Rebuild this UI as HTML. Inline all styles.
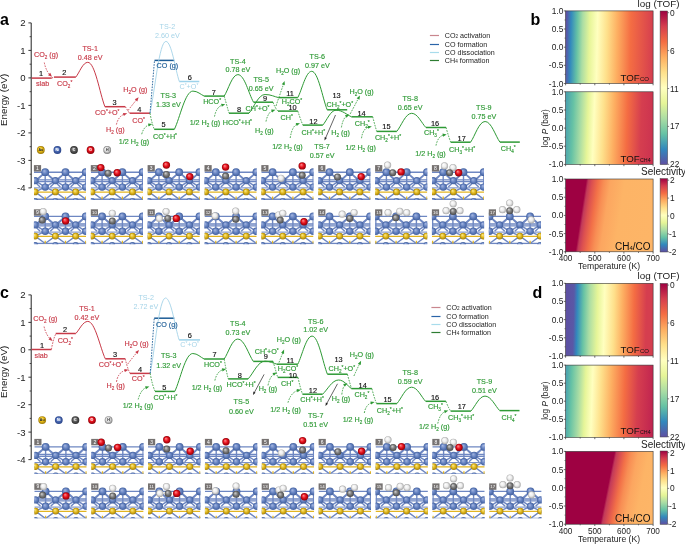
<!DOCTYPE html><html><head><meta charset="utf-8"><style>html,body{margin:0;padding:0;background:#fff;width:685px;height:544px;overflow:hidden}svg{display:block;will-change:transform}</style></head><body><svg width="685" height="544" viewBox="0 0 685 544" font-family="Liberation Sans, sans-serif">
<defs>
<radialGradient id="g_ni" cx="0.5" cy="0.5" r="0.5" fx="0.36" fy="0.32"><stop offset="0" stop-color="#a8b9e2"/><stop offset="0.55" stop-color="#6784c2"/><stop offset="1" stop-color="#42609e"/></radialGradient>
<radialGradient id="g_au" cx="0.5" cy="0.5" r="0.5" fx="0.36" fy="0.32"><stop offset="0" stop-color="#fbec96"/><stop offset="0.55" stop-color="#e2b91e"/><stop offset="1" stop-color="#a07e0a"/></radialGradient>
<radialGradient id="g_c" cx="0.5" cy="0.5" r="0.5" fx="0.36" fy="0.32"><stop offset="0" stop-color="#d4d4d4"/><stop offset="0.55" stop-color="#7c7c7c"/><stop offset="1" stop-color="#4a4a4a"/></radialGradient>
<radialGradient id="g_o" cx="0.5" cy="0.5" r="0.5" fx="0.36" fy="0.32"><stop offset="0" stop-color="#ff9090"/><stop offset="0.55" stop-color="#e6101c"/><stop offset="1" stop-color="#8c0008"/></radialGradient>
<radialGradient id="g_h" cx="0.5" cy="0.5" r="0.5" fx="0.36" fy="0.32"><stop offset="0" stop-color="#ffffff"/><stop offset="0.55" stop-color="#ececec"/><stop offset="1" stop-color="#a8a8a8"/></radialGradient>
<radialGradient id="L_ni" cx="0.5" cy="0.5" r="0.5" fx="0.36" fy="0.32"><stop offset="0" stop-color="#9ab0e0"/><stop offset="0.55" stop-color="#4868b2"/><stop offset="1" stop-color="#2a4488"/></radialGradient>
<radialGradient id="L_au" cx="0.5" cy="0.5" r="0.5" fx="0.36" fy="0.32"><stop offset="0" stop-color="#fff3a0"/><stop offset="0.55" stop-color="#e8bc18"/><stop offset="1" stop-color="#9a7606"/></radialGradient>
<radialGradient id="L_c" cx="0.5" cy="0.5" r="0.5" fx="0.36" fy="0.32"><stop offset="0" stop-color="#b0b0b0"/><stop offset="0.55" stop-color="#5c5c5c"/><stop offset="1" stop-color="#2c2c2c"/></radialGradient>
<radialGradient id="L_o" cx="0.5" cy="0.5" r="0.5" fx="0.36" fy="0.32"><stop offset="0" stop-color="#ff9090"/><stop offset="0.55" stop-color="#e6101c"/><stop offset="1" stop-color="#8c0008"/></radialGradient>
<radialGradient id="L_h" cx="0.5" cy="0.5" r="0.5" fx="0.36" fy="0.32"><stop offset="0" stop-color="#ffffff"/><stop offset="0.55" stop-color="#dcdcdc"/><stop offset="1" stop-color="#7c7c7c"/></radialGradient>
</defs>
<rect width="685" height="544" fill="#fff"/>
<text x="-0.1" y="24.6" font-size="16" font-weight="bold" fill="#000">a</text>
<text x="-0.1" y="297.7" font-size="16" font-weight="bold" fill="#000">c</text>
<text x="530.4" y="24.5" font-size="16" font-weight="bold" fill="#000">b</text>
<text x="532.6" y="298.2" font-size="16" font-weight="bold" fill="#000">d</text>
<line x1="31.2" y1="22.9" x2="31.2" y2="187.9" stroke="#222" stroke-width="1"/>
<line x1="28.4" y1="187.9" x2="31.2" y2="187.9" stroke="#222" stroke-width="0.9"/>
<text x="25.6" y="191.3" fill="#222" font-size="9.6" text-anchor="end" font-weight="normal" >-4</text>
<line x1="29.599999999999998" y1="174.2" x2="31.2" y2="174.2" stroke="#222" stroke-width="0.8"/>
<line x1="28.4" y1="160.4" x2="31.2" y2="160.4" stroke="#222" stroke-width="0.9"/>
<text x="25.6" y="163.8" fill="#222" font-size="9.6" text-anchor="end" font-weight="normal" >-3</text>
<line x1="29.599999999999998" y1="146.7" x2="31.2" y2="146.7" stroke="#222" stroke-width="0.8"/>
<line x1="28.4" y1="132.9" x2="31.2" y2="132.9" stroke="#222" stroke-width="0.9"/>
<text x="25.6" y="136.3" fill="#222" font-size="9.6" text-anchor="end" font-weight="normal" >-2</text>
<line x1="29.599999999999998" y1="119.2" x2="31.2" y2="119.2" stroke="#222" stroke-width="0.8"/>
<line x1="28.4" y1="105.4" x2="31.2" y2="105.4" stroke="#222" stroke-width="0.9"/>
<text x="25.6" y="108.8" fill="#222" font-size="9.6" text-anchor="end" font-weight="normal" >-1</text>
<line x1="29.599999999999998" y1="91.7" x2="31.2" y2="91.7" stroke="#222" stroke-width="0.8"/>
<line x1="28.4" y1="77.9" x2="31.2" y2="77.9" stroke="#222" stroke-width="0.9"/>
<text x="25.6" y="81.3" fill="#222" font-size="9.6" text-anchor="end" font-weight="normal" >0</text>
<line x1="29.599999999999998" y1="64.2" x2="31.2" y2="64.2" stroke="#222" stroke-width="0.8"/>
<line x1="28.4" y1="50.4" x2="31.2" y2="50.4" stroke="#222" stroke-width="0.9"/>
<text x="25.6" y="53.8" fill="#222" font-size="9.6" text-anchor="end" font-weight="normal" >1</text>
<line x1="29.599999999999998" y1="36.7" x2="31.2" y2="36.7" stroke="#222" stroke-width="0.8"/>
<line x1="28.4" y1="22.9" x2="31.2" y2="22.9" stroke="#222" stroke-width="0.9"/>
<text x="25.6" y="26.3" fill="#222" font-size="9.6" text-anchor="end" font-weight="normal" >2</text>
<text x="0" y="0" transform="translate(7.3,99.9) rotate(-90)" fill="#222" font-size="9.8" text-anchor="middle">Energy (eV)</text>
<line x1="31.6" y1="78.1" x2="51.7" y2="78.1" stroke="#c83a48" stroke-width="1.5"/>
<line x1="54.0" y1="77.1" x2="75.8" y2="77.1" stroke="#c83a48" stroke-width="1.5"/>
<line x1="104.9" y1="106.7" x2="125.3" y2="106.7" stroke="#c83a48" stroke-width="1.5"/>
<line x1="129.6" y1="113.2" x2="150.0" y2="113.2" stroke="#c83a48" stroke-width="1.5"/>
<line x1="154.5" y1="60.4" x2="174.2" y2="60.4" stroke="#1d5c96" stroke-width="1.5"/>
<line x1="154.2" y1="129.3" x2="174.4" y2="129.3" stroke="#2e9a35" stroke-width="1.5"/>
<line x1="179.3" y1="81.5" x2="199.3" y2="81.5" stroke="#9dd2ea" stroke-width="1.5"/>
<line x1="204.2" y1="96.1" x2="224.2" y2="96.1" stroke="#2e9a35" stroke-width="1.5"/>
<line x1="229.0" y1="113.2" x2="249.0" y2="113.2" stroke="#2e9a35" stroke-width="1.5"/>
<line x1="253.5" y1="102.2" x2="273.0" y2="102.2" stroke="#2e9a35" stroke-width="1.5"/>
<line x1="278.0" y1="111.1" x2="297.8" y2="111.1" stroke="#2e9a35" stroke-width="1.5"/>
<line x1="278.5" y1="97.6" x2="297.8" y2="97.6" stroke="#2e9a35" stroke-width="1.5"/>
<line x1="302.8" y1="125.1" x2="322.8" y2="125.1" stroke="#2e9a35" stroke-width="1.5"/>
<line x1="327.2" y1="109.8" x2="347.2" y2="109.8" stroke="#2e9a35" stroke-width="1.5"/>
<line x1="351.5" y1="116.8" x2="372.7" y2="116.8" stroke="#2e9a35" stroke-width="1.5"/>
<line x1="376.7" y1="131.4" x2="396.8" y2="131.4" stroke="#2e9a35" stroke-width="1.5"/>
<line x1="425.9" y1="127.5" x2="446.1" y2="127.5" stroke="#2e9a35" stroke-width="1.5"/>
<line x1="450.7" y1="142.2" x2="470.6" y2="142.2" stroke="#2e9a35" stroke-width="1.5"/>
<line x1="499.9" y1="142.1" x2="519.8" y2="142.1" stroke="#2e9a35" stroke-width="1.5"/>
<path d="M75.80,77.10 C79.40,72.66 82.76,62.30 87.80,62.30 C94.98,62.30 99.77,93.38 104.90,106.70" fill="none" stroke="#c83a48" stroke-width="1.0"/>
<path d="M150.00,113.20 C154.77,91.66 159.22,41.40 165.90,41.40 C171.53,41.40 175.28,69.47 179.30,81.50" fill="none" stroke="#a4d2e8" stroke-width="0.9"/>
<path d="M174.40,129.30 C179.95,117.84 185.13,91.10 192.90,91.10 C197.65,91.10 200.81,94.60 204.20,96.10" fill="none" stroke="#2e9a35" stroke-width="1.0"/>
<path d="M224.20,96.10 C228.31,89.65 232.15,74.60 237.90,74.60 C244.45,74.60 248.82,93.92 253.50,102.20" fill="none" stroke="#2e9a35" stroke-width="1.0"/>
<path d="M249.00,113.20 C253.83,107.59 258.34,94.50 265.10,94.50 C270.73,94.50 274.48,96.67 278.50,97.60" fill="none" stroke="#2e9a35" stroke-width="1.0"/>
<path d="M297.80,97.60 C301.97,89.71 305.86,71.30 311.70,71.30 C318.21,71.30 322.55,98.25 327.20,109.80" fill="none" stroke="#2e9a35" stroke-width="1.0"/>
<path d="M322.80,125.10 C326.76,120.63 330.46,110.20 336.00,110.20 C342.51,110.20 346.85,114.82 351.50,116.80" fill="none" stroke="#2e9a35" stroke-width="1.0"/>
<path d="M396.80,131.40 C401.27,125.97 405.44,113.30 411.70,113.30 C417.66,113.30 421.64,123.24 425.90,127.50" fill="none" stroke="#2e9a35" stroke-width="1.0"/>
<path d="M470.60,142.20 C474.95,135.99 479.01,121.50 485.10,121.50 C491.32,121.50 495.46,135.92 499.90,142.10" fill="none" stroke="#2e9a35" stroke-width="1.0"/>
<path d="M125.3,106.7 L129.2,112.8" fill="none" stroke="#c83a48" stroke-width="0.9" stroke-dasharray="1.6,1.2"/>
<path d="M150,113.2 L154.5,60.6" fill="none" stroke="#1d5c96" stroke-width="0.9" stroke-dasharray="1.6,1.2"/>
<path d="M150,113.2 Q151.5,122 154.2,129.3" fill="none" stroke="#2e9a35" stroke-width="0.9" stroke-dasharray="1.6,1.2"/>
<path d="M224.2,96.1 Q226.6,104.7 229,113.2" fill="none" stroke="#2e9a35" stroke-width="0.9" stroke-dasharray="1.6,1.2"/>
<path d="M273,102.2 Q275,108 278,111.1" fill="none" stroke="#2e9a35" stroke-width="0.9" stroke-dasharray="1.6,1.2"/>
<path d="M297.8,111.1 Q300,118 302.8,125.1" fill="none" stroke="#2e9a35" stroke-width="0.9" stroke-dasharray="1.6,1.2"/>
<path d="M372.7,116.8 Q374.5,124 376.7,131.4" fill="none" stroke="#2e9a35" stroke-width="0.9" stroke-dasharray="1.6,1.2"/>
<path d="M446.1,127.5 Q448,135 450.7,142.2" fill="none" stroke="#2e9a35" stroke-width="0.9" stroke-dasharray="1.6,1.2"/>
<path d="M51.7,78.1 L54,77.1" fill="none" stroke="#c83a48" stroke-width="0.9" stroke-dasharray="1.6,1.2"/>
<path d="M44.3,62.6 Q46.0,71.0 50.2,75.1" fill="none" stroke="#c83a48" stroke-width="0.9" stroke-dasharray="1.6,1.2"/>
<path d="M52.00,76.80 L48.01,75.17 L50.24,72.87 Z" fill="#c83a48"/>
<path d="M128.0,110.5 Q133.0,104.0 137.0,99.2" fill="none" stroke="#c83a48" stroke-width="0.9" stroke-dasharray="1.6,1.2"/>
<path d="M138.60,97.30 L137.26,101.40 L134.81,99.34 Z" fill="#c83a48"/>
<path d="M116.4,124.5 Q118.5,116.0 124.8,114.0" fill="none" stroke="#c83a48" stroke-width="0.9" stroke-dasharray="1.6,1.2"/>
<path d="M127.20,113.20 L123.88,115.95 L122.90,112.90 Z" fill="#c83a48"/>
<path d="M141.7,134.2 Q144.0,126.0 149.9,124.7" fill="none" stroke="#2e9a35" stroke-width="0.9" stroke-dasharray="1.6,1.2"/>
<path d="M152.30,124.10 L148.76,126.55 L148.04,123.43 Z" fill="#2e9a35"/>
<path d="M214.5,116.5 Q216.5,106.5 222.9,104.9" fill="none" stroke="#2e9a35" stroke-width="0.9" stroke-dasharray="1.6,1.2"/>
<path d="M225.30,104.30 L221.81,106.82 L221.03,103.72 Z" fill="#2e9a35"/>
<path d="M276.0,106.0 Q280.0,94.0 283.8,83.4" fill="none" stroke="#2e9a35" stroke-width="0.9" stroke-dasharray="1.6,1.2"/>
<path d="M284.60,81.00 L284.77,85.30 L281.76,84.24 Z" fill="#2e9a35"/>
<path d="M266.0,121.5 Q268.0,112.0 273.1,110.5" fill="none" stroke="#2e9a35" stroke-width="0.9" stroke-dasharray="1.6,1.2"/>
<path d="M275.50,109.80 L272.11,112.46 L271.21,109.39 Z" fill="#2e9a35"/>
<path d="M290.2,138.0 Q292.0,126.0 297.6,124.0" fill="none" stroke="#2e9a35" stroke-width="0.9" stroke-dasharray="1.6,1.2"/>
<path d="M300.00,123.20 L296.75,126.03 L295.70,123.01 Z" fill="#2e9a35"/>
<path d="M350.2,113.9 Q355.0,105.0 358.8,97.6" fill="none" stroke="#2e9a35" stroke-width="0.9" stroke-dasharray="1.6,1.2"/>
<path d="M359.90,95.40 L359.51,99.69 L356.66,98.24 Z" fill="#2e9a35"/>
<path d="M341.4,127.4 Q343.0,118.0 347.1,115.7" fill="none" stroke="#2e9a35" stroke-width="0.9" stroke-dasharray="1.6,1.2"/>
<path d="M349.30,114.50 L346.58,117.84 L345.03,115.04 Z" fill="#2e9a35"/>
<path d="M361.5,138.2 Q363.0,128.0 369.4,127.0" fill="none" stroke="#2e9a35" stroke-width="0.9" stroke-dasharray="1.6,1.2"/>
<path d="M371.90,126.60 L368.20,128.80 L367.70,125.64 Z" fill="#2e9a35"/>
<path d="M436.0,145.5 Q438.0,136.0 444.2,134.9" fill="none" stroke="#2e9a35" stroke-width="0.9" stroke-dasharray="1.6,1.2"/>
<path d="M446.70,134.50 L443.03,136.76 L442.49,133.60 Z" fill="#2e9a35"/>
<line x1="335.5" y1="115" x2="325.5" y2="138.2" stroke="#222" stroke-width="0.7"/>
<path d="M324.50,140.50 L324.67,137.09 L326.87,138.04 Z" fill="#222"/>
<text x="41.0" y="75.7" fill="#111" font-size="7.4" text-anchor="middle" font-weight="normal" stroke="#111" stroke-width="0.15">1</text>
<text x="64.2" y="74.5" fill="#111" font-size="7.4" text-anchor="middle" font-weight="normal" stroke="#111" stroke-width="0.15">2</text>
<text x="114.5" y="104.7" fill="#111" font-size="7.4" text-anchor="middle" font-weight="normal" stroke="#111" stroke-width="0.15">3</text>
<text x="139.4" y="111.8" fill="#111" font-size="7.4" text-anchor="middle" font-weight="normal" stroke="#111" stroke-width="0.15">4</text>
<text x="163.5" y="126.9" fill="#111" font-size="7.4" text-anchor="middle" font-weight="normal" stroke="#111" stroke-width="0.15">5</text>
<text x="189.7" y="79.7" fill="#111" font-size="7.4" text-anchor="middle" font-weight="normal" stroke="#111" stroke-width="0.15">6</text>
<text x="213.8" y="94.5" fill="#111" font-size="7.4" text-anchor="middle" font-weight="normal" stroke="#111" stroke-width="0.15">7</text>
<text x="239.1" y="111.9" fill="#111" font-size="7.4" text-anchor="middle" font-weight="normal" stroke="#111" stroke-width="0.15">8</text>
<text x="265.1" y="100.7" fill="#111" font-size="7.4" text-anchor="middle" font-weight="normal" stroke="#111" stroke-width="0.15">9</text>
<text x="292.6" y="110.1" fill="#111" font-size="7.4" text-anchor="middle" font-weight="normal" stroke="#111" stroke-width="0.15">10</text>
<text x="290.0" y="95.5" fill="#111" font-size="7.4" text-anchor="middle" font-weight="normal" stroke="#111" stroke-width="0.15">11</text>
<text x="313.4" y="123.9" fill="#111" font-size="7.4" text-anchor="middle" font-weight="normal" stroke="#111" stroke-width="0.15">12</text>
<text x="336.6" y="98.1" fill="#111" font-size="7.4" text-anchor="middle" font-weight="normal" stroke="#111" stroke-width="0.15">13</text>
<text x="361.5" y="115.7" fill="#111" font-size="7.4" text-anchor="middle" font-weight="normal" stroke="#111" stroke-width="0.15">14</text>
<text x="386.4" y="129.3" fill="#111" font-size="7.4" text-anchor="middle" font-weight="normal" stroke="#111" stroke-width="0.15">15</text>
<text x="435.0" y="126.1" fill="#111" font-size="7.4" text-anchor="middle" font-weight="normal" stroke="#111" stroke-width="0.15">16</text>
<text x="461.7" y="140.8" fill="#111" font-size="7.4" text-anchor="middle" font-weight="normal" stroke="#111" stroke-width="0.15">17</text>
<text x="42.6" y="86.2" fill="#c83a48" font-size="7.2" text-anchor="middle" font-weight="normal" stroke="#c83a48" stroke-width="0.15">slab</text>
<text x="64.7" y="86.2" fill="#c83a48" font-size="7.2" text-anchor="middle" font-weight="normal" stroke="#c83a48" stroke-width="0.15">CO<tspan font-size="64%" baseline-shift="-1.7">2</tspan><tspan font-size="68%" baseline-shift="2.3">*</tspan></text>
<text x="46.0" y="57.2" fill="#c83a48" font-size="7.2" text-anchor="middle" font-weight="normal" stroke="#c83a48" stroke-width="0.15">CO<tspan font-size="64%" baseline-shift="-1.7">2</tspan> (g)</text>
<text x="90.2" y="51.3" fill="#c83a48" font-size="7.2" text-anchor="middle" font-weight="normal" stroke="#c83a48" stroke-width="0.15">TS-1</text>
<text x="90.2" y="60.1" fill="#c83a48" font-size="7.2" text-anchor="middle" font-weight="normal" stroke="#c83a48" stroke-width="0.15">0.48 eV</text>
<text x="107.3" y="115.3" fill="#c83a48" font-size="7.2" text-anchor="middle" font-weight="normal" stroke="#c83a48" stroke-width="0.15">CO<tspan font-size="68%" baseline-shift="2.3">*</tspan>+O<tspan font-size="68%" baseline-shift="2.3">*</tspan></text>
<text x="135.4" y="91.5" fill="#c83a48" font-size="7.2" text-anchor="middle" font-weight="normal" stroke="#c83a48" stroke-width="0.15">H<tspan font-size="64%" baseline-shift="-1.7">2</tspan>O (g)</text>
<text x="115.3" y="131.8" fill="#c83a48" font-size="7.2" text-anchor="middle" font-weight="normal" stroke="#c83a48" stroke-width="0.15">H<tspan font-size="64%" baseline-shift="-1.7">2</tspan> (g)</text>
<text x="138.6" y="122.5" fill="#c83a48" font-size="7.2" text-anchor="middle" font-weight="normal" stroke="#c83a48" stroke-width="0.15">CO<tspan font-size="68%" baseline-shift="2.3">*</tspan></text>
<text x="167.4" y="29.1" fill="#a6d4e8" font-size="7.2" text-anchor="middle" font-weight="normal" stroke="#a6d4e8" stroke-width="0">TS-2</text>
<text x="167.4" y="37.6" fill="#a6d4e8" font-size="7.2" text-anchor="middle" font-weight="normal" stroke="#a6d4e8" stroke-width="0">2.60 eV</text>
<text x="167.4" y="67.6" fill="#1d5c96" font-size="7.2" text-anchor="middle" font-weight="normal" stroke="#1d5c96" stroke-width="0.15">CO (g)</text>
<text x="188.9" y="88.8" fill="#a6d4e8" font-size="7.2" text-anchor="middle" font-weight="normal" stroke="#a6d4e8" stroke-width="0">C<tspan font-size="68%" baseline-shift="2.3">*</tspan>+O<tspan font-size="68%" baseline-shift="2.3">*</tspan></text>
<text x="168.3" y="98.2" fill="#2e9a35" font-size="7.2" text-anchor="middle" font-weight="normal" stroke="#2e9a35" stroke-width="0.15">TS-3</text>
<text x="168.3" y="106.8" fill="#2e9a35" font-size="7.2" text-anchor="middle" font-weight="normal" stroke="#2e9a35" stroke-width="0.15">1.33 eV</text>
<text x="165.0" y="139.2" fill="#2e9a35" font-size="7.2" text-anchor="middle" font-weight="normal" stroke="#2e9a35" stroke-width="0.15">CO<tspan font-size="68%" baseline-shift="2.3">*</tspan>+H<tspan font-size="68%" baseline-shift="2.3">*</tspan></text>
<text x="134.0" y="144.2" fill="#2e9a35" font-size="7.2" text-anchor="middle" font-weight="normal" stroke="#2e9a35" stroke-width="0.15">1/2 H<tspan font-size="64%" baseline-shift="-1.7">2</tspan> (g)</text>
<text x="212.1" y="104.3" fill="#2e9a35" font-size="7.2" text-anchor="middle" font-weight="normal" stroke="#2e9a35" stroke-width="0.15">HCO<tspan font-size="68%" baseline-shift="2.3">*</tspan></text>
<text x="237.9" y="63.6" fill="#2e9a35" font-size="7.2" text-anchor="middle" font-weight="normal" stroke="#2e9a35" stroke-width="0.15">TS-4</text>
<text x="237.9" y="71.8" fill="#2e9a35" font-size="7.2" text-anchor="middle" font-weight="normal" stroke="#2e9a35" stroke-width="0.15">0.78 eV</text>
<text x="204.9" y="125.2" fill="#2e9a35" font-size="7.2" text-anchor="middle" font-weight="normal" stroke="#2e9a35" stroke-width="0.15">1/2 H<tspan font-size="64%" baseline-shift="-1.7">2</tspan> (g)</text>
<text x="237.4" y="125.2" fill="#2e9a35" font-size="7.2" text-anchor="middle" font-weight="normal" stroke="#2e9a35" stroke-width="0.15">HCO<tspan font-size="68%" baseline-shift="2.3">*</tspan>+H<tspan font-size="68%" baseline-shift="2.3">*</tspan></text>
<text x="261.2" y="82.0" fill="#2e9a35" font-size="7.2" text-anchor="middle" font-weight="normal" stroke="#2e9a35" stroke-width="0.15">TS-5</text>
<text x="261.2" y="90.8" fill="#2e9a35" font-size="7.2" text-anchor="middle" font-weight="normal" stroke="#2e9a35" stroke-width="0.15">0.65 eV</text>
<text x="257.5" y="111.1" fill="#2e9a35" font-size="7.2" text-anchor="middle" font-weight="normal" stroke="#2e9a35" stroke-width="0.15">CH<tspan font-size="68%" baseline-shift="2.3">*</tspan>+O<tspan font-size="68%" baseline-shift="2.3">*</tspan></text>
<text x="264.3" y="132.7" fill="#2e9a35" font-size="7.2" text-anchor="middle" font-weight="normal" stroke="#2e9a35" stroke-width="0.15">H<tspan font-size="64%" baseline-shift="-1.7">2</tspan> (g)</text>
<text x="288.0" y="73.0" fill="#2e9a35" font-size="7.2" text-anchor="middle" font-weight="normal" stroke="#2e9a35" stroke-width="0.15">H<tspan font-size="64%" baseline-shift="-1.7">2</tspan>O (g)</text>
<text x="292.0" y="104.4" fill="#2e9a35" font-size="7.2" text-anchor="middle" font-weight="normal" stroke="#2e9a35" stroke-width="0.15">H<tspan font-size="64%" baseline-shift="-1.7">2</tspan>CO<tspan font-size="68%" baseline-shift="2.3">*</tspan></text>
<text x="286.7" y="119.9" fill="#2e9a35" font-size="7.2" text-anchor="middle" font-weight="normal" stroke="#2e9a35" stroke-width="0.15">CH<tspan font-size="68%" baseline-shift="2.3">*</tspan></text>
<text x="317.3" y="58.6" fill="#2e9a35" font-size="7.2" text-anchor="middle" font-weight="normal" stroke="#2e9a35" stroke-width="0.15">TS-6</text>
<text x="317.3" y="68.0" fill="#2e9a35" font-size="7.2" text-anchor="middle" font-weight="normal" stroke="#2e9a35" stroke-width="0.15">0.97 eV</text>
<text x="287.4" y="148.7" fill="#2e9a35" font-size="7.2" text-anchor="middle" font-weight="normal" stroke="#2e9a35" stroke-width="0.15">1/2 H<tspan font-size="64%" baseline-shift="-1.7">2</tspan> (g)</text>
<text x="313.3" y="134.7" fill="#2e9a35" font-size="7.2" text-anchor="middle" font-weight="normal" stroke="#2e9a35" stroke-width="0.15">CH<tspan font-size="68%" baseline-shift="2.3">*</tspan>+H<tspan font-size="68%" baseline-shift="2.3">*</tspan></text>
<text x="322.1" y="149.1" fill="#2e9a35" font-size="7.2" text-anchor="middle" font-weight="normal" stroke="#2e9a35" stroke-width="0.15">TS-7</text>
<text x="322.1" y="158.4" fill="#2e9a35" font-size="7.2" text-anchor="middle" font-weight="normal" stroke="#2e9a35" stroke-width="0.15">0.57 eV</text>
<text x="339.8" y="106.8" fill="#2e9a35" font-size="7.2" text-anchor="middle" font-weight="normal" stroke="#2e9a35" stroke-width="0.15">CH<tspan font-size="64%" baseline-shift="-1.7">2</tspan><tspan font-size="68%" baseline-shift="2.3">*</tspan>+O<tspan font-size="68%" baseline-shift="2.3">*</tspan></text>
<text x="361.5" y="93.7" fill="#2e9a35" font-size="7.2" text-anchor="middle" font-weight="normal" stroke="#2e9a35" stroke-width="0.15">H<tspan font-size="64%" baseline-shift="-1.7">2</tspan>O (g)</text>
<text x="340.6" y="135.2" fill="#2e9a35" font-size="7.2" text-anchor="middle" font-weight="normal" stroke="#2e9a35" stroke-width="0.15">H<tspan font-size="64%" baseline-shift="-1.7">2</tspan> (g)</text>
<text x="362.3" y="126.0" fill="#2e9a35" font-size="7.2" text-anchor="middle" font-weight="normal" stroke="#2e9a35" stroke-width="0.15">CH<tspan font-size="64%" baseline-shift="-1.7">2</tspan><tspan font-size="68%" baseline-shift="2.3">*</tspan></text>
<text x="360.7" y="149.6" fill="#2e9a35" font-size="7.2" text-anchor="middle" font-weight="normal" stroke="#2e9a35" stroke-width="0.15">1/2 H<tspan font-size="64%" baseline-shift="-1.7">2</tspan> (g)</text>
<text x="388.0" y="139.5" fill="#2e9a35" font-size="7.2" text-anchor="middle" font-weight="normal" stroke="#2e9a35" stroke-width="0.15">CH<tspan font-size="64%" baseline-shift="-1.7">2</tspan><tspan font-size="68%" baseline-shift="2.3">*</tspan>+H<tspan font-size="68%" baseline-shift="2.3">*</tspan></text>
<text x="410.2" y="101.2" fill="#2e9a35" font-size="7.2" text-anchor="middle" font-weight="normal" stroke="#2e9a35" stroke-width="0.15">TS-8</text>
<text x="410.2" y="110.1" fill="#2e9a35" font-size="7.2" text-anchor="middle" font-weight="normal" stroke="#2e9a35" stroke-width="0.15">0.65 eV</text>
<text x="431.4" y="135.3" fill="#2e9a35" font-size="7.2" text-anchor="middle" font-weight="normal" stroke="#2e9a35" stroke-width="0.15">CH<tspan font-size="64%" baseline-shift="-1.7">3</tspan><tspan font-size="68%" baseline-shift="2.3">*</tspan></text>
<text x="430.5" y="156.4" fill="#2e9a35" font-size="7.2" text-anchor="middle" font-weight="normal" stroke="#2e9a35" stroke-width="0.15">1/2 H<tspan font-size="64%" baseline-shift="-1.7">2</tspan> (g)</text>
<text x="462.1" y="151.5" fill="#2e9a35" font-size="7.2" text-anchor="middle" font-weight="normal" stroke="#2e9a35" stroke-width="0.15">CH<tspan font-size="64%" baseline-shift="-1.7">3</tspan><tspan font-size="68%" baseline-shift="2.3">*</tspan>+H<tspan font-size="68%" baseline-shift="2.3">*</tspan></text>
<text x="483.8" y="110.1" fill="#2e9a35" font-size="7.2" text-anchor="middle" font-weight="normal" stroke="#2e9a35" stroke-width="0.15">TS-9</text>
<text x="483.8" y="118.7" fill="#2e9a35" font-size="7.2" text-anchor="middle" font-weight="normal" stroke="#2e9a35" stroke-width="0.15">0.75 eV</text>
<text x="508.2" y="151.1" fill="#2e9a35" font-size="7.2" text-anchor="middle" font-weight="normal" stroke="#2e9a35" stroke-width="0.15">CH<tspan font-size="64%" baseline-shift="-1.7">4</tspan><tspan font-size="68%" baseline-shift="2.3">*</tspan></text>
<line x1="429.9" y1="35.5" x2="439.0" y2="35.5" stroke="#c9868e" stroke-width="1.2"/>
<text x="444.8" y="38.0" fill="#222" font-size="7.15" text-anchor="start" font-weight="normal" >CO<tspan font-size="65%">2</tspan> activation</text>
<line x1="429.9" y1="44.5" x2="439.0" y2="44.5" stroke="#2a64a8" stroke-width="1.2"/>
<text x="444.8" y="47.0" fill="#222" font-size="7.15" text-anchor="start" font-weight="normal" >CO formation</text>
<line x1="429.9" y1="52.5" x2="439.0" y2="52.5" stroke="#a8dcec" stroke-width="1.2"/>
<text x="444.8" y="55.0" fill="#222" font-size="7.15" text-anchor="start" font-weight="normal" >CO dissociation</text>
<line x1="429.9" y1="60.5" x2="439.0" y2="60.5" stroke="#2e7d32" stroke-width="1.2"/>
<text x="444.8" y="63.0" fill="#222" font-size="7.15" text-anchor="start" font-weight="normal" >CH<tspan font-size="65%">4</tspan> formation</text>
<circle cx="40.8" cy="150" r="3.9" fill="url(#L_au)"/>
<text x="40.8" y="151.3" fill="#222" font-size="3.6" text-anchor="middle" font-weight="bold" >Au</text>
<circle cx="57.4" cy="150" r="3.9" fill="url(#L_ni)"/>
<text x="57.4" y="151.3" fill="#fff" font-size="3.6" text-anchor="middle" font-weight="bold" >Ni</text>
<circle cx="74.0" cy="150" r="3.9" fill="url(#L_c)"/>
<text x="74.0" y="151.3" fill="#fff" font-size="3.6" text-anchor="middle" font-weight="bold" >C</text>
<circle cx="90.6" cy="150" r="3.9" fill="url(#L_o)"/>
<text x="90.6" y="151.3" fill="#fff" font-size="3.6" text-anchor="middle" font-weight="bold" >O</text>
<circle cx="107.2" cy="150" r="3.9" fill="url(#L_h)"/>
<text x="107.2" y="151.3" fill="#222" font-size="3.6" text-anchor="middle" font-weight="bold" >H</text>
<clipPath id="cl1"><rect x="33.9" y="165.1" width="52.2" height="34.9"/></clipPath>
<g clip-path="url(#cl1)">
<line x1="33.9" y1="172.2" x2="86.1" y2="172.2" stroke="#6e87c2" stroke-width="1.4"/>
<line x1="33.9" y1="179.8" x2="86.1" y2="179.8" stroke="#6e87c2" stroke-width="1.3"/>
<line x1="33.9" y1="181.7" x2="86.1" y2="181.7" stroke="#6e87c2" stroke-width="1.3"/>
<line x1="33.9" y1="187.9" x2="86.1" y2="187.9" stroke="#6e87c2" stroke-width="1.0"/>
<line x1="33.9" y1="199.3" x2="86.1" y2="199.3" stroke="#6e87c2" stroke-width="1.4"/>
<path d="M24.9,172.2 L35.1,180.7 L45.2,172.2 M24.9,172.2 L24.9,187.1 M14.8,180.7 L24.9,187.1 L35.1,180.7 M24.9,187.1 L35.1,191.9 M24.9,187.1 L14.8,191.9 M35.1,191.9 L24.9,199.3 L14.8,191.9 M24.9,172.2 L40.1,187.1 M24.9,172.2 L9.7,187.1 M45.2,172.2 L55.4,180.7 L65.5,172.2 M45.2,172.2 L45.2,187.1 M35.1,180.7 L45.2,187.1 L55.4,180.7 M45.2,187.1 L55.4,191.9 M45.2,187.1 L35.1,191.9 M55.4,191.9 L45.2,199.3 L35.1,191.9 M45.2,172.2 L60.4,187.1 M45.2,172.2 L30.0,187.1 M65.5,172.2 L75.7,180.7 L85.8,172.2 M65.5,172.2 L65.5,187.1 M55.4,180.7 L65.5,187.1 L75.7,180.7 M65.5,187.1 L75.7,191.9 M65.5,187.1 L55.4,191.9 M75.7,191.9 L65.5,199.3 L55.4,191.9 M65.5,172.2 L80.7,187.1 M65.5,172.2 L50.3,187.1 M85.8,172.2 L96.0,180.7 L106.1,172.2 M85.8,172.2 L85.8,187.1 M75.7,180.7 L85.8,187.1 L96.0,180.7 M85.8,187.1 L96.0,191.9 M85.8,187.1 L75.7,191.9 M96.0,191.9 L85.8,199.3 L75.7,191.9 M85.8,172.2 L101.0,187.1 M85.8,172.2 L70.6,187.1 M106.1,172.2 L116.3,180.7 L126.4,172.2 M106.1,172.2 L106.1,187.1 M96.0,180.7 L106.1,187.1 L116.3,180.7 M106.1,187.1 L116.3,191.9 M106.1,187.1 L96.0,191.9 M116.3,191.9 L106.1,199.3 L96.0,191.9 M106.1,172.2 L121.3,187.1 M106.1,172.2 L90.9,187.1 " stroke="#6e87c2" stroke-width="1.4" fill="none"/>
<line x1="33.9" y1="192.2" x2="86.1" y2="192.2" stroke="#e2b522" stroke-width="1.2"/>
<line x1="24.9" y1="196.5" x2="24.9" y2="199.3" stroke="#e2b522" stroke-width="1.3"/>
<line x1="45.2" y1="196.5" x2="45.2" y2="199.3" stroke="#e2b522" stroke-width="1.3"/>
<line x1="65.5" y1="196.5" x2="65.5" y2="199.3" stroke="#e2b522" stroke-width="1.3"/>
<line x1="85.8" y1="196.5" x2="85.8" y2="199.3" stroke="#e2b522" stroke-width="1.3"/>
<line x1="106.1" y1="196.5" x2="106.1" y2="199.3" stroke="#e2b522" stroke-width="1.3"/>
<circle cx="35.1" cy="200.9" r="3.0" fill="url(#g_ni)"/>
<circle cx="55.4" cy="200.9" r="3.0" fill="url(#g_ni)"/>
<circle cx="75.7" cy="200.9" r="3.0" fill="url(#g_ni)"/>
<circle cx="96.0" cy="200.9" r="3.0" fill="url(#g_ni)"/>
<circle cx="116.3" cy="200.9" r="3.0" fill="url(#g_ni)"/>
<circle cx="35.1" cy="180.7" r="3.6" fill="url(#g_ni)"/>
<circle cx="55.4" cy="180.7" r="3.6" fill="url(#g_ni)"/>
<circle cx="75.7" cy="180.7" r="3.6" fill="url(#g_ni)"/>
<circle cx="96.0" cy="180.7" r="3.6" fill="url(#g_ni)"/>
<circle cx="116.3" cy="180.7" r="3.6" fill="url(#g_ni)"/>
<circle cx="24.9" cy="187.1" r="3.7" fill="url(#g_ni)"/>
<circle cx="45.2" cy="187.1" r="3.7" fill="url(#g_ni)"/>
<circle cx="65.5" cy="187.1" r="3.7" fill="url(#g_ni)"/>
<circle cx="85.8" cy="187.1" r="3.7" fill="url(#g_ni)"/>
<circle cx="106.1" cy="187.1" r="3.7" fill="url(#g_ni)"/>
<circle cx="35.1" cy="191.9" r="3.4" fill="url(#g_au)"/>
<circle cx="55.4" cy="191.9" r="3.4" fill="url(#g_au)"/>
<circle cx="75.7" cy="191.9" r="3.4" fill="url(#g_au)"/>
<circle cx="96.0" cy="191.9" r="3.4" fill="url(#g_au)"/>
<circle cx="116.3" cy="191.9" r="3.4" fill="url(#g_au)"/>
<circle cx="24.9" cy="172.2" r="3.9" fill="url(#g_ni)"/>
<circle cx="45.2" cy="172.2" r="3.9" fill="url(#g_ni)"/>
<circle cx="65.5" cy="172.2" r="3.9" fill="url(#g_ni)"/>
<circle cx="85.8" cy="172.2" r="3.9" fill="url(#g_ni)"/>
<circle cx="106.1" cy="172.2" r="3.9" fill="url(#g_ni)"/>
</g>
<rect x="33.9" y="165.1" width="7.2" height="6.4" fill="#767271"/>
<text x="37.5" y="170.0" fill="#fff" font-size="5.0" text-anchor="middle" font-weight="normal" >1</text>
<clipPath id="cl2"><rect x="90.8" y="165.1" width="52.2" height="34.9"/></clipPath>
<g clip-path="url(#cl2)">
<line x1="90.8" y1="172.2" x2="143.0" y2="172.2" stroke="#6e87c2" stroke-width="1.4"/>
<line x1="90.8" y1="179.8" x2="143.0" y2="179.8" stroke="#6e87c2" stroke-width="1.3"/>
<line x1="90.8" y1="181.7" x2="143.0" y2="181.7" stroke="#6e87c2" stroke-width="1.3"/>
<line x1="90.8" y1="187.9" x2="143.0" y2="187.9" stroke="#6e87c2" stroke-width="1.0"/>
<line x1="90.8" y1="199.3" x2="143.0" y2="199.3" stroke="#6e87c2" stroke-width="1.4"/>
<path d="M81.8,172.2 L91.9,180.7 L102.1,172.2 M81.8,172.2 L81.8,187.1 M71.6,180.7 L81.8,187.1 L91.9,180.7 M81.8,187.1 L91.9,191.9 M81.8,187.1 L71.6,191.9 M91.9,191.9 L81.8,199.3 L71.6,191.9 M81.8,172.2 L97.0,187.1 M81.8,172.2 L66.5,187.1 M102.1,172.2 L112.2,180.7 L122.4,172.2 M102.1,172.2 L102.1,187.1 M91.9,180.7 L102.1,187.1 L112.2,180.7 M102.1,187.1 L112.2,191.9 M102.1,187.1 L91.9,191.9 M112.2,191.9 L102.1,199.3 L91.9,191.9 M102.1,172.2 L117.3,187.1 M102.1,172.2 L86.8,187.1 M122.4,172.2 L132.5,180.7 L142.7,172.2 M122.4,172.2 L122.4,187.1 M112.2,180.7 L122.4,187.1 L132.5,180.7 M122.4,187.1 L132.5,191.9 M122.4,187.1 L112.2,191.9 M132.5,191.9 L122.4,199.3 L112.2,191.9 M122.4,172.2 L137.6,187.1 M122.4,172.2 L107.1,187.1 M142.7,172.2 L152.8,180.7 L163.0,172.2 M142.7,172.2 L142.7,187.1 M132.5,180.7 L142.7,187.1 L152.8,180.7 M142.7,187.1 L152.8,191.9 M142.7,187.1 L132.5,191.9 M152.8,191.9 L142.7,199.3 L132.5,191.9 M142.7,172.2 L157.9,187.1 M142.7,172.2 L127.4,187.1 M163.0,172.2 L173.1,180.7 L183.3,172.2 M163.0,172.2 L163.0,187.1 M152.8,180.7 L163.0,187.1 L173.1,180.7 M163.0,187.1 L173.1,191.9 M163.0,187.1 L152.8,191.9 M173.1,191.9 L163.0,199.3 L152.8,191.9 M163.0,172.2 L178.2,187.1 M163.0,172.2 L147.7,187.1 " stroke="#6e87c2" stroke-width="1.4" fill="none"/>
<line x1="90.8" y1="192.2" x2="143.0" y2="192.2" stroke="#e2b522" stroke-width="1.2"/>
<line x1="81.8" y1="196.5" x2="81.8" y2="199.3" stroke="#e2b522" stroke-width="1.3"/>
<line x1="102.1" y1="196.5" x2="102.1" y2="199.3" stroke="#e2b522" stroke-width="1.3"/>
<line x1="122.4" y1="196.5" x2="122.4" y2="199.3" stroke="#e2b522" stroke-width="1.3"/>
<line x1="142.7" y1="196.5" x2="142.7" y2="199.3" stroke="#e2b522" stroke-width="1.3"/>
<line x1="163.0" y1="196.5" x2="163.0" y2="199.3" stroke="#e2b522" stroke-width="1.3"/>
<circle cx="91.9" cy="200.9" r="3.0" fill="url(#g_ni)"/>
<circle cx="112.2" cy="200.9" r="3.0" fill="url(#g_ni)"/>
<circle cx="132.5" cy="200.9" r="3.0" fill="url(#g_ni)"/>
<circle cx="152.8" cy="200.9" r="3.0" fill="url(#g_ni)"/>
<circle cx="173.1" cy="200.9" r="3.0" fill="url(#g_ni)"/>
<circle cx="91.9" cy="180.7" r="3.6" fill="url(#g_ni)"/>
<circle cx="112.2" cy="180.7" r="3.6" fill="url(#g_ni)"/>
<circle cx="132.5" cy="180.7" r="3.6" fill="url(#g_ni)"/>
<circle cx="152.8" cy="180.7" r="3.6" fill="url(#g_ni)"/>
<circle cx="173.1" cy="180.7" r="3.6" fill="url(#g_ni)"/>
<circle cx="81.8" cy="187.1" r="3.7" fill="url(#g_ni)"/>
<circle cx="102.1" cy="187.1" r="3.7" fill="url(#g_ni)"/>
<circle cx="122.4" cy="187.1" r="3.7" fill="url(#g_ni)"/>
<circle cx="142.7" cy="187.1" r="3.7" fill="url(#g_ni)"/>
<circle cx="163.0" cy="187.1" r="3.7" fill="url(#g_ni)"/>
<circle cx="91.9" cy="191.9" r="3.4" fill="url(#g_au)"/>
<circle cx="112.2" cy="191.9" r="3.4" fill="url(#g_au)"/>
<circle cx="132.5" cy="191.9" r="3.4" fill="url(#g_au)"/>
<circle cx="152.8" cy="191.9" r="3.4" fill="url(#g_au)"/>
<circle cx="173.1" cy="191.9" r="3.4" fill="url(#g_au)"/>
<circle cx="81.8" cy="172.2" r="3.9" fill="url(#g_ni)"/>
<circle cx="102.1" cy="172.2" r="3.9" fill="url(#g_ni)"/>
<circle cx="122.4" cy="172.2" r="3.9" fill="url(#g_ni)"/>
<circle cx="142.7" cy="172.2" r="3.9" fill="url(#g_ni)"/>
<circle cx="163.0" cy="172.2" r="3.9" fill="url(#g_ni)"/>
</g>
<rect x="90.8" y="165.1" width="7.2" height="6.4" fill="#767271"/>
<text x="94.4" y="170.0" fill="#fff" font-size="5.0" text-anchor="middle" font-weight="normal" >2</text>
<circle cx="100.8" cy="167.6" r="3.7" fill="url(#g_o)"/>
<circle cx="108.1" cy="173.2" r="3.5" fill="url(#g_c)"/>
<circle cx="117.2" cy="172.7" r="3.7" fill="url(#g_o)"/>
<clipPath id="cl3"><rect x="147.6" y="165.1" width="52.2" height="34.9"/></clipPath>
<g clip-path="url(#cl3)">
<line x1="147.6" y1="172.2" x2="199.8" y2="172.2" stroke="#6e87c2" stroke-width="1.4"/>
<line x1="147.6" y1="179.8" x2="199.8" y2="179.8" stroke="#6e87c2" stroke-width="1.3"/>
<line x1="147.6" y1="181.7" x2="199.8" y2="181.7" stroke="#6e87c2" stroke-width="1.3"/>
<line x1="147.6" y1="187.9" x2="199.8" y2="187.9" stroke="#6e87c2" stroke-width="1.0"/>
<line x1="147.6" y1="199.3" x2="199.8" y2="199.3" stroke="#6e87c2" stroke-width="1.4"/>
<path d="M138.6,172.2 L148.8,180.7 L158.9,172.2 M138.6,172.2 L138.6,187.1 M128.5,180.7 L138.6,187.1 L148.8,180.7 M138.6,187.1 L148.8,191.9 M138.6,187.1 L128.5,191.9 M148.8,191.9 L138.6,199.3 L128.5,191.9 M138.6,172.2 L153.8,187.1 M138.6,172.2 L123.4,187.1 M158.9,172.2 L169.1,180.7 L179.2,172.2 M158.9,172.2 L158.9,187.1 M148.8,180.7 L158.9,187.1 L169.1,180.7 M158.9,187.1 L169.1,191.9 M158.9,187.1 L148.8,191.9 M169.1,191.9 L158.9,199.3 L148.8,191.9 M158.9,172.2 L174.1,187.1 M158.9,172.2 L143.7,187.1 M179.2,172.2 L189.4,180.7 L199.5,172.2 M179.2,172.2 L179.2,187.1 M169.1,180.7 L179.2,187.1 L189.4,180.7 M179.2,187.1 L189.4,191.9 M179.2,187.1 L169.1,191.9 M189.4,191.9 L179.2,199.3 L169.1,191.9 M179.2,172.2 L194.4,187.1 M179.2,172.2 L164.0,187.1 M199.5,172.2 L209.7,180.7 L219.8,172.2 M199.5,172.2 L199.5,187.1 M189.4,180.7 L199.5,187.1 L209.7,180.7 M199.5,187.1 L209.7,191.9 M199.5,187.1 L189.4,191.9 M209.7,191.9 L199.5,199.3 L189.4,191.9 M199.5,172.2 L214.7,187.1 M199.5,172.2 L184.3,187.1 M219.8,172.2 L230.0,180.7 L240.1,172.2 M219.8,172.2 L219.8,187.1 M209.7,180.7 L219.8,187.1 L230.0,180.7 M219.8,187.1 L230.0,191.9 M219.8,187.1 L209.7,191.9 M230.0,191.9 L219.8,199.3 L209.7,191.9 M219.8,172.2 L235.0,187.1 M219.8,172.2 L204.6,187.1 " stroke="#6e87c2" stroke-width="1.4" fill="none"/>
<line x1="147.6" y1="192.2" x2="199.8" y2="192.2" stroke="#e2b522" stroke-width="1.2"/>
<line x1="138.6" y1="196.5" x2="138.6" y2="199.3" stroke="#e2b522" stroke-width="1.3"/>
<line x1="158.9" y1="196.5" x2="158.9" y2="199.3" stroke="#e2b522" stroke-width="1.3"/>
<line x1="179.2" y1="196.5" x2="179.2" y2="199.3" stroke="#e2b522" stroke-width="1.3"/>
<line x1="199.5" y1="196.5" x2="199.5" y2="199.3" stroke="#e2b522" stroke-width="1.3"/>
<line x1="219.8" y1="196.5" x2="219.8" y2="199.3" stroke="#e2b522" stroke-width="1.3"/>
<circle cx="148.8" cy="200.9" r="3.0" fill="url(#g_ni)"/>
<circle cx="169.1" cy="200.9" r="3.0" fill="url(#g_ni)"/>
<circle cx="189.4" cy="200.9" r="3.0" fill="url(#g_ni)"/>
<circle cx="209.7" cy="200.9" r="3.0" fill="url(#g_ni)"/>
<circle cx="230.0" cy="200.9" r="3.0" fill="url(#g_ni)"/>
<circle cx="148.8" cy="180.7" r="3.6" fill="url(#g_ni)"/>
<circle cx="169.1" cy="180.7" r="3.6" fill="url(#g_ni)"/>
<circle cx="189.4" cy="180.7" r="3.6" fill="url(#g_ni)"/>
<circle cx="209.7" cy="180.7" r="3.6" fill="url(#g_ni)"/>
<circle cx="230.0" cy="180.7" r="3.6" fill="url(#g_ni)"/>
<circle cx="138.6" cy="187.1" r="3.7" fill="url(#g_ni)"/>
<circle cx="158.9" cy="187.1" r="3.7" fill="url(#g_ni)"/>
<circle cx="179.2" cy="187.1" r="3.7" fill="url(#g_ni)"/>
<circle cx="199.5" cy="187.1" r="3.7" fill="url(#g_ni)"/>
<circle cx="219.8" cy="187.1" r="3.7" fill="url(#g_ni)"/>
<circle cx="148.8" cy="191.9" r="3.4" fill="url(#g_au)"/>
<circle cx="169.1" cy="191.9" r="3.4" fill="url(#g_au)"/>
<circle cx="189.4" cy="191.9" r="3.4" fill="url(#g_au)"/>
<circle cx="209.7" cy="191.9" r="3.4" fill="url(#g_au)"/>
<circle cx="230.0" cy="191.9" r="3.4" fill="url(#g_au)"/>
<circle cx="138.6" cy="172.2" r="3.9" fill="url(#g_ni)"/>
<circle cx="158.9" cy="172.2" r="3.9" fill="url(#g_ni)"/>
<circle cx="179.2" cy="172.2" r="3.9" fill="url(#g_ni)"/>
<circle cx="199.5" cy="172.2" r="3.9" fill="url(#g_ni)"/>
<circle cx="219.8" cy="172.2" r="3.9" fill="url(#g_ni)"/>
</g>
<rect x="147.6" y="165.1" width="7.2" height="6.4" fill="#767271"/>
<text x="151.2" y="170.0" fill="#fff" font-size="5.0" text-anchor="middle" font-weight="normal" >3</text>
<circle cx="166.4" cy="165.1" r="3.7" fill="url(#g_o)"/>
<circle cx="166.4" cy="174.4" r="3.5" fill="url(#g_c)"/>
<circle cx="189.8" cy="176.6" r="3.7" fill="url(#g_o)"/>
<clipPath id="cl4"><rect x="204.5" y="165.1" width="52.2" height="34.9"/></clipPath>
<g clip-path="url(#cl4)">
<line x1="204.5" y1="172.2" x2="256.7" y2="172.2" stroke="#6e87c2" stroke-width="1.4"/>
<line x1="204.5" y1="179.8" x2="256.7" y2="179.8" stroke="#6e87c2" stroke-width="1.3"/>
<line x1="204.5" y1="181.7" x2="256.7" y2="181.7" stroke="#6e87c2" stroke-width="1.3"/>
<line x1="204.5" y1="187.9" x2="256.7" y2="187.9" stroke="#6e87c2" stroke-width="1.0"/>
<line x1="204.5" y1="199.3" x2="256.7" y2="199.3" stroke="#6e87c2" stroke-width="1.4"/>
<path d="M195.5,172.2 L205.6,180.7 L215.8,172.2 M195.5,172.2 L195.5,187.1 M185.3,180.7 L195.5,187.1 L205.6,180.7 M195.5,187.1 L205.6,191.9 M195.5,187.1 L185.3,191.9 M205.6,191.9 L195.5,199.3 L185.3,191.9 M195.5,172.2 L210.7,187.1 M195.5,172.2 L180.3,187.1 M215.8,172.2 L225.9,180.7 L236.1,172.2 M215.8,172.2 L215.8,187.1 M205.6,180.7 L215.8,187.1 L225.9,180.7 M215.8,187.1 L225.9,191.9 M215.8,187.1 L205.6,191.9 M225.9,191.9 L215.8,199.3 L205.6,191.9 M215.8,172.2 L231.0,187.1 M215.8,172.2 L200.6,187.1 M236.1,172.2 L246.2,180.7 L256.4,172.2 M236.1,172.2 L236.1,187.1 M225.9,180.7 L236.1,187.1 L246.2,180.7 M236.1,187.1 L246.2,191.9 M236.1,187.1 L225.9,191.9 M246.2,191.9 L236.1,199.3 L225.9,191.9 M236.1,172.2 L251.3,187.1 M236.1,172.2 L220.9,187.1 M256.4,172.2 L266.5,180.7 L276.7,172.2 M256.4,172.2 L256.4,187.1 M246.2,180.7 L256.4,187.1 L266.5,180.7 M256.4,187.1 L266.5,191.9 M256.4,187.1 L246.2,191.9 M266.5,191.9 L256.4,199.3 L246.2,191.9 M256.4,172.2 L271.6,187.1 M256.4,172.2 L241.2,187.1 M276.7,172.2 L286.8,180.7 L297.0,172.2 M276.7,172.2 L276.7,187.1 M266.5,180.7 L276.7,187.1 L286.8,180.7 M276.7,187.1 L286.8,191.9 M276.7,187.1 L266.5,191.9 M286.8,191.9 L276.7,199.3 L266.5,191.9 M276.7,172.2 L291.9,187.1 M276.7,172.2 L261.5,187.1 " stroke="#6e87c2" stroke-width="1.4" fill="none"/>
<line x1="204.5" y1="192.2" x2="256.7" y2="192.2" stroke="#e2b522" stroke-width="1.2"/>
<line x1="195.5" y1="196.5" x2="195.5" y2="199.3" stroke="#e2b522" stroke-width="1.3"/>
<line x1="215.8" y1="196.5" x2="215.8" y2="199.3" stroke="#e2b522" stroke-width="1.3"/>
<line x1="236.1" y1="196.5" x2="236.1" y2="199.3" stroke="#e2b522" stroke-width="1.3"/>
<line x1="256.4" y1="196.5" x2="256.4" y2="199.3" stroke="#e2b522" stroke-width="1.3"/>
<line x1="276.7" y1="196.5" x2="276.7" y2="199.3" stroke="#e2b522" stroke-width="1.3"/>
<circle cx="205.6" cy="200.9" r="3.0" fill="url(#g_ni)"/>
<circle cx="225.9" cy="200.9" r="3.0" fill="url(#g_ni)"/>
<circle cx="246.2" cy="200.9" r="3.0" fill="url(#g_ni)"/>
<circle cx="266.5" cy="200.9" r="3.0" fill="url(#g_ni)"/>
<circle cx="286.8" cy="200.9" r="3.0" fill="url(#g_ni)"/>
<circle cx="205.6" cy="180.7" r="3.6" fill="url(#g_ni)"/>
<circle cx="225.9" cy="180.7" r="3.6" fill="url(#g_ni)"/>
<circle cx="246.2" cy="180.7" r="3.6" fill="url(#g_ni)"/>
<circle cx="266.5" cy="180.7" r="3.6" fill="url(#g_ni)"/>
<circle cx="286.8" cy="180.7" r="3.6" fill="url(#g_ni)"/>
<circle cx="195.5" cy="187.1" r="3.7" fill="url(#g_ni)"/>
<circle cx="215.8" cy="187.1" r="3.7" fill="url(#g_ni)"/>
<circle cx="236.1" cy="187.1" r="3.7" fill="url(#g_ni)"/>
<circle cx="256.4" cy="187.1" r="3.7" fill="url(#g_ni)"/>
<circle cx="276.7" cy="187.1" r="3.7" fill="url(#g_ni)"/>
<circle cx="205.6" cy="191.9" r="3.4" fill="url(#g_au)"/>
<circle cx="225.9" cy="191.9" r="3.4" fill="url(#g_au)"/>
<circle cx="246.2" cy="191.9" r="3.4" fill="url(#g_au)"/>
<circle cx="266.5" cy="191.9" r="3.4" fill="url(#g_au)"/>
<circle cx="286.8" cy="191.9" r="3.4" fill="url(#g_au)"/>
<circle cx="195.5" cy="172.2" r="3.9" fill="url(#g_ni)"/>
<circle cx="215.8" cy="172.2" r="3.9" fill="url(#g_ni)"/>
<circle cx="236.1" cy="172.2" r="3.9" fill="url(#g_ni)"/>
<circle cx="256.4" cy="172.2" r="3.9" fill="url(#g_ni)"/>
<circle cx="276.7" cy="172.2" r="3.9" fill="url(#g_ni)"/>
</g>
<rect x="204.5" y="165.1" width="7.2" height="6.4" fill="#767271"/>
<text x="208.1" y="170.0" fill="#fff" font-size="5.0" text-anchor="middle" font-weight="normal" >4</text>
<circle cx="225.6" cy="167.1" r="3.7" fill="url(#g_o)"/>
<circle cx="225.6" cy="176.1" r="3.5" fill="url(#g_c)"/>
<clipPath id="cl5"><rect x="261.3" y="165.1" width="52.2" height="34.9"/></clipPath>
<g clip-path="url(#cl5)">
<line x1="261.3" y1="172.2" x2="313.5" y2="172.2" stroke="#6e87c2" stroke-width="1.4"/>
<line x1="261.3" y1="179.8" x2="313.5" y2="179.8" stroke="#6e87c2" stroke-width="1.3"/>
<line x1="261.3" y1="181.7" x2="313.5" y2="181.7" stroke="#6e87c2" stroke-width="1.3"/>
<line x1="261.3" y1="187.9" x2="313.5" y2="187.9" stroke="#6e87c2" stroke-width="1.0"/>
<line x1="261.3" y1="199.3" x2="313.5" y2="199.3" stroke="#6e87c2" stroke-width="1.4"/>
<path d="M252.3,172.2 L262.5,180.7 L272.6,172.2 M252.3,172.2 L252.3,187.1 M242.2,180.7 L252.3,187.1 L262.5,180.7 M252.3,187.1 L262.5,191.9 M252.3,187.1 L242.2,191.9 M262.5,191.9 L252.3,199.3 L242.2,191.9 M252.3,172.2 L267.6,187.1 M252.3,172.2 L237.1,187.1 M272.6,172.2 L282.8,180.7 L292.9,172.2 M272.6,172.2 L272.6,187.1 M262.5,180.7 L272.6,187.1 L282.8,180.7 M272.6,187.1 L282.8,191.9 M272.6,187.1 L262.5,191.9 M282.8,191.9 L272.6,199.3 L262.5,191.9 M272.6,172.2 L287.9,187.1 M272.6,172.2 L257.4,187.1 M292.9,172.2 L303.1,180.7 L313.2,172.2 M292.9,172.2 L292.9,187.1 M282.8,180.7 L292.9,187.1 L303.1,180.7 M292.9,187.1 L303.1,191.9 M292.9,187.1 L282.8,191.9 M303.1,191.9 L292.9,199.3 L282.8,191.9 M292.9,172.2 L308.2,187.1 M292.9,172.2 L277.7,187.1 M313.2,172.2 L323.4,180.7 L333.5,172.2 M313.2,172.2 L313.2,187.1 M303.1,180.7 L313.2,187.1 L323.4,180.7 M313.2,187.1 L323.4,191.9 M313.2,187.1 L303.1,191.9 M323.4,191.9 L313.2,199.3 L303.1,191.9 M313.2,172.2 L328.5,187.1 M313.2,172.2 L298.0,187.1 M333.5,172.2 L343.7,180.7 L353.8,172.2 M333.5,172.2 L333.5,187.1 M323.4,180.7 L333.5,187.1 L343.7,180.7 M333.5,187.1 L343.7,191.9 M333.5,187.1 L323.4,191.9 M343.7,191.9 L333.5,199.3 L323.4,191.9 M333.5,172.2 L348.8,187.1 M333.5,172.2 L318.3,187.1 " stroke="#6e87c2" stroke-width="1.4" fill="none"/>
<line x1="261.3" y1="192.2" x2="313.5" y2="192.2" stroke="#e2b522" stroke-width="1.2"/>
<line x1="252.3" y1="196.5" x2="252.3" y2="199.3" stroke="#e2b522" stroke-width="1.3"/>
<line x1="272.6" y1="196.5" x2="272.6" y2="199.3" stroke="#e2b522" stroke-width="1.3"/>
<line x1="292.9" y1="196.5" x2="292.9" y2="199.3" stroke="#e2b522" stroke-width="1.3"/>
<line x1="313.2" y1="196.5" x2="313.2" y2="199.3" stroke="#e2b522" stroke-width="1.3"/>
<line x1="333.5" y1="196.5" x2="333.5" y2="199.3" stroke="#e2b522" stroke-width="1.3"/>
<circle cx="262.5" cy="200.9" r="3.0" fill="url(#g_ni)"/>
<circle cx="282.8" cy="200.9" r="3.0" fill="url(#g_ni)"/>
<circle cx="303.1" cy="200.9" r="3.0" fill="url(#g_ni)"/>
<circle cx="323.4" cy="200.9" r="3.0" fill="url(#g_ni)"/>
<circle cx="343.7" cy="200.9" r="3.0" fill="url(#g_ni)"/>
<circle cx="262.5" cy="180.7" r="3.6" fill="url(#g_ni)"/>
<circle cx="282.8" cy="180.7" r="3.6" fill="url(#g_ni)"/>
<circle cx="303.1" cy="180.7" r="3.6" fill="url(#g_ni)"/>
<circle cx="323.4" cy="180.7" r="3.6" fill="url(#g_ni)"/>
<circle cx="343.7" cy="180.7" r="3.6" fill="url(#g_ni)"/>
<circle cx="252.3" cy="187.1" r="3.7" fill="url(#g_ni)"/>
<circle cx="272.6" cy="187.1" r="3.7" fill="url(#g_ni)"/>
<circle cx="292.9" cy="187.1" r="3.7" fill="url(#g_ni)"/>
<circle cx="313.2" cy="187.1" r="3.7" fill="url(#g_ni)"/>
<circle cx="333.5" cy="187.1" r="3.7" fill="url(#g_ni)"/>
<circle cx="262.5" cy="191.9" r="3.4" fill="url(#g_au)"/>
<circle cx="282.8" cy="191.9" r="3.4" fill="url(#g_au)"/>
<circle cx="303.1" cy="191.9" r="3.4" fill="url(#g_au)"/>
<circle cx="323.4" cy="191.9" r="3.4" fill="url(#g_au)"/>
<circle cx="343.7" cy="191.9" r="3.4" fill="url(#g_au)"/>
<circle cx="252.3" cy="172.2" r="3.9" fill="url(#g_ni)"/>
<circle cx="272.6" cy="172.2" r="3.9" fill="url(#g_ni)"/>
<circle cx="292.9" cy="172.2" r="3.9" fill="url(#g_ni)"/>
<circle cx="313.2" cy="172.2" r="3.9" fill="url(#g_ni)"/>
<circle cx="333.5" cy="172.2" r="3.9" fill="url(#g_ni)"/>
</g>
<rect x="261.3" y="165.1" width="7.2" height="6.4" fill="#767271"/>
<text x="264.9" y="170.0" fill="#fff" font-size="5.0" text-anchor="middle" font-weight="normal" >5</text>
<circle cx="281.0" cy="178.3" r="3.6" fill="url(#g_h)"/>
<circle cx="302.2" cy="165.9" r="3.7" fill="url(#g_o)"/>
<circle cx="302.2" cy="175.3" r="3.5" fill="url(#g_c)"/>
<clipPath id="cl6"><rect x="318.2" y="165.1" width="52.2" height="34.9"/></clipPath>
<g clip-path="url(#cl6)">
<line x1="318.2" y1="172.2" x2="370.4" y2="172.2" stroke="#6e87c2" stroke-width="1.4"/>
<line x1="318.2" y1="179.8" x2="370.4" y2="179.8" stroke="#6e87c2" stroke-width="1.3"/>
<line x1="318.2" y1="181.7" x2="370.4" y2="181.7" stroke="#6e87c2" stroke-width="1.3"/>
<line x1="318.2" y1="187.9" x2="370.4" y2="187.9" stroke="#6e87c2" stroke-width="1.0"/>
<line x1="318.2" y1="199.3" x2="370.4" y2="199.3" stroke="#6e87c2" stroke-width="1.4"/>
<path d="M309.2,172.2 L319.3,180.7 L329.5,172.2 M309.2,172.2 L309.2,187.1 M299.1,180.7 L309.2,187.1 L319.3,180.7 M309.2,187.1 L319.3,191.9 M309.2,187.1 L299.1,191.9 M319.3,191.9 L309.2,199.3 L299.1,191.9 M309.2,172.2 L324.4,187.1 M309.2,172.2 L294.0,187.1 M329.5,172.2 L339.6,180.7 L349.8,172.2 M329.5,172.2 L329.5,187.1 M319.4,180.7 L329.5,187.1 L339.6,180.7 M329.5,187.1 L339.6,191.9 M329.5,187.1 L319.4,191.9 M339.6,191.9 L329.5,199.3 L319.4,191.9 M329.5,172.2 L344.7,187.1 M329.5,172.2 L314.3,187.1 M349.8,172.2 L359.9,180.7 L370.1,172.2 M349.8,172.2 L349.8,187.1 M339.7,180.7 L349.8,187.1 L359.9,180.7 M349.8,187.1 L359.9,191.9 M349.8,187.1 L339.7,191.9 M359.9,191.9 L349.8,199.3 L339.7,191.9 M349.8,172.2 L365.0,187.1 M349.8,172.2 L334.6,187.1 M370.1,172.2 L380.2,180.7 L390.4,172.2 M370.1,172.2 L370.1,187.1 M360.0,180.7 L370.1,187.1 L380.2,180.7 M370.1,187.1 L380.2,191.9 M370.1,187.1 L360.0,191.9 M380.2,191.9 L370.1,199.3 L360.0,191.9 M370.1,172.2 L385.3,187.1 M370.1,172.2 L354.9,187.1 M390.4,172.2 L400.5,180.7 L410.7,172.2 M390.4,172.2 L390.4,187.1 M380.2,180.7 L390.4,187.1 L400.5,180.7 M390.4,187.1 L400.5,191.9 M390.4,187.1 L380.2,191.9 M400.5,191.9 L390.4,199.3 L380.2,191.9 M390.4,172.2 L405.6,187.1 M390.4,172.2 L375.2,187.1 " stroke="#6e87c2" stroke-width="1.4" fill="none"/>
<line x1="318.2" y1="192.2" x2="370.4" y2="192.2" stroke="#e2b522" stroke-width="1.2"/>
<line x1="309.2" y1="196.5" x2="309.2" y2="199.3" stroke="#e2b522" stroke-width="1.3"/>
<line x1="329.5" y1="196.5" x2="329.5" y2="199.3" stroke="#e2b522" stroke-width="1.3"/>
<line x1="349.8" y1="196.5" x2="349.8" y2="199.3" stroke="#e2b522" stroke-width="1.3"/>
<line x1="370.1" y1="196.5" x2="370.1" y2="199.3" stroke="#e2b522" stroke-width="1.3"/>
<line x1="390.4" y1="196.5" x2="390.4" y2="199.3" stroke="#e2b522" stroke-width="1.3"/>
<circle cx="319.3" cy="200.9" r="3.0" fill="url(#g_ni)"/>
<circle cx="339.6" cy="200.9" r="3.0" fill="url(#g_ni)"/>
<circle cx="359.9" cy="200.9" r="3.0" fill="url(#g_ni)"/>
<circle cx="380.2" cy="200.9" r="3.0" fill="url(#g_ni)"/>
<circle cx="400.5" cy="200.9" r="3.0" fill="url(#g_ni)"/>
<circle cx="319.3" cy="180.7" r="3.6" fill="url(#g_ni)"/>
<circle cx="339.6" cy="180.7" r="3.6" fill="url(#g_ni)"/>
<circle cx="359.9" cy="180.7" r="3.6" fill="url(#g_ni)"/>
<circle cx="380.2" cy="180.7" r="3.6" fill="url(#g_ni)"/>
<circle cx="400.5" cy="180.7" r="3.6" fill="url(#g_ni)"/>
<circle cx="309.2" cy="187.1" r="3.7" fill="url(#g_ni)"/>
<circle cx="329.5" cy="187.1" r="3.7" fill="url(#g_ni)"/>
<circle cx="349.8" cy="187.1" r="3.7" fill="url(#g_ni)"/>
<circle cx="370.1" cy="187.1" r="3.7" fill="url(#g_ni)"/>
<circle cx="390.4" cy="187.1" r="3.7" fill="url(#g_ni)"/>
<circle cx="319.3" cy="191.9" r="3.4" fill="url(#g_au)"/>
<circle cx="339.6" cy="191.9" r="3.4" fill="url(#g_au)"/>
<circle cx="359.9" cy="191.9" r="3.4" fill="url(#g_au)"/>
<circle cx="380.2" cy="191.9" r="3.4" fill="url(#g_au)"/>
<circle cx="400.5" cy="191.9" r="3.4" fill="url(#g_au)"/>
<circle cx="309.2" cy="172.2" r="3.9" fill="url(#g_ni)"/>
<circle cx="329.5" cy="172.2" r="3.9" fill="url(#g_ni)"/>
<circle cx="349.8" cy="172.2" r="3.9" fill="url(#g_ni)"/>
<circle cx="370.1" cy="172.2" r="3.9" fill="url(#g_ni)"/>
<circle cx="390.4" cy="172.2" r="3.9" fill="url(#g_ni)"/>
</g>
<rect x="318.2" y="165.1" width="7.2" height="6.4" fill="#767271"/>
<text x="321.8" y="170.0" fill="#fff" font-size="5.0" text-anchor="middle" font-weight="normal" >6</text>
<circle cx="337.5" cy="177.0" r="3.5" fill="url(#g_c)"/>
<circle cx="361.2" cy="176.6" r="3.7" fill="url(#g_o)"/>
<clipPath id="cl7"><rect x="375.1" y="165.1" width="52.2" height="34.9"/></clipPath>
<g clip-path="url(#cl7)">
<line x1="375.1" y1="172.2" x2="427.3" y2="172.2" stroke="#6e87c2" stroke-width="1.4"/>
<line x1="375.1" y1="179.8" x2="427.3" y2="179.8" stroke="#6e87c2" stroke-width="1.3"/>
<line x1="375.1" y1="181.7" x2="427.3" y2="181.7" stroke="#6e87c2" stroke-width="1.3"/>
<line x1="375.1" y1="187.9" x2="427.3" y2="187.9" stroke="#6e87c2" stroke-width="1.0"/>
<line x1="375.1" y1="199.3" x2="427.3" y2="199.3" stroke="#6e87c2" stroke-width="1.4"/>
<path d="M366.1,172.2 L376.2,180.7 L386.4,172.2 M366.1,172.2 L366.1,187.1 M355.9,180.7 L366.1,187.1 L376.2,180.7 M366.1,187.1 L376.2,191.9 M366.1,187.1 L355.9,191.9 M376.2,191.9 L366.1,199.3 L355.9,191.9 M366.1,172.2 L381.3,187.1 M366.1,172.2 L350.8,187.1 M386.4,172.2 L396.5,180.7 L406.7,172.2 M386.4,172.2 L386.4,187.1 M376.2,180.7 L386.4,187.1 L396.5,180.7 M386.4,187.1 L396.5,191.9 M386.4,187.1 L376.2,191.9 M396.5,191.9 L386.4,199.3 L376.2,191.9 M386.4,172.2 L401.6,187.1 M386.4,172.2 L371.1,187.1 M406.7,172.2 L416.8,180.7 L427.0,172.2 M406.7,172.2 L406.7,187.1 M396.5,180.7 L406.7,187.1 L416.8,180.7 M406.7,187.1 L416.8,191.9 M406.7,187.1 L396.5,191.9 M416.8,191.9 L406.7,199.3 L396.5,191.9 M406.7,172.2 L421.9,187.1 M406.7,172.2 L391.4,187.1 M427.0,172.2 L437.1,180.7 L447.3,172.2 M427.0,172.2 L427.0,187.1 M416.8,180.7 L427.0,187.1 L437.1,180.7 M427.0,187.1 L437.1,191.9 M427.0,187.1 L416.8,191.9 M437.1,191.9 L427.0,199.3 L416.8,191.9 M427.0,172.2 L442.2,187.1 M427.0,172.2 L411.7,187.1 M447.3,172.2 L457.4,180.7 L467.6,172.2 M447.3,172.2 L447.3,187.1 M437.1,180.7 L447.3,187.1 L457.4,180.7 M447.3,187.1 L457.4,191.9 M447.3,187.1 L437.1,191.9 M457.4,191.9 L447.3,199.3 L437.1,191.9 M447.3,172.2 L462.5,187.1 M447.3,172.2 L432.0,187.1 " stroke="#6e87c2" stroke-width="1.4" fill="none"/>
<line x1="375.1" y1="192.2" x2="427.3" y2="192.2" stroke="#e2b522" stroke-width="1.2"/>
<line x1="366.1" y1="196.5" x2="366.1" y2="199.3" stroke="#e2b522" stroke-width="1.3"/>
<line x1="386.4" y1="196.5" x2="386.4" y2="199.3" stroke="#e2b522" stroke-width="1.3"/>
<line x1="406.7" y1="196.5" x2="406.7" y2="199.3" stroke="#e2b522" stroke-width="1.3"/>
<line x1="427.0" y1="196.5" x2="427.0" y2="199.3" stroke="#e2b522" stroke-width="1.3"/>
<line x1="447.3" y1="196.5" x2="447.3" y2="199.3" stroke="#e2b522" stroke-width="1.3"/>
<circle cx="376.2" cy="200.9" r="3.0" fill="url(#g_ni)"/>
<circle cx="396.5" cy="200.9" r="3.0" fill="url(#g_ni)"/>
<circle cx="416.8" cy="200.9" r="3.0" fill="url(#g_ni)"/>
<circle cx="437.1" cy="200.9" r="3.0" fill="url(#g_ni)"/>
<circle cx="457.4" cy="200.9" r="3.0" fill="url(#g_ni)"/>
<circle cx="376.2" cy="180.7" r="3.6" fill="url(#g_ni)"/>
<circle cx="396.5" cy="180.7" r="3.6" fill="url(#g_ni)"/>
<circle cx="416.8" cy="180.7" r="3.6" fill="url(#g_ni)"/>
<circle cx="437.1" cy="180.7" r="3.6" fill="url(#g_ni)"/>
<circle cx="457.4" cy="180.7" r="3.6" fill="url(#g_ni)"/>
<circle cx="366.1" cy="187.1" r="3.7" fill="url(#g_ni)"/>
<circle cx="386.4" cy="187.1" r="3.7" fill="url(#g_ni)"/>
<circle cx="406.7" cy="187.1" r="3.7" fill="url(#g_ni)"/>
<circle cx="427.0" cy="187.1" r="3.7" fill="url(#g_ni)"/>
<circle cx="447.3" cy="187.1" r="3.7" fill="url(#g_ni)"/>
<circle cx="376.2" cy="191.9" r="3.4" fill="url(#g_au)"/>
<circle cx="396.5" cy="191.9" r="3.4" fill="url(#g_au)"/>
<circle cx="416.8" cy="191.9" r="3.4" fill="url(#g_au)"/>
<circle cx="437.1" cy="191.9" r="3.4" fill="url(#g_au)"/>
<circle cx="457.4" cy="191.9" r="3.4" fill="url(#g_au)"/>
<circle cx="366.1" cy="172.2" r="3.9" fill="url(#g_ni)"/>
<circle cx="386.4" cy="172.2" r="3.9" fill="url(#g_ni)"/>
<circle cx="406.7" cy="172.2" r="3.9" fill="url(#g_ni)"/>
<circle cx="427.0" cy="172.2" r="3.9" fill="url(#g_ni)"/>
<circle cx="447.3" cy="172.2" r="3.9" fill="url(#g_ni)"/>
</g>
<rect x="375.1" y="165.1" width="7.2" height="6.4" fill="#767271"/>
<text x="378.7" y="170.0" fill="#fff" font-size="5.0" text-anchor="middle" font-weight="normal" >7</text>
<circle cx="387.6" cy="165.1" r="3.6" fill="url(#g_h)"/>
<circle cx="392.7" cy="172.7" r="3.5" fill="url(#g_c)"/>
<circle cx="401.1" cy="171.9" r="3.7" fill="url(#g_o)"/>
<clipPath id="cl8"><rect x="431.9" y="165.1" width="52.2" height="34.9"/></clipPath>
<g clip-path="url(#cl8)">
<line x1="431.9" y1="172.2" x2="484.1" y2="172.2" stroke="#6e87c2" stroke-width="1.4"/>
<line x1="431.9" y1="179.8" x2="484.1" y2="179.8" stroke="#6e87c2" stroke-width="1.3"/>
<line x1="431.9" y1="181.7" x2="484.1" y2="181.7" stroke="#6e87c2" stroke-width="1.3"/>
<line x1="431.9" y1="187.9" x2="484.1" y2="187.9" stroke="#6e87c2" stroke-width="1.0"/>
<line x1="431.9" y1="199.3" x2="484.1" y2="199.3" stroke="#6e87c2" stroke-width="1.4"/>
<path d="M422.9,172.2 L433.1,180.7 L443.2,172.2 M422.9,172.2 L422.9,187.1 M412.8,180.7 L422.9,187.1 L433.1,180.7 M422.9,187.1 L433.1,191.9 M422.9,187.1 L412.8,191.9 M433.1,191.9 L422.9,199.3 L412.8,191.9 M422.9,172.2 L438.1,187.1 M422.9,172.2 L407.7,187.1 M443.2,172.2 L453.4,180.7 L463.5,172.2 M443.2,172.2 L443.2,187.1 M433.1,180.7 L443.2,187.1 L453.4,180.7 M443.2,187.1 L453.4,191.9 M443.2,187.1 L433.1,191.9 M453.4,191.9 L443.2,199.3 L433.1,191.9 M443.2,172.2 L458.4,187.1 M443.2,172.2 L428.0,187.1 M463.5,172.2 L473.7,180.7 L483.8,172.2 M463.5,172.2 L463.5,187.1 M453.4,180.7 L463.5,187.1 L473.7,180.7 M463.5,187.1 L473.7,191.9 M463.5,187.1 L453.4,191.9 M473.7,191.9 L463.5,199.3 L453.4,191.9 M463.5,172.2 L478.7,187.1 M463.5,172.2 L448.3,187.1 M483.8,172.2 L494.0,180.7 L504.1,172.2 M483.8,172.2 L483.8,187.1 M473.7,180.7 L483.8,187.1 L494.0,180.7 M483.8,187.1 L494.0,191.9 M483.8,187.1 L473.7,191.9 M494.0,191.9 L483.8,199.3 L473.7,191.9 M483.8,172.2 L499.0,187.1 M483.8,172.2 L468.6,187.1 M504.1,172.2 L514.3,180.7 L524.4,172.2 M504.1,172.2 L504.1,187.1 M494.0,180.7 L504.1,187.1 L514.3,180.7 M504.1,187.1 L514.3,191.9 M504.1,187.1 L494.0,191.9 M514.3,191.9 L504.1,199.3 L494.0,191.9 M504.1,172.2 L519.3,187.1 M504.1,172.2 L488.9,187.1 " stroke="#6e87c2" stroke-width="1.4" fill="none"/>
<line x1="431.9" y1="192.2" x2="484.1" y2="192.2" stroke="#e2b522" stroke-width="1.2"/>
<line x1="422.9" y1="196.5" x2="422.9" y2="199.3" stroke="#e2b522" stroke-width="1.3"/>
<line x1="443.2" y1="196.5" x2="443.2" y2="199.3" stroke="#e2b522" stroke-width="1.3"/>
<line x1="463.5" y1="196.5" x2="463.5" y2="199.3" stroke="#e2b522" stroke-width="1.3"/>
<line x1="483.8" y1="196.5" x2="483.8" y2="199.3" stroke="#e2b522" stroke-width="1.3"/>
<line x1="504.1" y1="196.5" x2="504.1" y2="199.3" stroke="#e2b522" stroke-width="1.3"/>
<circle cx="433.1" cy="200.9" r="3.0" fill="url(#g_ni)"/>
<circle cx="453.4" cy="200.9" r="3.0" fill="url(#g_ni)"/>
<circle cx="473.7" cy="200.9" r="3.0" fill="url(#g_ni)"/>
<circle cx="494.0" cy="200.9" r="3.0" fill="url(#g_ni)"/>
<circle cx="514.3" cy="200.9" r="3.0" fill="url(#g_ni)"/>
<circle cx="433.1" cy="180.7" r="3.6" fill="url(#g_ni)"/>
<circle cx="453.4" cy="180.7" r="3.6" fill="url(#g_ni)"/>
<circle cx="473.7" cy="180.7" r="3.6" fill="url(#g_ni)"/>
<circle cx="494.0" cy="180.7" r="3.6" fill="url(#g_ni)"/>
<circle cx="514.3" cy="180.7" r="3.6" fill="url(#g_ni)"/>
<circle cx="422.9" cy="187.1" r="3.7" fill="url(#g_ni)"/>
<circle cx="443.2" cy="187.1" r="3.7" fill="url(#g_ni)"/>
<circle cx="463.5" cy="187.1" r="3.7" fill="url(#g_ni)"/>
<circle cx="483.8" cy="187.1" r="3.7" fill="url(#g_ni)"/>
<circle cx="504.1" cy="187.1" r="3.7" fill="url(#g_ni)"/>
<circle cx="433.1" cy="191.9" r="3.4" fill="url(#g_au)"/>
<circle cx="453.4" cy="191.9" r="3.4" fill="url(#g_au)"/>
<circle cx="473.7" cy="191.9" r="3.4" fill="url(#g_au)"/>
<circle cx="494.0" cy="191.9" r="3.4" fill="url(#g_au)"/>
<circle cx="514.3" cy="191.9" r="3.4" fill="url(#g_au)"/>
<circle cx="422.9" cy="172.2" r="3.9" fill="url(#g_ni)"/>
<circle cx="443.2" cy="172.2" r="3.9" fill="url(#g_ni)"/>
<circle cx="463.5" cy="172.2" r="3.9" fill="url(#g_ni)"/>
<circle cx="483.8" cy="172.2" r="3.9" fill="url(#g_ni)"/>
<circle cx="504.1" cy="172.2" r="3.9" fill="url(#g_ni)"/>
</g>
<rect x="431.9" y="165.1" width="7.2" height="6.4" fill="#767271"/>
<text x="435.5" y="170.0" fill="#fff" font-size="5.0" text-anchor="middle" font-weight="normal" >8</text>
<circle cx="444.5" cy="165.9" r="3.6" fill="url(#g_h)"/>
<circle cx="453.0" cy="167.6" r="3.6" fill="url(#g_h)"/>
<circle cx="449.6" cy="172.7" r="3.5" fill="url(#g_c)"/>
<circle cx="458.6" cy="172.7" r="3.7" fill="url(#g_o)"/>
<clipPath id="cl9"><rect x="33.9" y="209.3" width="52.2" height="34.9"/></clipPath>
<g clip-path="url(#cl9)">
<line x1="33.9" y1="216.4" x2="86.1" y2="216.4" stroke="#6e87c2" stroke-width="1.4"/>
<line x1="33.9" y1="224.0" x2="86.1" y2="224.0" stroke="#6e87c2" stroke-width="1.3"/>
<line x1="33.9" y1="225.9" x2="86.1" y2="225.9" stroke="#6e87c2" stroke-width="1.3"/>
<line x1="33.9" y1="232.1" x2="86.1" y2="232.1" stroke="#6e87c2" stroke-width="1.0"/>
<line x1="33.9" y1="243.5" x2="86.1" y2="243.5" stroke="#6e87c2" stroke-width="1.4"/>
<path d="M24.9,216.4 L35.1,224.9 L45.2,216.4 M24.9,216.4 L24.9,231.3 M14.8,224.9 L24.9,231.3 L35.1,224.9 M24.9,231.3 L35.1,236.1 M24.9,231.3 L14.8,236.1 M35.1,236.1 L24.9,243.5 L14.8,236.1 M24.9,216.4 L40.1,231.3 M24.9,216.4 L9.7,231.3 M45.2,216.4 L55.4,224.9 L65.5,216.4 M45.2,216.4 L45.2,231.3 M35.1,224.9 L45.2,231.3 L55.4,224.9 M45.2,231.3 L55.4,236.1 M45.2,231.3 L35.1,236.1 M55.4,236.1 L45.2,243.5 L35.1,236.1 M45.2,216.4 L60.4,231.3 M45.2,216.4 L30.0,231.3 M65.5,216.4 L75.7,224.9 L85.8,216.4 M65.5,216.4 L65.5,231.3 M55.4,224.9 L65.5,231.3 L75.7,224.9 M65.5,231.3 L75.7,236.1 M65.5,231.3 L55.4,236.1 M75.7,236.1 L65.5,243.5 L55.4,236.1 M65.5,216.4 L80.7,231.3 M65.5,216.4 L50.3,231.3 M85.8,216.4 L96.0,224.9 L106.1,216.4 M85.8,216.4 L85.8,231.3 M75.7,224.9 L85.8,231.3 L96.0,224.9 M85.8,231.3 L96.0,236.1 M85.8,231.3 L75.7,236.1 M96.0,236.1 L85.8,243.5 L75.7,236.1 M85.8,216.4 L101.0,231.3 M85.8,216.4 L70.6,231.3 M106.1,216.4 L116.3,224.9 L126.4,216.4 M106.1,216.4 L106.1,231.3 M96.0,224.9 L106.1,231.3 L116.3,224.9 M106.1,231.3 L116.3,236.1 M106.1,231.3 L96.0,236.1 M116.3,236.1 L106.1,243.5 L96.0,236.1 M106.1,216.4 L121.3,231.3 M106.1,216.4 L90.9,231.3 " stroke="#6e87c2" stroke-width="1.4" fill="none"/>
<line x1="33.9" y1="236.4" x2="86.1" y2="236.4" stroke="#e2b522" stroke-width="1.2"/>
<line x1="24.9" y1="240.7" x2="24.9" y2="243.5" stroke="#e2b522" stroke-width="1.3"/>
<line x1="45.2" y1="240.7" x2="45.2" y2="243.5" stroke="#e2b522" stroke-width="1.3"/>
<line x1="65.5" y1="240.7" x2="65.5" y2="243.5" stroke="#e2b522" stroke-width="1.3"/>
<line x1="85.8" y1="240.7" x2="85.8" y2="243.5" stroke="#e2b522" stroke-width="1.3"/>
<line x1="106.1" y1="240.7" x2="106.1" y2="243.5" stroke="#e2b522" stroke-width="1.3"/>
<circle cx="35.1" cy="245.1" r="3.0" fill="url(#g_ni)"/>
<circle cx="55.4" cy="245.1" r="3.0" fill="url(#g_ni)"/>
<circle cx="75.7" cy="245.1" r="3.0" fill="url(#g_ni)"/>
<circle cx="96.0" cy="245.1" r="3.0" fill="url(#g_ni)"/>
<circle cx="116.3" cy="245.1" r="3.0" fill="url(#g_ni)"/>
<circle cx="35.1" cy="224.9" r="3.6" fill="url(#g_ni)"/>
<circle cx="55.4" cy="224.9" r="3.6" fill="url(#g_ni)"/>
<circle cx="75.7" cy="224.9" r="3.6" fill="url(#g_ni)"/>
<circle cx="96.0" cy="224.9" r="3.6" fill="url(#g_ni)"/>
<circle cx="116.3" cy="224.9" r="3.6" fill="url(#g_ni)"/>
<circle cx="24.9" cy="231.3" r="3.7" fill="url(#g_ni)"/>
<circle cx="45.2" cy="231.3" r="3.7" fill="url(#g_ni)"/>
<circle cx="65.5" cy="231.3" r="3.7" fill="url(#g_ni)"/>
<circle cx="85.8" cy="231.3" r="3.7" fill="url(#g_ni)"/>
<circle cx="106.1" cy="231.3" r="3.7" fill="url(#g_ni)"/>
<circle cx="35.1" cy="236.1" r="3.4" fill="url(#g_au)"/>
<circle cx="55.4" cy="236.1" r="3.4" fill="url(#g_au)"/>
<circle cx="75.7" cy="236.1" r="3.4" fill="url(#g_au)"/>
<circle cx="96.0" cy="236.1" r="3.4" fill="url(#g_au)"/>
<circle cx="116.3" cy="236.1" r="3.4" fill="url(#g_au)"/>
<circle cx="24.9" cy="216.4" r="3.9" fill="url(#g_ni)"/>
<circle cx="45.2" cy="216.4" r="3.9" fill="url(#g_ni)"/>
<circle cx="65.5" cy="216.4" r="3.9" fill="url(#g_ni)"/>
<circle cx="85.8" cy="216.4" r="3.9" fill="url(#g_ni)"/>
<circle cx="106.1" cy="216.4" r="3.9" fill="url(#g_ni)"/>
</g>
<rect x="33.9" y="209.3" width="7.2" height="6.4" fill="#767271"/>
<text x="37.5" y="214.2" fill="#fff" font-size="5.0" text-anchor="middle" font-weight="normal" >9</text>
<circle cx="43.2" cy="211.6" r="3.6" fill="url(#g_h)"/>
<circle cx="42.2" cy="220.1" r="3.5" fill="url(#g_c)"/>
<circle cx="65.6" cy="220.9" r="3.7" fill="url(#g_o)"/>
<clipPath id="cl10"><rect x="90.8" y="209.3" width="52.2" height="34.9"/></clipPath>
<g clip-path="url(#cl10)">
<line x1="90.8" y1="216.4" x2="143.0" y2="216.4" stroke="#6e87c2" stroke-width="1.4"/>
<line x1="90.8" y1="224.0" x2="143.0" y2="224.0" stroke="#6e87c2" stroke-width="1.3"/>
<line x1="90.8" y1="225.9" x2="143.0" y2="225.9" stroke="#6e87c2" stroke-width="1.3"/>
<line x1="90.8" y1="232.1" x2="143.0" y2="232.1" stroke="#6e87c2" stroke-width="1.0"/>
<line x1="90.8" y1="243.5" x2="143.0" y2="243.5" stroke="#6e87c2" stroke-width="1.4"/>
<path d="M81.8,216.4 L91.9,224.9 L102.1,216.4 M81.8,216.4 L81.8,231.3 M71.6,224.9 L81.8,231.3 L91.9,224.9 M81.8,231.3 L91.9,236.1 M81.8,231.3 L71.6,236.1 M91.9,236.1 L81.8,243.5 L71.6,236.1 M81.8,216.4 L97.0,231.3 M81.8,216.4 L66.5,231.3 M102.1,216.4 L112.2,224.9 L122.4,216.4 M102.1,216.4 L102.1,231.3 M91.9,224.9 L102.1,231.3 L112.2,224.9 M102.1,231.3 L112.2,236.1 M102.1,231.3 L91.9,236.1 M112.2,236.1 L102.1,243.5 L91.9,236.1 M102.1,216.4 L117.3,231.3 M102.1,216.4 L86.8,231.3 M122.4,216.4 L132.5,224.9 L142.7,216.4 M122.4,216.4 L122.4,231.3 M112.2,224.9 L122.4,231.3 L132.5,224.9 M122.4,231.3 L132.5,236.1 M122.4,231.3 L112.2,236.1 M132.5,236.1 L122.4,243.5 L112.2,236.1 M122.4,216.4 L137.6,231.3 M122.4,216.4 L107.1,231.3 M142.7,216.4 L152.8,224.9 L163.0,216.4 M142.7,216.4 L142.7,231.3 M132.5,224.9 L142.7,231.3 L152.8,224.9 M142.7,231.3 L152.8,236.1 M142.7,231.3 L132.5,236.1 M152.8,236.1 L142.7,243.5 L132.5,236.1 M142.7,216.4 L157.9,231.3 M142.7,216.4 L127.4,231.3 M163.0,216.4 L173.1,224.9 L183.3,216.4 M163.0,216.4 L163.0,231.3 M152.8,224.9 L163.0,231.3 L173.1,224.9 M163.0,231.3 L173.1,236.1 M163.0,231.3 L152.8,236.1 M173.1,236.1 L163.0,243.5 L152.8,236.1 M163.0,216.4 L178.2,231.3 M163.0,216.4 L147.7,231.3 " stroke="#6e87c2" stroke-width="1.4" fill="none"/>
<line x1="90.8" y1="236.4" x2="143.0" y2="236.4" stroke="#e2b522" stroke-width="1.2"/>
<line x1="81.8" y1="240.7" x2="81.8" y2="243.5" stroke="#e2b522" stroke-width="1.3"/>
<line x1="102.1" y1="240.7" x2="102.1" y2="243.5" stroke="#e2b522" stroke-width="1.3"/>
<line x1="122.4" y1="240.7" x2="122.4" y2="243.5" stroke="#e2b522" stroke-width="1.3"/>
<line x1="142.7" y1="240.7" x2="142.7" y2="243.5" stroke="#e2b522" stroke-width="1.3"/>
<line x1="163.0" y1="240.7" x2="163.0" y2="243.5" stroke="#e2b522" stroke-width="1.3"/>
<circle cx="91.9" cy="245.1" r="3.0" fill="url(#g_ni)"/>
<circle cx="112.2" cy="245.1" r="3.0" fill="url(#g_ni)"/>
<circle cx="132.5" cy="245.1" r="3.0" fill="url(#g_ni)"/>
<circle cx="152.8" cy="245.1" r="3.0" fill="url(#g_ni)"/>
<circle cx="173.1" cy="245.1" r="3.0" fill="url(#g_ni)"/>
<circle cx="91.9" cy="224.9" r="3.6" fill="url(#g_ni)"/>
<circle cx="112.2" cy="224.9" r="3.6" fill="url(#g_ni)"/>
<circle cx="132.5" cy="224.9" r="3.6" fill="url(#g_ni)"/>
<circle cx="152.8" cy="224.9" r="3.6" fill="url(#g_ni)"/>
<circle cx="173.1" cy="224.9" r="3.6" fill="url(#g_ni)"/>
<circle cx="81.8" cy="231.3" r="3.7" fill="url(#g_ni)"/>
<circle cx="102.1" cy="231.3" r="3.7" fill="url(#g_ni)"/>
<circle cx="122.4" cy="231.3" r="3.7" fill="url(#g_ni)"/>
<circle cx="142.7" cy="231.3" r="3.7" fill="url(#g_ni)"/>
<circle cx="163.0" cy="231.3" r="3.7" fill="url(#g_ni)"/>
<circle cx="91.9" cy="236.1" r="3.4" fill="url(#g_au)"/>
<circle cx="112.2" cy="236.1" r="3.4" fill="url(#g_au)"/>
<circle cx="132.5" cy="236.1" r="3.4" fill="url(#g_au)"/>
<circle cx="152.8" cy="236.1" r="3.4" fill="url(#g_au)"/>
<circle cx="173.1" cy="236.1" r="3.4" fill="url(#g_au)"/>
<circle cx="81.8" cy="216.4" r="3.9" fill="url(#g_ni)"/>
<circle cx="102.1" cy="216.4" r="3.9" fill="url(#g_ni)"/>
<circle cx="122.4" cy="216.4" r="3.9" fill="url(#g_ni)"/>
<circle cx="142.7" cy="216.4" r="3.9" fill="url(#g_ni)"/>
<circle cx="163.0" cy="216.4" r="3.9" fill="url(#g_ni)"/>
</g>
<rect x="90.8" y="209.3" width="7.2" height="6.4" fill="#767271"/>
<text x="94.4" y="214.2" fill="#fff" font-size="4.4" text-anchor="middle" font-weight="normal" >10</text>
<circle cx="112.3" cy="213.3" r="3.6" fill="url(#g_h)"/>
<circle cx="112.3" cy="221.0" r="3.5" fill="url(#g_c)"/>
<clipPath id="cl11"><rect x="147.6" y="209.3" width="52.2" height="34.9"/></clipPath>
<g clip-path="url(#cl11)">
<line x1="147.6" y1="216.4" x2="199.8" y2="216.4" stroke="#6e87c2" stroke-width="1.4"/>
<line x1="147.6" y1="224.0" x2="199.8" y2="224.0" stroke="#6e87c2" stroke-width="1.3"/>
<line x1="147.6" y1="225.9" x2="199.8" y2="225.9" stroke="#6e87c2" stroke-width="1.3"/>
<line x1="147.6" y1="232.1" x2="199.8" y2="232.1" stroke="#6e87c2" stroke-width="1.0"/>
<line x1="147.6" y1="243.5" x2="199.8" y2="243.5" stroke="#6e87c2" stroke-width="1.4"/>
<path d="M138.6,216.4 L148.8,224.9 L158.9,216.4 M138.6,216.4 L138.6,231.3 M128.5,224.9 L138.6,231.3 L148.8,224.9 M138.6,231.3 L148.8,236.1 M138.6,231.3 L128.5,236.1 M148.8,236.1 L138.6,243.5 L128.5,236.1 M138.6,216.4 L153.8,231.3 M138.6,216.4 L123.4,231.3 M158.9,216.4 L169.1,224.9 L179.2,216.4 M158.9,216.4 L158.9,231.3 M148.8,224.9 L158.9,231.3 L169.1,224.9 M158.9,231.3 L169.1,236.1 M158.9,231.3 L148.8,236.1 M169.1,236.1 L158.9,243.5 L148.8,236.1 M158.9,216.4 L174.1,231.3 M158.9,216.4 L143.7,231.3 M179.2,216.4 L189.4,224.9 L199.5,216.4 M179.2,216.4 L179.2,231.3 M169.1,224.9 L179.2,231.3 L189.4,224.9 M179.2,231.3 L189.4,236.1 M179.2,231.3 L169.1,236.1 M189.4,236.1 L179.2,243.5 L169.1,236.1 M179.2,216.4 L194.4,231.3 M179.2,216.4 L164.0,231.3 M199.5,216.4 L209.7,224.9 L219.8,216.4 M199.5,216.4 L199.5,231.3 M189.4,224.9 L199.5,231.3 L209.7,224.9 M199.5,231.3 L209.7,236.1 M199.5,231.3 L189.4,236.1 M209.7,236.1 L199.5,243.5 L189.4,236.1 M199.5,216.4 L214.7,231.3 M199.5,216.4 L184.3,231.3 M219.8,216.4 L230.0,224.9 L240.1,216.4 M219.8,216.4 L219.8,231.3 M209.7,224.9 L219.8,231.3 L230.0,224.9 M219.8,231.3 L230.0,236.1 M219.8,231.3 L209.7,236.1 M230.0,236.1 L219.8,243.5 L209.7,236.1 M219.8,216.4 L235.0,231.3 M219.8,216.4 L204.6,231.3 " stroke="#6e87c2" stroke-width="1.4" fill="none"/>
<line x1="147.6" y1="236.4" x2="199.8" y2="236.4" stroke="#e2b522" stroke-width="1.2"/>
<line x1="138.6" y1="240.7" x2="138.6" y2="243.5" stroke="#e2b522" stroke-width="1.3"/>
<line x1="158.9" y1="240.7" x2="158.9" y2="243.5" stroke="#e2b522" stroke-width="1.3"/>
<line x1="179.2" y1="240.7" x2="179.2" y2="243.5" stroke="#e2b522" stroke-width="1.3"/>
<line x1="199.5" y1="240.7" x2="199.5" y2="243.5" stroke="#e2b522" stroke-width="1.3"/>
<line x1="219.8" y1="240.7" x2="219.8" y2="243.5" stroke="#e2b522" stroke-width="1.3"/>
<circle cx="148.8" cy="245.1" r="3.0" fill="url(#g_ni)"/>
<circle cx="169.1" cy="245.1" r="3.0" fill="url(#g_ni)"/>
<circle cx="189.4" cy="245.1" r="3.0" fill="url(#g_ni)"/>
<circle cx="209.7" cy="245.1" r="3.0" fill="url(#g_ni)"/>
<circle cx="230.0" cy="245.1" r="3.0" fill="url(#g_ni)"/>
<circle cx="148.8" cy="224.9" r="3.6" fill="url(#g_ni)"/>
<circle cx="169.1" cy="224.9" r="3.6" fill="url(#g_ni)"/>
<circle cx="189.4" cy="224.9" r="3.6" fill="url(#g_ni)"/>
<circle cx="209.7" cy="224.9" r="3.6" fill="url(#g_ni)"/>
<circle cx="230.0" cy="224.9" r="3.6" fill="url(#g_ni)"/>
<circle cx="138.6" cy="231.3" r="3.7" fill="url(#g_ni)"/>
<circle cx="158.9" cy="231.3" r="3.7" fill="url(#g_ni)"/>
<circle cx="179.2" cy="231.3" r="3.7" fill="url(#g_ni)"/>
<circle cx="199.5" cy="231.3" r="3.7" fill="url(#g_ni)"/>
<circle cx="219.8" cy="231.3" r="3.7" fill="url(#g_ni)"/>
<circle cx="148.8" cy="236.1" r="3.4" fill="url(#g_au)"/>
<circle cx="169.1" cy="236.1" r="3.4" fill="url(#g_au)"/>
<circle cx="189.4" cy="236.1" r="3.4" fill="url(#g_au)"/>
<circle cx="209.7" cy="236.1" r="3.4" fill="url(#g_au)"/>
<circle cx="230.0" cy="236.1" r="3.4" fill="url(#g_au)"/>
<circle cx="138.6" cy="216.4" r="3.9" fill="url(#g_ni)"/>
<circle cx="158.9" cy="216.4" r="3.9" fill="url(#g_ni)"/>
<circle cx="179.2" cy="216.4" r="3.9" fill="url(#g_ni)"/>
<circle cx="199.5" cy="216.4" r="3.9" fill="url(#g_ni)"/>
<circle cx="219.8" cy="216.4" r="3.9" fill="url(#g_ni)"/>
</g>
<rect x="147.6" y="209.3" width="7.2" height="6.4" fill="#767271"/>
<text x="151.2" y="214.2" fill="#fff" font-size="4.4" text-anchor="middle" font-weight="normal" >11</text>
<circle cx="166.1" cy="211.6" r="3.6" fill="url(#g_h)"/>
<circle cx="159.4" cy="218.4" r="3.6" fill="url(#g_h)"/>
<circle cx="167.8" cy="218.4" r="3.5" fill="url(#g_c)"/>
<circle cx="176.3" cy="218.4" r="3.7" fill="url(#g_o)"/>
<clipPath id="cl12"><rect x="204.5" y="209.3" width="52.2" height="34.9"/></clipPath>
<g clip-path="url(#cl12)">
<line x1="204.5" y1="216.4" x2="256.7" y2="216.4" stroke="#6e87c2" stroke-width="1.4"/>
<line x1="204.5" y1="224.0" x2="256.7" y2="224.0" stroke="#6e87c2" stroke-width="1.3"/>
<line x1="204.5" y1="225.9" x2="256.7" y2="225.9" stroke="#6e87c2" stroke-width="1.3"/>
<line x1="204.5" y1="232.1" x2="256.7" y2="232.1" stroke="#6e87c2" stroke-width="1.0"/>
<line x1="204.5" y1="243.5" x2="256.7" y2="243.5" stroke="#6e87c2" stroke-width="1.4"/>
<path d="M195.5,216.4 L205.6,224.9 L215.8,216.4 M195.5,216.4 L195.5,231.3 M185.3,224.9 L195.5,231.3 L205.6,224.9 M195.5,231.3 L205.6,236.1 M195.5,231.3 L185.3,236.1 M205.6,236.1 L195.5,243.5 L185.3,236.1 M195.5,216.4 L210.7,231.3 M195.5,216.4 L180.3,231.3 M215.8,216.4 L225.9,224.9 L236.1,216.4 M215.8,216.4 L215.8,231.3 M205.6,224.9 L215.8,231.3 L225.9,224.9 M215.8,231.3 L225.9,236.1 M215.8,231.3 L205.6,236.1 M225.9,236.1 L215.8,243.5 L205.6,236.1 M215.8,216.4 L231.0,231.3 M215.8,216.4 L200.6,231.3 M236.1,216.4 L246.2,224.9 L256.4,216.4 M236.1,216.4 L236.1,231.3 M225.9,224.9 L236.1,231.3 L246.2,224.9 M236.1,231.3 L246.2,236.1 M236.1,231.3 L225.9,236.1 M246.2,236.1 L236.1,243.5 L225.9,236.1 M236.1,216.4 L251.3,231.3 M236.1,216.4 L220.9,231.3 M256.4,216.4 L266.5,224.9 L276.7,216.4 M256.4,216.4 L256.4,231.3 M246.2,224.9 L256.4,231.3 L266.5,224.9 M256.4,231.3 L266.5,236.1 M256.4,231.3 L246.2,236.1 M266.5,236.1 L256.4,243.5 L246.2,236.1 M256.4,216.4 L271.6,231.3 M256.4,216.4 L241.2,231.3 M276.7,216.4 L286.8,224.9 L297.0,216.4 M276.7,216.4 L276.7,231.3 M266.5,224.9 L276.7,231.3 L286.8,224.9 M276.7,231.3 L286.8,236.1 M276.7,231.3 L266.5,236.1 M286.8,236.1 L276.7,243.5 L266.5,236.1 M276.7,216.4 L291.9,231.3 M276.7,216.4 L261.5,231.3 " stroke="#6e87c2" stroke-width="1.4" fill="none"/>
<line x1="204.5" y1="236.4" x2="256.7" y2="236.4" stroke="#e2b522" stroke-width="1.2"/>
<line x1="195.5" y1="240.7" x2="195.5" y2="243.5" stroke="#e2b522" stroke-width="1.3"/>
<line x1="215.8" y1="240.7" x2="215.8" y2="243.5" stroke="#e2b522" stroke-width="1.3"/>
<line x1="236.1" y1="240.7" x2="236.1" y2="243.5" stroke="#e2b522" stroke-width="1.3"/>
<line x1="256.4" y1="240.7" x2="256.4" y2="243.5" stroke="#e2b522" stroke-width="1.3"/>
<line x1="276.7" y1="240.7" x2="276.7" y2="243.5" stroke="#e2b522" stroke-width="1.3"/>
<circle cx="205.6" cy="245.1" r="3.0" fill="url(#g_ni)"/>
<circle cx="225.9" cy="245.1" r="3.0" fill="url(#g_ni)"/>
<circle cx="246.2" cy="245.1" r="3.0" fill="url(#g_ni)"/>
<circle cx="266.5" cy="245.1" r="3.0" fill="url(#g_ni)"/>
<circle cx="286.8" cy="245.1" r="3.0" fill="url(#g_ni)"/>
<circle cx="205.6" cy="224.9" r="3.6" fill="url(#g_ni)"/>
<circle cx="225.9" cy="224.9" r="3.6" fill="url(#g_ni)"/>
<circle cx="246.2" cy="224.9" r="3.6" fill="url(#g_ni)"/>
<circle cx="266.5" cy="224.9" r="3.6" fill="url(#g_ni)"/>
<circle cx="286.8" cy="224.9" r="3.6" fill="url(#g_ni)"/>
<circle cx="195.5" cy="231.3" r="3.7" fill="url(#g_ni)"/>
<circle cx="215.8" cy="231.3" r="3.7" fill="url(#g_ni)"/>
<circle cx="236.1" cy="231.3" r="3.7" fill="url(#g_ni)"/>
<circle cx="256.4" cy="231.3" r="3.7" fill="url(#g_ni)"/>
<circle cx="276.7" cy="231.3" r="3.7" fill="url(#g_ni)"/>
<circle cx="205.6" cy="236.1" r="3.4" fill="url(#g_au)"/>
<circle cx="225.9" cy="236.1" r="3.4" fill="url(#g_au)"/>
<circle cx="246.2" cy="236.1" r="3.4" fill="url(#g_au)"/>
<circle cx="266.5" cy="236.1" r="3.4" fill="url(#g_au)"/>
<circle cx="286.8" cy="236.1" r="3.4" fill="url(#g_au)"/>
<circle cx="195.5" cy="216.4" r="3.9" fill="url(#g_ni)"/>
<circle cx="215.8" cy="216.4" r="3.9" fill="url(#g_ni)"/>
<circle cx="236.1" cy="216.4" r="3.9" fill="url(#g_ni)"/>
<circle cx="256.4" cy="216.4" r="3.9" fill="url(#g_ni)"/>
<circle cx="276.7" cy="216.4" r="3.9" fill="url(#g_ni)"/>
</g>
<rect x="204.5" y="209.3" width="7.2" height="6.4" fill="#767271"/>
<text x="208.1" y="214.2" fill="#fff" font-size="4.4" text-anchor="middle" font-weight="normal" >12</text>
<circle cx="215.0" cy="215.9" r="3.6" fill="url(#g_h)"/>
<circle cx="235.7" cy="211.1" r="3.6" fill="url(#g_h)"/>
<circle cx="235.7" cy="219.3" r="3.5" fill="url(#g_c)"/>
<clipPath id="cl13"><rect x="261.3" y="209.3" width="52.2" height="34.9"/></clipPath>
<g clip-path="url(#cl13)">
<line x1="261.3" y1="216.4" x2="313.5" y2="216.4" stroke="#6e87c2" stroke-width="1.4"/>
<line x1="261.3" y1="224.0" x2="313.5" y2="224.0" stroke="#6e87c2" stroke-width="1.3"/>
<line x1="261.3" y1="225.9" x2="313.5" y2="225.9" stroke="#6e87c2" stroke-width="1.3"/>
<line x1="261.3" y1="232.1" x2="313.5" y2="232.1" stroke="#6e87c2" stroke-width="1.0"/>
<line x1="261.3" y1="243.5" x2="313.5" y2="243.5" stroke="#6e87c2" stroke-width="1.4"/>
<path d="M252.3,216.4 L262.5,224.9 L272.6,216.4 M252.3,216.4 L252.3,231.3 M242.2,224.9 L252.3,231.3 L262.5,224.9 M252.3,231.3 L262.5,236.1 M252.3,231.3 L242.2,236.1 M262.5,236.1 L252.3,243.5 L242.2,236.1 M252.3,216.4 L267.6,231.3 M252.3,216.4 L237.1,231.3 M272.6,216.4 L282.8,224.9 L292.9,216.4 M272.6,216.4 L272.6,231.3 M262.5,224.9 L272.6,231.3 L282.8,224.9 M272.6,231.3 L282.8,236.1 M272.6,231.3 L262.5,236.1 M282.8,236.1 L272.6,243.5 L262.5,236.1 M272.6,216.4 L287.9,231.3 M272.6,216.4 L257.4,231.3 M292.9,216.4 L303.1,224.9 L313.2,216.4 M292.9,216.4 L292.9,231.3 M282.8,224.9 L292.9,231.3 L303.1,224.9 M292.9,231.3 L303.1,236.1 M292.9,231.3 L282.8,236.1 M303.1,236.1 L292.9,243.5 L282.8,236.1 M292.9,216.4 L308.2,231.3 M292.9,216.4 L277.7,231.3 M313.2,216.4 L323.4,224.9 L333.5,216.4 M313.2,216.4 L313.2,231.3 M303.1,224.9 L313.2,231.3 L323.4,224.9 M313.2,231.3 L323.4,236.1 M313.2,231.3 L303.1,236.1 M323.4,236.1 L313.2,243.5 L303.1,236.1 M313.2,216.4 L328.5,231.3 M313.2,216.4 L298.0,231.3 M333.5,216.4 L343.7,224.9 L353.8,216.4 M333.5,216.4 L333.5,231.3 M323.4,224.9 L333.5,231.3 L343.7,224.9 M333.5,231.3 L343.7,236.1 M333.5,231.3 L323.4,236.1 M343.7,236.1 L333.5,243.5 L323.4,236.1 M333.5,216.4 L348.8,231.3 M333.5,216.4 L318.3,231.3 " stroke="#6e87c2" stroke-width="1.4" fill="none"/>
<line x1="261.3" y1="236.4" x2="313.5" y2="236.4" stroke="#e2b522" stroke-width="1.2"/>
<line x1="252.3" y1="240.7" x2="252.3" y2="243.5" stroke="#e2b522" stroke-width="1.3"/>
<line x1="272.6" y1="240.7" x2="272.6" y2="243.5" stroke="#e2b522" stroke-width="1.3"/>
<line x1="292.9" y1="240.7" x2="292.9" y2="243.5" stroke="#e2b522" stroke-width="1.3"/>
<line x1="313.2" y1="240.7" x2="313.2" y2="243.5" stroke="#e2b522" stroke-width="1.3"/>
<line x1="333.5" y1="240.7" x2="333.5" y2="243.5" stroke="#e2b522" stroke-width="1.3"/>
<circle cx="262.5" cy="245.1" r="3.0" fill="url(#g_ni)"/>
<circle cx="282.8" cy="245.1" r="3.0" fill="url(#g_ni)"/>
<circle cx="303.1" cy="245.1" r="3.0" fill="url(#g_ni)"/>
<circle cx="323.4" cy="245.1" r="3.0" fill="url(#g_ni)"/>
<circle cx="343.7" cy="245.1" r="3.0" fill="url(#g_ni)"/>
<circle cx="262.5" cy="224.9" r="3.6" fill="url(#g_ni)"/>
<circle cx="282.8" cy="224.9" r="3.6" fill="url(#g_ni)"/>
<circle cx="303.1" cy="224.9" r="3.6" fill="url(#g_ni)"/>
<circle cx="323.4" cy="224.9" r="3.6" fill="url(#g_ni)"/>
<circle cx="343.7" cy="224.9" r="3.6" fill="url(#g_ni)"/>
<circle cx="252.3" cy="231.3" r="3.7" fill="url(#g_ni)"/>
<circle cx="272.6" cy="231.3" r="3.7" fill="url(#g_ni)"/>
<circle cx="292.9" cy="231.3" r="3.7" fill="url(#g_ni)"/>
<circle cx="313.2" cy="231.3" r="3.7" fill="url(#g_ni)"/>
<circle cx="333.5" cy="231.3" r="3.7" fill="url(#g_ni)"/>
<circle cx="262.5" cy="236.1" r="3.4" fill="url(#g_au)"/>
<circle cx="282.8" cy="236.1" r="3.4" fill="url(#g_au)"/>
<circle cx="303.1" cy="236.1" r="3.4" fill="url(#g_au)"/>
<circle cx="323.4" cy="236.1" r="3.4" fill="url(#g_au)"/>
<circle cx="343.7" cy="236.1" r="3.4" fill="url(#g_au)"/>
<circle cx="252.3" cy="216.4" r="3.9" fill="url(#g_ni)"/>
<circle cx="272.6" cy="216.4" r="3.9" fill="url(#g_ni)"/>
<circle cx="292.9" cy="216.4" r="3.9" fill="url(#g_ni)"/>
<circle cx="313.2" cy="216.4" r="3.9" fill="url(#g_ni)"/>
<circle cx="333.5" cy="216.4" r="3.9" fill="url(#g_ni)"/>
</g>
<rect x="261.3" y="209.3" width="7.2" height="6.4" fill="#767271"/>
<text x="264.9" y="214.2" fill="#fff" font-size="4.4" text-anchor="middle" font-weight="normal" >13</text>
<circle cx="278.5" cy="215.0" r="3.6" fill="url(#g_h)"/>
<circle cx="282.8" cy="213.3" r="3.6" fill="url(#g_h)"/>
<circle cx="280.2" cy="220.1" r="3.5" fill="url(#g_c)"/>
<circle cx="304.0" cy="221.8" r="3.7" fill="url(#g_o)"/>
<clipPath id="cl14"><rect x="318.2" y="209.3" width="52.2" height="34.9"/></clipPath>
<g clip-path="url(#cl14)">
<line x1="318.2" y1="216.4" x2="370.4" y2="216.4" stroke="#6e87c2" stroke-width="1.4"/>
<line x1="318.2" y1="224.0" x2="370.4" y2="224.0" stroke="#6e87c2" stroke-width="1.3"/>
<line x1="318.2" y1="225.9" x2="370.4" y2="225.9" stroke="#6e87c2" stroke-width="1.3"/>
<line x1="318.2" y1="232.1" x2="370.4" y2="232.1" stroke="#6e87c2" stroke-width="1.0"/>
<line x1="318.2" y1="243.5" x2="370.4" y2="243.5" stroke="#6e87c2" stroke-width="1.4"/>
<path d="M309.2,216.4 L319.3,224.9 L329.5,216.4 M309.2,216.4 L309.2,231.3 M299.1,224.9 L309.2,231.3 L319.3,224.9 M309.2,231.3 L319.3,236.1 M309.2,231.3 L299.1,236.1 M319.3,236.1 L309.2,243.5 L299.1,236.1 M309.2,216.4 L324.4,231.3 M309.2,216.4 L294.0,231.3 M329.5,216.4 L339.6,224.9 L349.8,216.4 M329.5,216.4 L329.5,231.3 M319.4,224.9 L329.5,231.3 L339.6,224.9 M329.5,231.3 L339.6,236.1 M329.5,231.3 L319.4,236.1 M339.6,236.1 L329.5,243.5 L319.4,236.1 M329.5,216.4 L344.7,231.3 M329.5,216.4 L314.3,231.3 M349.8,216.4 L359.9,224.9 L370.1,216.4 M349.8,216.4 L349.8,231.3 M339.7,224.9 L349.8,231.3 L359.9,224.9 M349.8,231.3 L359.9,236.1 M349.8,231.3 L339.7,236.1 M359.9,236.1 L349.8,243.5 L339.7,236.1 M349.8,216.4 L365.0,231.3 M349.8,216.4 L334.6,231.3 M370.1,216.4 L380.2,224.9 L390.4,216.4 M370.1,216.4 L370.1,231.3 M360.0,224.9 L370.1,231.3 L380.2,224.9 M370.1,231.3 L380.2,236.1 M370.1,231.3 L360.0,236.1 M380.2,236.1 L370.1,243.5 L360.0,236.1 M370.1,216.4 L385.3,231.3 M370.1,216.4 L354.9,231.3 M390.4,216.4 L400.5,224.9 L410.7,216.4 M390.4,216.4 L390.4,231.3 M380.2,224.9 L390.4,231.3 L400.5,224.9 M390.4,231.3 L400.5,236.1 M390.4,231.3 L380.2,236.1 M400.5,236.1 L390.4,243.5 L380.2,236.1 M390.4,216.4 L405.6,231.3 M390.4,216.4 L375.2,231.3 " stroke="#6e87c2" stroke-width="1.4" fill="none"/>
<line x1="318.2" y1="236.4" x2="370.4" y2="236.4" stroke="#e2b522" stroke-width="1.2"/>
<line x1="309.2" y1="240.7" x2="309.2" y2="243.5" stroke="#e2b522" stroke-width="1.3"/>
<line x1="329.5" y1="240.7" x2="329.5" y2="243.5" stroke="#e2b522" stroke-width="1.3"/>
<line x1="349.8" y1="240.7" x2="349.8" y2="243.5" stroke="#e2b522" stroke-width="1.3"/>
<line x1="370.1" y1="240.7" x2="370.1" y2="243.5" stroke="#e2b522" stroke-width="1.3"/>
<line x1="390.4" y1="240.7" x2="390.4" y2="243.5" stroke="#e2b522" stroke-width="1.3"/>
<circle cx="319.3" cy="245.1" r="3.0" fill="url(#g_ni)"/>
<circle cx="339.6" cy="245.1" r="3.0" fill="url(#g_ni)"/>
<circle cx="359.9" cy="245.1" r="3.0" fill="url(#g_ni)"/>
<circle cx="380.2" cy="245.1" r="3.0" fill="url(#g_ni)"/>
<circle cx="400.5" cy="245.1" r="3.0" fill="url(#g_ni)"/>
<circle cx="319.3" cy="224.9" r="3.6" fill="url(#g_ni)"/>
<circle cx="339.6" cy="224.9" r="3.6" fill="url(#g_ni)"/>
<circle cx="359.9" cy="224.9" r="3.6" fill="url(#g_ni)"/>
<circle cx="380.2" cy="224.9" r="3.6" fill="url(#g_ni)"/>
<circle cx="400.5" cy="224.9" r="3.6" fill="url(#g_ni)"/>
<circle cx="309.2" cy="231.3" r="3.7" fill="url(#g_ni)"/>
<circle cx="329.5" cy="231.3" r="3.7" fill="url(#g_ni)"/>
<circle cx="349.8" cy="231.3" r="3.7" fill="url(#g_ni)"/>
<circle cx="370.1" cy="231.3" r="3.7" fill="url(#g_ni)"/>
<circle cx="390.4" cy="231.3" r="3.7" fill="url(#g_ni)"/>
<circle cx="319.3" cy="236.1" r="3.4" fill="url(#g_au)"/>
<circle cx="339.6" cy="236.1" r="3.4" fill="url(#g_au)"/>
<circle cx="359.9" cy="236.1" r="3.4" fill="url(#g_au)"/>
<circle cx="380.2" cy="236.1" r="3.4" fill="url(#g_au)"/>
<circle cx="400.5" cy="236.1" r="3.4" fill="url(#g_au)"/>
<circle cx="309.2" cy="216.4" r="3.9" fill="url(#g_ni)"/>
<circle cx="329.5" cy="216.4" r="3.9" fill="url(#g_ni)"/>
<circle cx="349.8" cy="216.4" r="3.9" fill="url(#g_ni)"/>
<circle cx="370.1" cy="216.4" r="3.9" fill="url(#g_ni)"/>
<circle cx="390.4" cy="216.4" r="3.9" fill="url(#g_ni)"/>
</g>
<rect x="318.2" y="209.3" width="7.2" height="6.4" fill="#767271"/>
<text x="321.8" y="214.2" fill="#fff" font-size="4.4" text-anchor="middle" font-weight="normal" >14</text>
<circle cx="342.2" cy="214.2" r="3.6" fill="url(#g_h)"/>
<circle cx="354.1" cy="212.5" r="3.6" fill="url(#g_h)"/>
<circle cx="349.8" cy="218.4" r="3.5" fill="url(#g_c)"/>
<clipPath id="cl15"><rect x="375.1" y="209.3" width="52.2" height="34.9"/></clipPath>
<g clip-path="url(#cl15)">
<line x1="375.1" y1="216.4" x2="427.3" y2="216.4" stroke="#6e87c2" stroke-width="1.4"/>
<line x1="375.1" y1="224.0" x2="427.3" y2="224.0" stroke="#6e87c2" stroke-width="1.3"/>
<line x1="375.1" y1="225.9" x2="427.3" y2="225.9" stroke="#6e87c2" stroke-width="1.3"/>
<line x1="375.1" y1="232.1" x2="427.3" y2="232.1" stroke="#6e87c2" stroke-width="1.0"/>
<line x1="375.1" y1="243.5" x2="427.3" y2="243.5" stroke="#6e87c2" stroke-width="1.4"/>
<path d="M355.5,216.4 L365.6,224.9 L375.8,216.4 M355.5,216.4 L355.5,231.3 M345.3,224.9 L355.5,231.3 L365.6,224.9 M355.5,231.3 L365.6,236.1 M355.5,231.3 L345.3,236.1 M365.6,236.1 L355.5,243.5 L345.3,236.1 M355.5,216.4 L370.7,231.3 M355.5,216.4 L340.2,231.3 M375.8,216.4 L385.9,224.9 L396.1,216.4 M375.8,216.4 L375.8,231.3 M365.6,224.9 L375.8,231.3 L385.9,224.9 M375.8,231.3 L385.9,236.1 M375.8,231.3 L365.6,236.1 M385.9,236.1 L375.8,243.5 L365.6,236.1 M375.8,216.4 L391.0,231.3 M375.8,216.4 L360.5,231.3 M396.1,216.4 L406.2,224.9 L416.4,216.4 M396.1,216.4 L396.1,231.3 M385.9,224.9 L396.1,231.3 L406.2,224.9 M396.1,231.3 L406.2,236.1 M396.1,231.3 L385.9,236.1 M406.2,236.1 L396.1,243.5 L385.9,236.1 M396.1,216.4 L411.3,231.3 M396.1,216.4 L380.8,231.3 M416.4,216.4 L426.5,224.9 L436.7,216.4 M416.4,216.4 L416.4,231.3 M406.2,224.9 L416.4,231.3 L426.5,224.9 M416.4,231.3 L426.5,236.1 M416.4,231.3 L406.2,236.1 M426.5,236.1 L416.4,243.5 L406.2,236.1 M416.4,216.4 L431.6,231.3 M416.4,216.4 L401.1,231.3 M436.7,216.4 L446.8,224.9 L457.0,216.4 M436.7,216.4 L436.7,231.3 M426.5,224.9 L436.7,231.3 L446.8,224.9 M436.7,231.3 L446.8,236.1 M436.7,231.3 L426.5,236.1 M446.8,236.1 L436.7,243.5 L426.5,236.1 M436.7,216.4 L451.9,231.3 M436.7,216.4 L421.4,231.3 " stroke="#6e87c2" stroke-width="1.4" fill="none"/>
<line x1="375.1" y1="236.4" x2="427.3" y2="236.4" stroke="#e2b522" stroke-width="1.2"/>
<line x1="355.5" y1="240.7" x2="355.5" y2="243.5" stroke="#e2b522" stroke-width="1.3"/>
<line x1="375.8" y1="240.7" x2="375.8" y2="243.5" stroke="#e2b522" stroke-width="1.3"/>
<line x1="396.1" y1="240.7" x2="396.1" y2="243.5" stroke="#e2b522" stroke-width="1.3"/>
<line x1="416.4" y1="240.7" x2="416.4" y2="243.5" stroke="#e2b522" stroke-width="1.3"/>
<line x1="436.7" y1="240.7" x2="436.7" y2="243.5" stroke="#e2b522" stroke-width="1.3"/>
<circle cx="365.6" cy="245.1" r="3.0" fill="url(#g_ni)"/>
<circle cx="385.9" cy="245.1" r="3.0" fill="url(#g_ni)"/>
<circle cx="406.2" cy="245.1" r="3.0" fill="url(#g_ni)"/>
<circle cx="426.5" cy="245.1" r="3.0" fill="url(#g_ni)"/>
<circle cx="446.8" cy="245.1" r="3.0" fill="url(#g_ni)"/>
<circle cx="365.6" cy="224.9" r="3.6" fill="url(#g_ni)"/>
<circle cx="385.9" cy="224.9" r="3.6" fill="url(#g_ni)"/>
<circle cx="406.2" cy="224.9" r="3.6" fill="url(#g_ni)"/>
<circle cx="426.5" cy="224.9" r="3.6" fill="url(#g_ni)"/>
<circle cx="446.8" cy="224.9" r="3.6" fill="url(#g_ni)"/>
<circle cx="355.5" cy="231.3" r="3.7" fill="url(#g_ni)"/>
<circle cx="375.8" cy="231.3" r="3.7" fill="url(#g_ni)"/>
<circle cx="396.1" cy="231.3" r="3.7" fill="url(#g_ni)"/>
<circle cx="416.4" cy="231.3" r="3.7" fill="url(#g_ni)"/>
<circle cx="436.7" cy="231.3" r="3.7" fill="url(#g_ni)"/>
<circle cx="365.6" cy="236.1" r="3.4" fill="url(#g_au)"/>
<circle cx="385.9" cy="236.1" r="3.4" fill="url(#g_au)"/>
<circle cx="406.2" cy="236.1" r="3.4" fill="url(#g_au)"/>
<circle cx="426.5" cy="236.1" r="3.4" fill="url(#g_au)"/>
<circle cx="446.8" cy="236.1" r="3.4" fill="url(#g_au)"/>
<circle cx="355.5" cy="216.4" r="3.9" fill="url(#g_ni)"/>
<circle cx="375.8" cy="216.4" r="3.9" fill="url(#g_ni)"/>
<circle cx="396.1" cy="216.4" r="3.9" fill="url(#g_ni)"/>
<circle cx="416.4" cy="216.4" r="3.9" fill="url(#g_ni)"/>
<circle cx="436.7" cy="216.4" r="3.9" fill="url(#g_ni)"/>
</g>
<rect x="375.1" y="209.3" width="7.2" height="6.4" fill="#767271"/>
<text x="378.7" y="214.2" fill="#fff" font-size="4.4" text-anchor="middle" font-weight="normal" >15</text>
<circle cx="388.1" cy="212.7" r="3.6" fill="url(#g_h)"/>
<circle cx="399.8" cy="211.4" r="3.6" fill="url(#g_h)"/>
<circle cx="406.7" cy="212.7" r="3.6" fill="url(#g_h)"/>
<circle cx="395.8" cy="217.8" r="3.5" fill="url(#g_c)"/>
<clipPath id="cl16"><rect x="431.9" y="209.3" width="52.2" height="34.9"/></clipPath>
<g clip-path="url(#cl16)">
<line x1="431.9" y1="216.4" x2="484.1" y2="216.4" stroke="#6e87c2" stroke-width="1.4"/>
<line x1="431.9" y1="224.0" x2="484.1" y2="224.0" stroke="#6e87c2" stroke-width="1.3"/>
<line x1="431.9" y1="225.9" x2="484.1" y2="225.9" stroke="#6e87c2" stroke-width="1.3"/>
<line x1="431.9" y1="232.1" x2="484.1" y2="232.1" stroke="#6e87c2" stroke-width="1.0"/>
<line x1="431.9" y1="243.5" x2="484.1" y2="243.5" stroke="#6e87c2" stroke-width="1.4"/>
<path d="M412.3,216.4 L422.5,224.9 L432.6,216.4 M412.3,216.4 L412.3,231.3 M402.2,224.9 L412.3,231.3 L422.5,224.9 M412.3,231.3 L422.5,236.1 M412.3,231.3 L402.2,236.1 M422.5,236.1 L412.3,243.5 L402.2,236.1 M412.3,216.4 L427.5,231.3 M412.3,216.4 L397.1,231.3 M432.6,216.4 L442.8,224.9 L452.9,216.4 M432.6,216.4 L432.6,231.3 M422.5,224.9 L432.6,231.3 L442.8,224.9 M432.6,231.3 L442.8,236.1 M432.6,231.3 L422.5,236.1 M442.8,236.1 L432.6,243.5 L422.5,236.1 M432.6,216.4 L447.8,231.3 M432.6,216.4 L417.4,231.3 M452.9,216.4 L463.1,224.9 L473.2,216.4 M452.9,216.4 L452.9,231.3 M442.8,224.9 L452.9,231.3 L463.1,224.9 M452.9,231.3 L463.1,236.1 M452.9,231.3 L442.8,236.1 M463.1,236.1 L452.9,243.5 L442.8,236.1 M452.9,216.4 L468.1,231.3 M452.9,216.4 L437.7,231.3 M473.2,216.4 L483.4,224.9 L493.5,216.4 M473.2,216.4 L473.2,231.3 M463.1,224.9 L473.2,231.3 L483.4,224.9 M473.2,231.3 L483.4,236.1 M473.2,231.3 L463.1,236.1 M483.4,236.1 L473.2,243.5 L463.1,236.1 M473.2,216.4 L488.4,231.3 M473.2,216.4 L458.0,231.3 M493.5,216.4 L503.7,224.9 L513.8,216.4 M493.5,216.4 L493.5,231.3 M483.4,224.9 L493.5,231.3 L503.7,224.9 M493.5,231.3 L503.7,236.1 M493.5,231.3 L483.4,236.1 M503.7,236.1 L493.5,243.5 L483.4,236.1 M493.5,216.4 L508.7,231.3 M493.5,216.4 L478.3,231.3 " stroke="#6e87c2" stroke-width="1.4" fill="none"/>
<line x1="431.9" y1="236.4" x2="484.1" y2="236.4" stroke="#e2b522" stroke-width="1.2"/>
<line x1="412.3" y1="240.7" x2="412.3" y2="243.5" stroke="#e2b522" stroke-width="1.3"/>
<line x1="432.6" y1="240.7" x2="432.6" y2="243.5" stroke="#e2b522" stroke-width="1.3"/>
<line x1="452.9" y1="240.7" x2="452.9" y2="243.5" stroke="#e2b522" stroke-width="1.3"/>
<line x1="473.2" y1="240.7" x2="473.2" y2="243.5" stroke="#e2b522" stroke-width="1.3"/>
<line x1="493.5" y1="240.7" x2="493.5" y2="243.5" stroke="#e2b522" stroke-width="1.3"/>
<circle cx="422.5" cy="245.1" r="3.0" fill="url(#g_ni)"/>
<circle cx="442.8" cy="245.1" r="3.0" fill="url(#g_ni)"/>
<circle cx="463.1" cy="245.1" r="3.0" fill="url(#g_ni)"/>
<circle cx="483.4" cy="245.1" r="3.0" fill="url(#g_ni)"/>
<circle cx="503.7" cy="245.1" r="3.0" fill="url(#g_ni)"/>
<circle cx="422.5" cy="224.9" r="3.6" fill="url(#g_ni)"/>
<circle cx="442.8" cy="224.9" r="3.6" fill="url(#g_ni)"/>
<circle cx="463.1" cy="224.9" r="3.6" fill="url(#g_ni)"/>
<circle cx="483.4" cy="224.9" r="3.6" fill="url(#g_ni)"/>
<circle cx="503.7" cy="224.9" r="3.6" fill="url(#g_ni)"/>
<circle cx="412.3" cy="231.3" r="3.7" fill="url(#g_ni)"/>
<circle cx="432.6" cy="231.3" r="3.7" fill="url(#g_ni)"/>
<circle cx="452.9" cy="231.3" r="3.7" fill="url(#g_ni)"/>
<circle cx="473.2" cy="231.3" r="3.7" fill="url(#g_ni)"/>
<circle cx="493.5" cy="231.3" r="3.7" fill="url(#g_ni)"/>
<circle cx="422.5" cy="236.1" r="3.4" fill="url(#g_au)"/>
<circle cx="442.8" cy="236.1" r="3.4" fill="url(#g_au)"/>
<circle cx="463.1" cy="236.1" r="3.4" fill="url(#g_au)"/>
<circle cx="483.4" cy="236.1" r="3.4" fill="url(#g_au)"/>
<circle cx="503.7" cy="236.1" r="3.4" fill="url(#g_au)"/>
<circle cx="412.3" cy="216.4" r="3.9" fill="url(#g_ni)"/>
<circle cx="432.6" cy="216.4" r="3.9" fill="url(#g_ni)"/>
<circle cx="452.9" cy="216.4" r="3.9" fill="url(#g_ni)"/>
<circle cx="473.2" cy="216.4" r="3.9" fill="url(#g_ni)"/>
<circle cx="493.5" cy="216.4" r="3.9" fill="url(#g_ni)"/>
</g>
<rect x="431.9" y="209.3" width="7.2" height="6.4" fill="#767271"/>
<text x="435.5" y="214.2" fill="#fff" font-size="4.4" text-anchor="middle" font-weight="normal" >16</text>
<circle cx="453.2" cy="203.8" r="3.6" fill="url(#g_h)"/>
<circle cx="446.1" cy="210.7" r="3.6" fill="url(#g_h)"/>
<circle cx="460.0" cy="210.7" r="3.6" fill="url(#g_h)"/>
<circle cx="453.2" cy="211.4" r="3.5" fill="url(#g_c)"/>
<clipPath id="cl17"><rect x="488.8" y="209.3" width="52.2" height="34.9"/></clipPath>
<g clip-path="url(#cl17)">
<line x1="488.8" y1="216.4" x2="541.0" y2="216.4" stroke="#6e87c2" stroke-width="1.4"/>
<line x1="488.8" y1="224.0" x2="541.0" y2="224.0" stroke="#6e87c2" stroke-width="1.3"/>
<line x1="488.8" y1="225.9" x2="541.0" y2="225.9" stroke="#6e87c2" stroke-width="1.3"/>
<line x1="488.8" y1="232.1" x2="541.0" y2="232.1" stroke="#6e87c2" stroke-width="1.0"/>
<line x1="488.8" y1="243.5" x2="541.0" y2="243.5" stroke="#6e87c2" stroke-width="1.4"/>
<path d="M469.2,216.4 L479.3,224.9 L489.5,216.4 M469.2,216.4 L469.2,231.3 M459.0,224.9 L469.2,231.3 L479.3,224.9 M469.2,231.3 L479.3,236.1 M469.2,231.3 L459.0,236.1 M479.3,236.1 L469.2,243.5 L459.0,236.1 M469.2,216.4 L484.4,231.3 M469.2,216.4 L454.0,231.3 M489.5,216.4 L499.6,224.9 L509.8,216.4 M489.5,216.4 L489.5,231.3 M479.3,224.9 L489.5,231.3 L499.6,224.9 M489.5,231.3 L499.6,236.1 M489.5,231.3 L479.3,236.1 M499.6,236.1 L489.5,243.5 L479.3,236.1 M489.5,216.4 L504.7,231.3 M489.5,216.4 L474.3,231.3 M509.8,216.4 L519.9,224.9 L530.1,216.4 M509.8,216.4 L509.8,231.3 M499.6,224.9 L509.8,231.3 L519.9,224.9 M509.8,231.3 L519.9,236.1 M509.8,231.3 L499.6,236.1 M519.9,236.1 L509.8,243.5 L499.6,236.1 M509.8,216.4 L525.0,231.3 M509.8,216.4 L494.6,231.3 M530.1,216.4 L540.2,224.9 L550.4,216.4 M530.1,216.4 L530.1,231.3 M519.9,224.9 L530.1,231.3 L540.2,224.9 M530.1,231.3 L540.2,236.1 M530.1,231.3 L519.9,236.1 M540.2,236.1 L530.1,243.5 L519.9,236.1 M530.1,216.4 L545.3,231.3 M530.1,216.4 L514.9,231.3 M550.4,216.4 L560.5,224.9 L570.7,216.4 M550.4,216.4 L550.4,231.3 M540.2,224.9 L550.4,231.3 L560.5,224.9 M550.4,231.3 L560.5,236.1 M550.4,231.3 L540.2,236.1 M560.5,236.1 L550.4,243.5 L540.2,236.1 M550.4,216.4 L565.6,231.3 M550.4,216.4 L535.2,231.3 " stroke="#6e87c2" stroke-width="1.4" fill="none"/>
<line x1="488.8" y1="236.4" x2="541.0" y2="236.4" stroke="#e2b522" stroke-width="1.2"/>
<line x1="469.2" y1="240.7" x2="469.2" y2="243.5" stroke="#e2b522" stroke-width="1.3"/>
<line x1="489.5" y1="240.7" x2="489.5" y2="243.5" stroke="#e2b522" stroke-width="1.3"/>
<line x1="509.8" y1="240.7" x2="509.8" y2="243.5" stroke="#e2b522" stroke-width="1.3"/>
<line x1="530.1" y1="240.7" x2="530.1" y2="243.5" stroke="#e2b522" stroke-width="1.3"/>
<line x1="550.4" y1="240.7" x2="550.4" y2="243.5" stroke="#e2b522" stroke-width="1.3"/>
<circle cx="479.3" cy="245.1" r="3.0" fill="url(#g_ni)"/>
<circle cx="499.6" cy="245.1" r="3.0" fill="url(#g_ni)"/>
<circle cx="519.9" cy="245.1" r="3.0" fill="url(#g_ni)"/>
<circle cx="540.2" cy="245.1" r="3.0" fill="url(#g_ni)"/>
<circle cx="560.5" cy="245.1" r="3.0" fill="url(#g_ni)"/>
<circle cx="479.3" cy="224.9" r="3.6" fill="url(#g_ni)"/>
<circle cx="499.6" cy="224.9" r="3.6" fill="url(#g_ni)"/>
<circle cx="519.9" cy="224.9" r="3.6" fill="url(#g_ni)"/>
<circle cx="540.2" cy="224.9" r="3.6" fill="url(#g_ni)"/>
<circle cx="560.5" cy="224.9" r="3.6" fill="url(#g_ni)"/>
<circle cx="469.2" cy="231.3" r="3.7" fill="url(#g_ni)"/>
<circle cx="489.5" cy="231.3" r="3.7" fill="url(#g_ni)"/>
<circle cx="509.8" cy="231.3" r="3.7" fill="url(#g_ni)"/>
<circle cx="530.1" cy="231.3" r="3.7" fill="url(#g_ni)"/>
<circle cx="550.4" cy="231.3" r="3.7" fill="url(#g_ni)"/>
<circle cx="479.3" cy="236.1" r="3.4" fill="url(#g_au)"/>
<circle cx="499.6" cy="236.1" r="3.4" fill="url(#g_au)"/>
<circle cx="519.9" cy="236.1" r="3.4" fill="url(#g_au)"/>
<circle cx="540.2" cy="236.1" r="3.4" fill="url(#g_au)"/>
<circle cx="560.5" cy="236.1" r="3.4" fill="url(#g_au)"/>
<circle cx="469.2" cy="216.4" r="3.9" fill="url(#g_ni)"/>
<circle cx="489.5" cy="216.4" r="3.9" fill="url(#g_ni)"/>
<circle cx="509.8" cy="216.4" r="3.9" fill="url(#g_ni)"/>
<circle cx="530.1" cy="216.4" r="3.9" fill="url(#g_ni)"/>
<circle cx="550.4" cy="216.4" r="3.9" fill="url(#g_ni)"/>
</g>
<rect x="488.8" y="209.3" width="7.2" height="6.4" fill="#767271"/>
<text x="492.4" y="214.2" fill="#fff" font-size="4.4" text-anchor="middle" font-weight="normal" >17</text>
<circle cx="509.7" cy="203.0" r="3.6" fill="url(#g_h)"/>
<circle cx="502.5" cy="209.7" r="3.6" fill="url(#g_h)"/>
<circle cx="516.8" cy="209.7" r="3.6" fill="url(#g_h)"/>
<circle cx="509.7" cy="210.7" r="3.5" fill="url(#g_c)"/>
<circle cx="531.2" cy="219.8" r="3.6" fill="url(#g_h)"/>
<line x1="31.2" y1="294.9" x2="31.2" y2="459.6" stroke="#222" stroke-width="1"/>
<line x1="28.4" y1="459.6" x2="31.2" y2="459.6" stroke="#222" stroke-width="0.9"/>
<text x="25.6" y="463.0" fill="#222" font-size="9.6" text-anchor="end" font-weight="normal" >-4</text>
<line x1="29.599999999999998" y1="445.9" x2="31.2" y2="445.9" stroke="#222" stroke-width="0.8"/>
<line x1="28.4" y1="432.1" x2="31.2" y2="432.1" stroke="#222" stroke-width="0.9"/>
<text x="25.6" y="435.5" fill="#222" font-size="9.6" text-anchor="end" font-weight="normal" >-3</text>
<line x1="29.599999999999998" y1="418.4" x2="31.2" y2="418.4" stroke="#222" stroke-width="0.8"/>
<line x1="28.4" y1="404.7" x2="31.2" y2="404.7" stroke="#222" stroke-width="0.9"/>
<text x="25.6" y="408.1" fill="#222" font-size="9.6" text-anchor="end" font-weight="normal" >-2</text>
<line x1="29.599999999999998" y1="391.0" x2="31.2" y2="391.0" stroke="#222" stroke-width="0.8"/>
<line x1="28.4" y1="377.2" x2="31.2" y2="377.2" stroke="#222" stroke-width="0.9"/>
<text x="25.6" y="380.6" fill="#222" font-size="9.6" text-anchor="end" font-weight="normal" >-1</text>
<line x1="29.599999999999998" y1="363.5" x2="31.2" y2="363.5" stroke="#222" stroke-width="0.8"/>
<line x1="28.4" y1="349.8" x2="31.2" y2="349.8" stroke="#222" stroke-width="0.9"/>
<text x="25.6" y="353.2" fill="#222" font-size="9.6" text-anchor="end" font-weight="normal" >0</text>
<line x1="29.599999999999998" y1="336.1" x2="31.2" y2="336.1" stroke="#222" stroke-width="0.8"/>
<line x1="28.4" y1="322.4" x2="31.2" y2="322.4" stroke="#222" stroke-width="0.9"/>
<text x="25.6" y="325.8" fill="#222" font-size="9.6" text-anchor="end" font-weight="normal" >1</text>
<line x1="29.599999999999998" y1="308.6" x2="31.2" y2="308.6" stroke="#222" stroke-width="0.8"/>
<line x1="28.4" y1="294.9" x2="31.2" y2="294.9" stroke="#222" stroke-width="0.9"/>
<text x="25.6" y="298.3" fill="#222" font-size="9.6" text-anchor="end" font-weight="normal" >2</text>
<text x="0" y="0" transform="translate(7.3,371.8) rotate(-90)" fill="#222" font-size="9.8" text-anchor="middle">Energy (eV)</text>
<line x1="31.6" y1="349.5" x2="51.4" y2="349.5" stroke="#c83a48" stroke-width="1.5"/>
<line x1="55.7" y1="333.5" x2="75.8" y2="333.5" stroke="#c83a48" stroke-width="1.5"/>
<line x1="105.3" y1="358.8" x2="125.3" y2="358.8" stroke="#c83a48" stroke-width="1.5"/>
<line x1="129.8" y1="373.4" x2="150.2" y2="373.4" stroke="#c83a48" stroke-width="1.5"/>
<line x1="154.2" y1="318.2" x2="174.3" y2="318.2" stroke="#1d5c96" stroke-width="1.5"/>
<line x1="155.0" y1="391.4" x2="174.8" y2="391.4" stroke="#2e9a35" stroke-width="1.5"/>
<line x1="179.1" y1="339.9" x2="200.0" y2="339.9" stroke="#9dd2ea" stroke-width="1.5"/>
<line x1="204.1" y1="359.0" x2="224.2" y2="359.0" stroke="#2e9a35" stroke-width="1.5"/>
<line x1="228.2" y1="378.9" x2="248.1" y2="378.9" stroke="#2e9a35" stroke-width="1.5"/>
<line x1="253.3" y1="361.4" x2="273.1" y2="361.4" stroke="#2e9a35" stroke-width="1.5"/>
<line x1="277.7" y1="377.4" x2="298.0" y2="377.4" stroke="#2e9a35" stroke-width="1.5"/>
<line x1="277.0" y1="364.2" x2="297.8" y2="364.2" stroke="#2e9a35" stroke-width="1.5"/>
<line x1="302.5" y1="394.2" x2="322.6" y2="394.2" stroke="#2e9a35" stroke-width="1.5"/>
<line x1="327.4" y1="374.2" x2="347.4" y2="374.2" stroke="#2e9a35" stroke-width="1.5"/>
<line x1="351.5" y1="388.6" x2="371.9" y2="388.6" stroke="#2e9a35" stroke-width="1.5"/>
<line x1="376.5" y1="403.6" x2="396.9" y2="403.6" stroke="#2e9a35" stroke-width="1.5"/>
<line x1="425.6" y1="401.3" x2="445.9" y2="401.3" stroke="#2e9a35" stroke-width="1.5"/>
<line x1="450.6" y1="411.1" x2="470.9" y2="411.1" stroke="#2e9a35" stroke-width="1.5"/>
<line x1="499.7" y1="410.6" x2="519.5" y2="410.6" stroke="#2e9a35" stroke-width="1.5"/>
<path d="M75.80,333.50 C79.40,329.87 82.76,321.40 87.80,321.40 C95.15,321.40 100.05,347.58 105.30,358.80" fill="none" stroke="#c83a48" stroke-width="1.0"/>
<path d="M150.20,373.40 C154.79,350.78 159.07,298.00 165.50,298.00 C171.21,298.00 175.02,327.33 179.10,339.90" fill="none" stroke="#a4d2e8" stroke-width="0.9"/>
<path d="M174.80,391.40 C180.20,380.03 185.24,353.50 192.80,353.50 C197.55,353.50 200.71,357.35 204.10,359.00" fill="none" stroke="#2e9a35" stroke-width="1.0"/>
<path d="M224.20,359.00 C228.28,353.00 232.09,339.00 237.80,339.00 C244.31,339.00 248.65,354.68 253.30,361.40" fill="none" stroke="#2e9a35" stroke-width="1.0"/>
<path d="M248.10,378.90 C253.17,373.59 257.90,361.20 265.00,361.20 C270.04,361.20 273.40,363.30 277.00,364.20" fill="none" stroke="#2e9a35" stroke-width="1.0"/>
<path d="M297.80,364.20 C302.09,355.77 306.09,336.10 312.10,336.10 C318.53,336.10 322.81,362.77 327.40,374.20" fill="none" stroke="#2e9a35" stroke-width="1.0"/>
<path d="M322.60,394.20 C327.40,389.94 331.88,380.00 338.60,380.00 C344.02,380.00 347.63,386.02 351.50,388.60" fill="none" stroke="#2e9a35" stroke-width="1.0"/>
<path d="M396.90,403.60 C401.31,398.68 405.43,387.20 411.60,387.20 C417.48,387.20 421.40,397.07 425.60,401.30" fill="none" stroke="#2e9a35" stroke-width="1.0"/>
<path d="M470.90,411.10 C475.13,406.60 479.08,396.10 485.00,396.10 C491.17,396.10 495.29,406.25 499.70,410.60" fill="none" stroke="#2e9a35" stroke-width="1.0"/>
<path d="M51.4,349.5 Q53,340 55.7,334" fill="none" stroke="#c83a48" stroke-width="0.9" stroke-dasharray="1.6,1.2"/>
<path d="M125.3,358.8 Q127,367 129.8,373" fill="none" stroke="#c83a48" stroke-width="0.9" stroke-dasharray="1.6,1.2"/>
<path d="M150.2,373.4 L154.2,318.4" fill="none" stroke="#1d5c96" stroke-width="0.9" stroke-dasharray="1.6,1.2"/>
<path d="M150.2,373.4 Q152,384 155,391.4" fill="none" stroke="#2e9a35" stroke-width="0.9" stroke-dasharray="1.6,1.2"/>
<path d="M224.2,359 Q226,370 228.2,378.9" fill="none" stroke="#2e9a35" stroke-width="0.9" stroke-dasharray="1.6,1.2"/>
<path d="M273.1,361.4 Q275.5,370 277.7,377.4" fill="none" stroke="#2e9a35" stroke-width="0.9" stroke-dasharray="1.6,1.2"/>
<path d="M298,377.4 Q300,387 302.5,394.2" fill="none" stroke="#2e9a35" stroke-width="0.9" stroke-dasharray="1.6,1.2"/>
<path d="M347.4,374.2 Q349.5,382 351.5,388.6" fill="none" stroke="#2e9a35" stroke-width="0.9" stroke-dasharray="1.6,1.2"/>
<path d="M371.9,388.6 Q374,397 376.5,403.6" fill="none" stroke="#2e9a35" stroke-width="0.9" stroke-dasharray="1.6,1.2"/>
<path d="M445.9,401.3 Q448,407 450.6,411.1" fill="none" stroke="#2e9a35" stroke-width="0.9" stroke-dasharray="1.6,1.2"/>
<path d="M44.1,326.6 Q46.0,335.0 50.7,339.3" fill="none" stroke="#c83a48" stroke-width="0.9" stroke-dasharray="1.6,1.2"/>
<path d="M52.50,341.00 L48.48,339.46 L50.65,337.11 Z" fill="#c83a48"/>
<path d="M127.7,364.1 Q133.0,357.0 137.4,351.9" fill="none" stroke="#c83a48" stroke-width="0.9" stroke-dasharray="1.6,1.2"/>
<path d="M139.00,350.00 L137.61,354.08 L135.18,352.00 Z" fill="#c83a48"/>
<path d="M116.5,381.8 Q118.0,372.0 126.1,370.2" fill="none" stroke="#c83a48" stroke-width="0.9" stroke-dasharray="1.6,1.2"/>
<path d="M128.50,369.70 L124.94,372.12 L124.25,368.99 Z" fill="#c83a48"/>
<path d="M138.2,399.4 Q141.0,389.0 147.0,387.3" fill="none" stroke="#2e9a35" stroke-width="0.9" stroke-dasharray="1.6,1.2"/>
<path d="M149.40,386.60 L145.99,389.24 L145.11,386.16 Z" fill="#2e9a35"/>
<path d="M214.9,380.5 Q217.0,371.0 223.7,369.5" fill="none" stroke="#2e9a35" stroke-width="0.9" stroke-dasharray="1.6,1.2"/>
<path d="M226.10,369.00 L222.54,371.42 L221.85,368.30 Z" fill="#2e9a35"/>
<path d="M279.0,362.5 Q281.5,356.0 283.2,351.9" fill="none" stroke="#2e9a35" stroke-width="0.9" stroke-dasharray="1.6,1.2"/>
<path d="M284.10,349.60 L284.08,353.91 L281.11,352.70 Z" fill="#2e9a35"/>
<path d="M268.0,385.4 Q270.0,376.0 274.6,373.7" fill="none" stroke="#2e9a35" stroke-width="0.9" stroke-dasharray="1.6,1.2"/>
<path d="M276.80,372.60 L273.94,375.82 L272.51,372.96 Z" fill="#2e9a35"/>
<path d="M288.0,402.6 Q291.0,392.0 298.5,390.3" fill="none" stroke="#2e9a35" stroke-width="0.9" stroke-dasharray="1.6,1.2"/>
<path d="M300.90,389.70 L297.37,392.16 L296.64,389.05 Z" fill="#2e9a35"/>
<path d="M353.9,376.0 Q357.5,368.0 360.0,363.0" fill="none" stroke="#2e9a35" stroke-width="0.9" stroke-dasharray="1.6,1.2"/>
<path d="M361.10,360.80 L360.74,365.09 L357.88,363.66 Z" fill="#2e9a35"/>
<path d="M341.8,394.5 Q343.0,386.0 345.3,384.6" fill="none" stroke="#2e9a35" stroke-width="0.9" stroke-dasharray="1.6,1.2"/>
<path d="M347.40,383.30 L344.83,386.76 L343.15,384.03 Z" fill="#2e9a35"/>
<path d="M364.3,413.0 Q366.0,404.0 372.3,402.6" fill="none" stroke="#2e9a35" stroke-width="0.9" stroke-dasharray="1.6,1.2"/>
<path d="M374.70,402.10 L371.13,404.52 L370.45,401.39 Z" fill="#2e9a35"/>
<path d="M437.8,423.5 Q440.0,413.0 445.9,411.3" fill="none" stroke="#2e9a35" stroke-width="0.9" stroke-dasharray="1.6,1.2"/>
<path d="M448.30,410.60 L444.90,413.25 L444.01,410.17 Z" fill="#2e9a35"/>
<line x1="264.1" y1="374.4" x2="254.2" y2="392.8" stroke="#222" stroke-width="0.7"/>
<path d="M253.00,395.00 L253.46,391.61 L255.57,392.75 Z" fill="#222"/>
<line x1="337.5" y1="383.8" x2="326.6" y2="403.8" stroke="#222" stroke-width="0.7"/>
<path d="M325.40,406.00 L325.88,402.62 L327.99,403.76 Z" fill="#222"/>
<text x="42.0" y="348.2" fill="#111" font-size="7.4" text-anchor="middle" font-weight="normal" stroke="#111" stroke-width="0.15">1</text>
<text x="65.0" y="332.2" fill="#111" font-size="7.4" text-anchor="middle" font-weight="normal" stroke="#111" stroke-width="0.15">2</text>
<text x="115.0" y="356.7" fill="#111" font-size="7.4" text-anchor="middle" font-weight="normal" stroke="#111" stroke-width="0.15">3</text>
<text x="140.1" y="371.6" fill="#111" font-size="7.4" text-anchor="middle" font-weight="normal" stroke="#111" stroke-width="0.15">4</text>
<text x="164.2" y="389.7" fill="#111" font-size="7.4" text-anchor="middle" font-weight="normal" stroke="#111" stroke-width="0.15">5</text>
<text x="189.9" y="338.1" fill="#111" font-size="7.4" text-anchor="middle" font-weight="normal" stroke="#111" stroke-width="0.15">6</text>
<text x="214.5" y="356.9" fill="#111" font-size="7.4" text-anchor="middle" font-weight="normal" stroke="#111" stroke-width="0.15">7</text>
<text x="239.8" y="378.1" fill="#111" font-size="7.4" text-anchor="middle" font-weight="normal" stroke="#111" stroke-width="0.15">8</text>
<text x="265.9" y="358.5" fill="#111" font-size="7.4" text-anchor="middle" font-weight="normal" stroke="#111" stroke-width="0.15">9</text>
<text x="292.8" y="377.6" fill="#111" font-size="7.4" text-anchor="middle" font-weight="normal" stroke="#111" stroke-width="0.15">10</text>
<text x="290.4" y="362.7" fill="#111" font-size="7.4" text-anchor="middle" font-weight="normal" stroke="#111" stroke-width="0.15">11</text>
<text x="312.9" y="392.9" fill="#111" font-size="7.4" text-anchor="middle" font-weight="normal" stroke="#111" stroke-width="0.15">12</text>
<text x="338.6" y="362.1" fill="#111" font-size="7.4" text-anchor="middle" font-weight="normal" stroke="#111" stroke-width="0.15">13</text>
<text x="362.7" y="387.6" fill="#111" font-size="7.4" text-anchor="middle" font-weight="normal" stroke="#111" stroke-width="0.15">14</text>
<text x="387.5" y="401.6" fill="#111" font-size="7.4" text-anchor="middle" font-weight="normal" stroke="#111" stroke-width="0.15">15</text>
<text x="435.0" y="400.0" fill="#111" font-size="7.4" text-anchor="middle" font-weight="normal" stroke="#111" stroke-width="0.15">16</text>
<text x="461.8" y="408.6" fill="#111" font-size="7.4" text-anchor="middle" font-weight="normal" stroke="#111" stroke-width="0.15">17</text>
<text x="41.2" y="358.1" fill="#c83a48" font-size="7.2" text-anchor="middle" font-weight="normal" stroke="#c83a48" stroke-width="0.15">slab</text>
<text x="65.3" y="342.8" fill="#c83a48" font-size="7.2" text-anchor="middle" font-weight="normal" stroke="#c83a48" stroke-width="0.15">CO<tspan font-size="64%" baseline-shift="-1.7">2</tspan><tspan font-size="68%" baseline-shift="2.3">*</tspan></text>
<text x="45.3" y="320.8" fill="#c83a48" font-size="7.2" text-anchor="middle" font-weight="normal" stroke="#c83a48" stroke-width="0.15">CO<tspan font-size="64%" baseline-shift="-1.7">2</tspan> (g)</text>
<text x="87.0" y="310.7" fill="#c83a48" font-size="7.2" text-anchor="middle" font-weight="normal" stroke="#c83a48" stroke-width="0.15">TS-1</text>
<text x="87.0" y="319.9" fill="#c83a48" font-size="7.2" text-anchor="middle" font-weight="normal" stroke="#c83a48" stroke-width="0.15">0.42 eV</text>
<text x="110.9" y="367.0" fill="#c83a48" font-size="7.2" text-anchor="middle" font-weight="normal" stroke="#c83a48" stroke-width="0.15">CO<tspan font-size="68%" baseline-shift="2.3">*</tspan>+O<tspan font-size="68%" baseline-shift="2.3">*</tspan></text>
<text x="136.6" y="346.4" fill="#c83a48" font-size="7.2" text-anchor="middle" font-weight="normal" stroke="#c83a48" stroke-width="0.15">H<tspan font-size="64%" baseline-shift="-1.7">2</tspan>O (g)</text>
<text x="115.7" y="387.6" fill="#c83a48" font-size="7.2" text-anchor="middle" font-weight="normal" stroke="#c83a48" stroke-width="0.15">H<tspan font-size="64%" baseline-shift="-1.7">2</tspan> (g)</text>
<text x="138.2" y="381.1" fill="#c83a48" font-size="7.2" text-anchor="middle" font-weight="normal" stroke="#c83a48" stroke-width="0.15">CO<tspan font-size="68%" baseline-shift="2.3">*</tspan></text>
<text x="146.2" y="299.5" fill="#a6d4e8" font-size="7.2" text-anchor="middle" font-weight="normal" stroke="#a6d4e8" stroke-width="0">TS-2</text>
<text x="145.9" y="309.1" fill="#a6d4e8" font-size="7.2" text-anchor="middle" font-weight="normal" stroke="#a6d4e8" stroke-width="0">2.72 eV</text>
<text x="166.8" y="326.8" fill="#1d5c96" font-size="7.2" text-anchor="middle" font-weight="normal" stroke="#1d5c96" stroke-width="0.15">CO (g)</text>
<text x="189.6" y="346.8" fill="#a6d4e8" font-size="7.2" text-anchor="middle" font-weight="normal" stroke="#a6d4e8" stroke-width="0">C<tspan font-size="68%" baseline-shift="2.3">*</tspan>+O<tspan font-size="68%" baseline-shift="2.3">*</tspan></text>
<text x="168.7" y="358.2" fill="#2e9a35" font-size="7.2" text-anchor="middle" font-weight="normal" stroke="#2e9a35" stroke-width="0.15">TS-3</text>
<text x="168.7" y="367.5" fill="#2e9a35" font-size="7.2" text-anchor="middle" font-weight="normal" stroke="#2e9a35" stroke-width="0.15">1.32 eV</text>
<text x="165.5" y="399.6" fill="#2e9a35" font-size="7.2" text-anchor="middle" font-weight="normal" stroke="#2e9a35" stroke-width="0.15">CO<tspan font-size="68%" baseline-shift="2.3">*</tspan>+H<tspan font-size="68%" baseline-shift="2.3">*</tspan></text>
<text x="137.9" y="407.6" fill="#2e9a35" font-size="7.2" text-anchor="middle" font-weight="normal" stroke="#2e9a35" stroke-width="0.15">1/2 H<tspan font-size="64%" baseline-shift="-1.7">2</tspan> (g)</text>
<text x="212.9" y="367.3" fill="#2e9a35" font-size="7.2" text-anchor="middle" font-weight="normal" stroke="#2e9a35" stroke-width="0.15">HCO<tspan font-size="68%" baseline-shift="2.3">*</tspan></text>
<text x="237.8" y="326.0" fill="#2e9a35" font-size="7.2" text-anchor="middle" font-weight="normal" stroke="#2e9a35" stroke-width="0.15">TS-4</text>
<text x="237.8" y="335.2" fill="#2e9a35" font-size="7.2" text-anchor="middle" font-weight="normal" stroke="#2e9a35" stroke-width="0.15">0.73 eV</text>
<text x="206.9" y="389.9" fill="#2e9a35" font-size="7.2" text-anchor="middle" font-weight="normal" stroke="#2e9a35" stroke-width="0.15">1/2 H<tspan font-size="64%" baseline-shift="-1.7">2</tspan> (g)</text>
<text x="241.1" y="387.1" fill="#2e9a35" font-size="7.2" text-anchor="middle" font-weight="normal" stroke="#2e9a35" stroke-width="0.15">HCO<tspan font-size="68%" baseline-shift="2.3">*</tspan>+H<tspan font-size="68%" baseline-shift="2.3">*</tspan></text>
<text x="241.4" y="404.3" fill="#2e9a35" font-size="7.2" text-anchor="middle" font-weight="normal" stroke="#2e9a35" stroke-width="0.15">TS-5</text>
<text x="241.4" y="413.6" fill="#2e9a35" font-size="7.2" text-anchor="middle" font-weight="normal" stroke="#2e9a35" stroke-width="0.15">0.60 eV</text>
<text x="266.7" y="354.4" fill="#2e9a35" font-size="7.2" text-anchor="middle" font-weight="normal" stroke="#2e9a35" stroke-width="0.15">CH<tspan font-size="68%" baseline-shift="2.3">*</tspan>+O<tspan font-size="68%" baseline-shift="2.3">*</tspan></text>
<text x="267.9" y="390.8" fill="#2e9a35" font-size="7.2" text-anchor="middle" font-weight="normal" stroke="#2e9a35" stroke-width="0.15">H<tspan font-size="64%" baseline-shift="-1.7">2</tspan> (g)</text>
<text x="288.8" y="341.9" fill="#2e9a35" font-size="7.2" text-anchor="middle" font-weight="normal" stroke="#2e9a35" stroke-width="0.15">H<tspan font-size="64%" baseline-shift="-1.7">2</tspan>O (g)</text>
<text x="288.0" y="371.1" fill="#2e9a35" font-size="7.2" text-anchor="middle" font-weight="normal" stroke="#2e9a35" stroke-width="0.15">H<tspan font-size="64%" baseline-shift="-1.7">2</tspan>CO<tspan font-size="68%" baseline-shift="2.3">*</tspan></text>
<text x="287.2" y="386.3" fill="#2e9a35" font-size="7.2" text-anchor="middle" font-weight="normal" stroke="#2e9a35" stroke-width="0.15">CH<tspan font-size="68%" baseline-shift="2.3">*</tspan></text>
<text x="315.7" y="323.5" fill="#2e9a35" font-size="7.2" text-anchor="middle" font-weight="normal" stroke="#2e9a35" stroke-width="0.15">TS-6</text>
<text x="315.7" y="332.3" fill="#2e9a35" font-size="7.2" text-anchor="middle" font-weight="normal" stroke="#2e9a35" stroke-width="0.15">1.02 eV</text>
<text x="285.6" y="412.0" fill="#2e9a35" font-size="7.2" text-anchor="middle" font-weight="normal" stroke="#2e9a35" stroke-width="0.15">1/2 H<tspan font-size="64%" baseline-shift="-1.7">2</tspan> (g)</text>
<text x="312.1" y="401.6" fill="#2e9a35" font-size="7.2" text-anchor="middle" font-weight="normal" stroke="#2e9a35" stroke-width="0.15">CH<tspan font-size="68%" baseline-shift="2.3">*</tspan>+H<tspan font-size="68%" baseline-shift="2.3">*</tspan></text>
<text x="315.7" y="418.0" fill="#2e9a35" font-size="7.2" text-anchor="middle" font-weight="normal" stroke="#2e9a35" stroke-width="0.15">TS-7</text>
<text x="315.7" y="426.8" fill="#2e9a35" font-size="7.2" text-anchor="middle" font-weight="normal" stroke="#2e9a35" stroke-width="0.15">0.51 eV</text>
<text x="341.8" y="371.3" fill="#2e9a35" font-size="7.2" text-anchor="middle" font-weight="normal" stroke="#2e9a35" stroke-width="0.15">CH<tspan font-size="64%" baseline-shift="-1.7">2</tspan><tspan font-size="68%" baseline-shift="2.3">*</tspan>+O<tspan font-size="68%" baseline-shift="2.3">*</tspan></text>
<text x="361.9" y="357.2" fill="#2e9a35" font-size="7.2" text-anchor="middle" font-weight="normal" stroke="#2e9a35" stroke-width="0.15">H<tspan font-size="64%" baseline-shift="-1.7">2</tspan>O (g)</text>
<text x="341.0" y="401.1" fill="#2e9a35" font-size="7.2" text-anchor="middle" font-weight="normal" stroke="#2e9a35" stroke-width="0.15">H<tspan font-size="64%" baseline-shift="-1.7">2</tspan> (g)</text>
<text x="361.9" y="396.6" fill="#2e9a35" font-size="7.2" text-anchor="middle" font-weight="normal" stroke="#2e9a35" stroke-width="0.15">CH<tspan font-size="64%" baseline-shift="-1.7">2</tspan><tspan font-size="68%" baseline-shift="2.3">*</tspan></text>
<text x="357.9" y="422.3" fill="#2e9a35" font-size="7.2" text-anchor="middle" font-weight="normal" stroke="#2e9a35" stroke-width="0.15">1/2 H<tspan font-size="64%" baseline-shift="-1.7">2</tspan> (g)</text>
<text x="389.9" y="413.2" fill="#2e9a35" font-size="7.2" text-anchor="middle" font-weight="normal" stroke="#2e9a35" stroke-width="0.15">CH<tspan font-size="64%" baseline-shift="-1.7">2</tspan><tspan font-size="68%" baseline-shift="2.3">*</tspan>+H<tspan font-size="68%" baseline-shift="2.3">*</tspan></text>
<text x="410.2" y="375.4" fill="#2e9a35" font-size="7.2" text-anchor="middle" font-weight="normal" stroke="#2e9a35" stroke-width="0.15">TS-8</text>
<text x="410.2" y="384.0" fill="#2e9a35" font-size="7.2" text-anchor="middle" font-weight="normal" stroke="#2e9a35" stroke-width="0.15">0.59 eV</text>
<text x="435.4" y="409.2" fill="#2e9a35" font-size="7.2" text-anchor="middle" font-weight="normal" stroke="#2e9a35" stroke-width="0.15">CH<tspan font-size="64%" baseline-shift="-1.7">3</tspan><tspan font-size="68%" baseline-shift="2.3">*</tspan></text>
<text x="434.3" y="428.9" fill="#2e9a35" font-size="7.2" text-anchor="middle" font-weight="normal" stroke="#2e9a35" stroke-width="0.15">1/2 H<tspan font-size="64%" baseline-shift="-1.7">2</tspan> (g)</text>
<text x="461.1" y="419.5" fill="#2e9a35" font-size="7.2" text-anchor="middle" font-weight="normal" stroke="#2e9a35" stroke-width="0.15">CH<tspan font-size="64%" baseline-shift="-1.7">3</tspan><tspan font-size="68%" baseline-shift="2.3">*</tspan>+H<tspan font-size="68%" baseline-shift="2.3">*</tspan></text>
<text x="484.5" y="383.5" fill="#2e9a35" font-size="7.2" text-anchor="middle" font-weight="normal" stroke="#2e9a35" stroke-width="0.15">TS-9</text>
<text x="484.5" y="392.6" fill="#2e9a35" font-size="7.2" text-anchor="middle" font-weight="normal" stroke="#2e9a35" stroke-width="0.15">0.51 eV</text>
<text x="509.0" y="419.5" fill="#2e9a35" font-size="7.2" text-anchor="middle" font-weight="normal" stroke="#2e9a35" stroke-width="0.15">CH<tspan font-size="64%" baseline-shift="-1.7">4</tspan><tspan font-size="68%" baseline-shift="2.3">*</tspan></text>
<line x1="431.4" y1="307.5" x2="440.5" y2="307.5" stroke="#c9868e" stroke-width="1.2"/>
<text x="446.3" y="310.0" fill="#222" font-size="7.15" text-anchor="start" font-weight="normal" >CO<tspan font-size="65%">2</tspan> activation</text>
<line x1="431.4" y1="316.5" x2="440.5" y2="316.5" stroke="#2a64a8" stroke-width="1.2"/>
<text x="446.3" y="319.0" fill="#222" font-size="7.15" text-anchor="start" font-weight="normal" >CO formation</text>
<line x1="431.4" y1="324.5" x2="440.5" y2="324.5" stroke="#a8dcec" stroke-width="1.2"/>
<text x="446.3" y="327.0" fill="#222" font-size="7.15" text-anchor="start" font-weight="normal" >CO dissociation</text>
<line x1="431.4" y1="332.5" x2="440.5" y2="332.5" stroke="#2e7d32" stroke-width="1.2"/>
<text x="446.3" y="335.0" fill="#222" font-size="7.15" text-anchor="start" font-weight="normal" >CH<tspan font-size="65%">4</tspan> formation</text>
<circle cx="42.2" cy="420.1" r="3.9" fill="url(#L_au)"/>
<text x="42.2" y="421.4" fill="#222" font-size="3.6" text-anchor="middle" font-weight="bold" >Au</text>
<circle cx="58.8" cy="420.1" r="3.9" fill="url(#L_ni)"/>
<text x="58.8" y="421.4" fill="#fff" font-size="3.6" text-anchor="middle" font-weight="bold" >Ni</text>
<circle cx="75.4" cy="420.1" r="3.9" fill="url(#L_c)"/>
<text x="75.4" y="421.4" fill="#fff" font-size="3.6" text-anchor="middle" font-weight="bold" >C</text>
<circle cx="92.0" cy="420.1" r="3.9" fill="url(#L_o)"/>
<text x="92.0" y="421.4" fill="#fff" font-size="3.6" text-anchor="middle" font-weight="bold" >O</text>
<circle cx="108.6" cy="420.1" r="3.9" fill="url(#L_h)"/>
<text x="108.6" y="421.4" fill="#222" font-size="3.6" text-anchor="middle" font-weight="bold" >H</text>
<clipPath id="cl18"><rect x="34.3" y="438.9" width="52.4" height="34.9"/></clipPath>
<g clip-path="url(#cl18)">
<line x1="34.3" y1="446.9" x2="86.7" y2="446.9" stroke="#6e87c2" stroke-width="1.4"/>
<line x1="34.3" y1="454.5" x2="86.7" y2="454.5" stroke="#6e87c2" stroke-width="1.3"/>
<line x1="34.3" y1="456.4" x2="86.7" y2="456.4" stroke="#6e87c2" stroke-width="1.3"/>
<line x1="34.3" y1="462.6" x2="86.7" y2="462.6" stroke="#6e87c2" stroke-width="1.0"/>
<line x1="34.3" y1="474.0" x2="86.7" y2="474.0" stroke="#6e87c2" stroke-width="1.4"/>
<path d="M25.3,446.9 L35.4,455.4 L45.6,446.9 M25.3,446.9 L25.3,461.8 M15.1,455.4 L25.3,461.8 L35.4,455.4 M25.3,461.8 L35.4,466.6 M25.3,461.8 L15.1,466.6 M35.4,466.6 L25.3,474.0 L15.1,466.6 M25.3,446.9 L40.5,461.8 M25.3,446.9 L10.1,461.8 M45.6,446.9 L55.7,455.4 L65.9,446.9 M45.6,446.9 L45.6,461.8 M35.4,455.4 L45.6,461.8 L55.7,455.4 M45.6,461.8 L55.7,466.6 M45.6,461.8 L35.4,466.6 M55.7,466.6 L45.6,474.0 L35.4,466.6 M45.6,446.9 L60.8,461.8 M45.6,446.9 L30.4,461.8 M65.9,446.9 L76.0,455.4 L86.2,446.9 M65.9,446.9 L65.9,461.8 M55.7,455.4 L65.9,461.8 L76.0,455.4 M65.9,461.8 L76.0,466.6 M65.9,461.8 L55.7,466.6 M76.0,466.6 L65.9,474.0 L55.7,466.6 M65.9,446.9 L81.1,461.8 M65.9,446.9 L50.7,461.8 M86.2,446.9 L96.3,455.4 L106.5,446.9 M86.2,446.9 L86.2,461.8 M76.0,455.4 L86.2,461.8 L96.3,455.4 M86.2,461.8 L96.3,466.6 M86.2,461.8 L76.0,466.6 M96.3,466.6 L86.2,474.0 L76.0,466.6 M86.2,446.9 L101.4,461.8 M86.2,446.9 L71.0,461.8 M106.5,446.9 L116.7,455.4 L126.8,446.9 M106.5,446.9 L106.5,461.8 M96.3,455.4 L106.5,461.8 L116.7,455.4 M106.5,461.8 L116.7,466.6 M106.5,461.8 L96.3,466.6 M116.7,466.6 L106.5,474.0 L96.3,466.6 M106.5,446.9 L121.7,461.8 M106.5,446.9 L91.3,461.8 " stroke="#6e87c2" stroke-width="1.4" fill="none"/>
<line x1="34.3" y1="466.9" x2="86.7" y2="466.9" stroke="#e2b522" stroke-width="1.2"/>
<line x1="25.3" y1="471.2" x2="25.3" y2="474.0" stroke="#e2b522" stroke-width="1.3"/>
<line x1="45.6" y1="471.2" x2="45.6" y2="474.0" stroke="#e2b522" stroke-width="1.3"/>
<line x1="65.9" y1="471.2" x2="65.9" y2="474.0" stroke="#e2b522" stroke-width="1.3"/>
<line x1="86.2" y1="471.2" x2="86.2" y2="474.0" stroke="#e2b522" stroke-width="1.3"/>
<line x1="106.5" y1="471.2" x2="106.5" y2="474.0" stroke="#e2b522" stroke-width="1.3"/>
<circle cx="35.4" cy="475.6" r="3.0" fill="url(#g_ni)"/>
<circle cx="55.7" cy="475.6" r="3.0" fill="url(#g_ni)"/>
<circle cx="76.0" cy="475.6" r="3.0" fill="url(#g_ni)"/>
<circle cx="96.3" cy="475.6" r="3.0" fill="url(#g_ni)"/>
<circle cx="116.7" cy="475.6" r="3.0" fill="url(#g_ni)"/>
<circle cx="35.4" cy="455.4" r="3.6" fill="url(#g_ni)"/>
<circle cx="55.7" cy="455.4" r="3.6" fill="url(#g_ni)"/>
<circle cx="76.0" cy="455.4" r="3.6" fill="url(#g_ni)"/>
<circle cx="96.3" cy="455.4" r="3.6" fill="url(#g_ni)"/>
<circle cx="116.7" cy="455.4" r="3.6" fill="url(#g_ni)"/>
<circle cx="25.3" cy="461.8" r="3.7" fill="url(#g_ni)"/>
<circle cx="45.6" cy="461.8" r="3.7" fill="url(#g_ni)"/>
<circle cx="65.9" cy="461.8" r="3.7" fill="url(#g_ni)"/>
<circle cx="86.2" cy="461.8" r="3.7" fill="url(#g_ni)"/>
<circle cx="106.5" cy="461.8" r="3.7" fill="url(#g_ni)"/>
<circle cx="35.4" cy="466.6" r="3.4" fill="url(#g_au)"/>
<circle cx="55.7" cy="466.6" r="3.4" fill="url(#g_au)"/>
<circle cx="76.0" cy="466.6" r="3.4" fill="url(#g_au)"/>
<circle cx="96.3" cy="466.6" r="3.4" fill="url(#g_au)"/>
<circle cx="116.7" cy="466.6" r="3.4" fill="url(#g_au)"/>
<circle cx="25.3" cy="446.9" r="3.9" fill="url(#g_ni)"/>
<circle cx="45.6" cy="446.9" r="3.9" fill="url(#g_ni)"/>
<circle cx="65.9" cy="446.9" r="3.9" fill="url(#g_ni)"/>
<circle cx="86.2" cy="446.9" r="3.9" fill="url(#g_ni)"/>
<circle cx="106.5" cy="446.9" r="3.9" fill="url(#g_ni)"/>
</g>
<rect x="34.3" y="438.9" width="7.2" height="6.4" fill="#767271"/>
<text x="37.9" y="443.8" fill="#fff" font-size="5.0" text-anchor="middle" font-weight="normal" >1</text>
<clipPath id="cl19"><rect x="91.2" y="438.9" width="52.4" height="34.9"/></clipPath>
<g clip-path="url(#cl19)">
<line x1="91.2" y1="446.9" x2="143.6" y2="446.9" stroke="#6e87c2" stroke-width="1.4"/>
<line x1="91.2" y1="454.5" x2="143.6" y2="454.5" stroke="#6e87c2" stroke-width="1.3"/>
<line x1="91.2" y1="456.4" x2="143.6" y2="456.4" stroke="#6e87c2" stroke-width="1.3"/>
<line x1="91.2" y1="462.6" x2="143.6" y2="462.6" stroke="#6e87c2" stroke-width="1.0"/>
<line x1="91.2" y1="474.0" x2="143.6" y2="474.0" stroke="#6e87c2" stroke-width="1.4"/>
<path d="M82.2,446.9 L92.3,455.4 L102.5,446.9 M82.2,446.9 L82.2,461.8 M72.0,455.4 L82.2,461.8 L92.3,455.4 M82.2,461.8 L92.3,466.6 M82.2,461.8 L72.0,466.6 M92.3,466.6 L82.2,474.0 L72.0,466.6 M82.2,446.9 L97.4,461.8 M82.2,446.9 L66.9,461.8 M102.5,446.9 L112.6,455.4 L122.8,446.9 M102.5,446.9 L102.5,461.8 M92.3,455.4 L102.5,461.8 L112.6,455.4 M102.5,461.8 L112.6,466.6 M102.5,461.8 L92.3,466.6 M112.6,466.6 L102.5,474.0 L92.3,466.6 M102.5,446.9 L117.7,461.8 M102.5,446.9 L87.2,461.8 M122.8,446.9 L132.9,455.4 L143.1,446.9 M122.8,446.9 L122.8,461.8 M112.6,455.4 L122.8,461.8 L132.9,455.4 M122.8,461.8 L132.9,466.6 M122.8,461.8 L112.6,466.6 M132.9,466.6 L122.8,474.0 L112.6,466.6 M122.8,446.9 L138.0,461.8 M122.8,446.9 L107.5,461.8 M143.1,446.9 L153.2,455.4 L163.4,446.9 M143.1,446.9 L143.1,461.8 M132.9,455.4 L143.1,461.8 L153.2,455.4 M143.1,461.8 L153.2,466.6 M143.1,461.8 L132.9,466.6 M153.2,466.6 L143.1,474.0 L132.9,466.6 M143.1,446.9 L158.3,461.8 M143.1,446.9 L127.8,461.8 M163.4,446.9 L173.5,455.4 L183.7,446.9 M163.4,446.9 L163.4,461.8 M153.2,455.4 L163.4,461.8 L173.5,455.4 M163.4,461.8 L173.5,466.6 M163.4,461.8 L153.2,466.6 M173.5,466.6 L163.4,474.0 L153.2,466.6 M163.4,446.9 L178.6,461.8 M163.4,446.9 L148.1,461.8 " stroke="#6e87c2" stroke-width="1.4" fill="none"/>
<line x1="91.2" y1="466.9" x2="143.6" y2="466.9" stroke="#e2b522" stroke-width="1.2"/>
<line x1="82.2" y1="471.2" x2="82.2" y2="474.0" stroke="#e2b522" stroke-width="1.3"/>
<line x1="102.5" y1="471.2" x2="102.5" y2="474.0" stroke="#e2b522" stroke-width="1.3"/>
<line x1="122.8" y1="471.2" x2="122.8" y2="474.0" stroke="#e2b522" stroke-width="1.3"/>
<line x1="143.1" y1="471.2" x2="143.1" y2="474.0" stroke="#e2b522" stroke-width="1.3"/>
<line x1="163.4" y1="471.2" x2="163.4" y2="474.0" stroke="#e2b522" stroke-width="1.3"/>
<circle cx="92.3" cy="475.6" r="3.0" fill="url(#g_ni)"/>
<circle cx="112.6" cy="475.6" r="3.0" fill="url(#g_ni)"/>
<circle cx="132.9" cy="475.6" r="3.0" fill="url(#g_ni)"/>
<circle cx="153.2" cy="475.6" r="3.0" fill="url(#g_ni)"/>
<circle cx="173.5" cy="475.6" r="3.0" fill="url(#g_ni)"/>
<circle cx="92.3" cy="455.4" r="3.6" fill="url(#g_ni)"/>
<circle cx="112.6" cy="455.4" r="3.6" fill="url(#g_ni)"/>
<circle cx="132.9" cy="455.4" r="3.6" fill="url(#g_ni)"/>
<circle cx="153.2" cy="455.4" r="3.6" fill="url(#g_ni)"/>
<circle cx="173.5" cy="455.4" r="3.6" fill="url(#g_ni)"/>
<circle cx="82.2" cy="461.8" r="3.7" fill="url(#g_ni)"/>
<circle cx="102.5" cy="461.8" r="3.7" fill="url(#g_ni)"/>
<circle cx="122.8" cy="461.8" r="3.7" fill="url(#g_ni)"/>
<circle cx="143.1" cy="461.8" r="3.7" fill="url(#g_ni)"/>
<circle cx="163.4" cy="461.8" r="3.7" fill="url(#g_ni)"/>
<circle cx="92.3" cy="466.6" r="3.4" fill="url(#g_au)"/>
<circle cx="112.6" cy="466.6" r="3.4" fill="url(#g_au)"/>
<circle cx="132.9" cy="466.6" r="3.4" fill="url(#g_au)"/>
<circle cx="153.2" cy="466.6" r="3.4" fill="url(#g_au)"/>
<circle cx="173.5" cy="466.6" r="3.4" fill="url(#g_au)"/>
<circle cx="82.2" cy="446.9" r="3.9" fill="url(#g_ni)"/>
<circle cx="102.5" cy="446.9" r="3.9" fill="url(#g_ni)"/>
<circle cx="122.8" cy="446.9" r="3.9" fill="url(#g_ni)"/>
<circle cx="143.1" cy="446.9" r="3.9" fill="url(#g_ni)"/>
<circle cx="163.4" cy="446.9" r="3.9" fill="url(#g_ni)"/>
</g>
<rect x="91.2" y="438.9" width="7.2" height="6.4" fill="#767271"/>
<text x="94.8" y="443.8" fill="#fff" font-size="5.0" text-anchor="middle" font-weight="normal" >2</text>
<circle cx="101.2" cy="442.3" r="3.7" fill="url(#g_o)"/>
<circle cx="108.5" cy="447.9" r="3.5" fill="url(#g_c)"/>
<circle cx="117.6" cy="447.4" r="3.7" fill="url(#g_o)"/>
<clipPath id="cl20"><rect x="148.0" y="438.9" width="52.4" height="34.9"/></clipPath>
<g clip-path="url(#cl20)">
<line x1="148.0" y1="446.9" x2="200.4" y2="446.9" stroke="#6e87c2" stroke-width="1.4"/>
<line x1="148.0" y1="454.5" x2="200.4" y2="454.5" stroke="#6e87c2" stroke-width="1.3"/>
<line x1="148.0" y1="456.4" x2="200.4" y2="456.4" stroke="#6e87c2" stroke-width="1.3"/>
<line x1="148.0" y1="462.6" x2="200.4" y2="462.6" stroke="#6e87c2" stroke-width="1.0"/>
<line x1="148.0" y1="474.0" x2="200.4" y2="474.0" stroke="#6e87c2" stroke-width="1.4"/>
<path d="M139.0,446.9 L149.2,455.4 L159.3,446.9 M139.0,446.9 L139.0,461.8 M128.9,455.4 L139.0,461.8 L149.2,455.4 M139.0,461.8 L149.2,466.6 M139.0,461.8 L128.9,466.6 M149.2,466.6 L139.0,474.0 L128.9,466.6 M139.0,446.9 L154.2,461.8 M139.0,446.9 L123.8,461.8 M159.3,446.9 L169.5,455.4 L179.6,446.9 M159.3,446.9 L159.3,461.8 M149.2,455.4 L159.3,461.8 L169.5,455.4 M159.3,461.8 L169.5,466.6 M159.3,461.8 L149.2,466.6 M169.5,466.6 L159.3,474.0 L149.2,466.6 M159.3,446.9 L174.5,461.8 M159.3,446.9 L144.1,461.8 M179.6,446.9 L189.8,455.4 L199.9,446.9 M179.6,446.9 L179.6,461.8 M169.5,455.4 L179.6,461.8 L189.8,455.4 M179.6,461.8 L189.8,466.6 M179.6,461.8 L169.5,466.6 M189.8,466.6 L179.6,474.0 L169.5,466.6 M179.6,446.9 L194.8,461.8 M179.6,446.9 L164.4,461.8 M199.9,446.9 L210.1,455.4 L220.2,446.9 M199.9,446.9 L199.9,461.8 M189.8,455.4 L199.9,461.8 L210.1,455.4 M199.9,461.8 L210.1,466.6 M199.9,461.8 L189.8,466.6 M210.1,466.6 L199.9,474.0 L189.8,466.6 M199.9,446.9 L215.1,461.8 M199.9,446.9 L184.7,461.8 M220.2,446.9 L230.4,455.4 L240.5,446.9 M220.2,446.9 L220.2,461.8 M210.1,455.4 L220.2,461.8 L230.4,455.4 M220.2,461.8 L230.4,466.6 M220.2,461.8 L210.1,466.6 M230.4,466.6 L220.2,474.0 L210.1,466.6 M220.2,446.9 L235.4,461.8 M220.2,446.9 L205.0,461.8 " stroke="#6e87c2" stroke-width="1.4" fill="none"/>
<line x1="148.0" y1="466.9" x2="200.4" y2="466.9" stroke="#e2b522" stroke-width="1.2"/>
<line x1="139.0" y1="471.2" x2="139.0" y2="474.0" stroke="#e2b522" stroke-width="1.3"/>
<line x1="159.3" y1="471.2" x2="159.3" y2="474.0" stroke="#e2b522" stroke-width="1.3"/>
<line x1="179.6" y1="471.2" x2="179.6" y2="474.0" stroke="#e2b522" stroke-width="1.3"/>
<line x1="199.9" y1="471.2" x2="199.9" y2="474.0" stroke="#e2b522" stroke-width="1.3"/>
<line x1="220.2" y1="471.2" x2="220.2" y2="474.0" stroke="#e2b522" stroke-width="1.3"/>
<circle cx="149.2" cy="475.6" r="3.0" fill="url(#g_ni)"/>
<circle cx="169.5" cy="475.6" r="3.0" fill="url(#g_ni)"/>
<circle cx="189.8" cy="475.6" r="3.0" fill="url(#g_ni)"/>
<circle cx="210.1" cy="475.6" r="3.0" fill="url(#g_ni)"/>
<circle cx="230.4" cy="475.6" r="3.0" fill="url(#g_ni)"/>
<circle cx="149.2" cy="455.4" r="3.6" fill="url(#g_ni)"/>
<circle cx="169.5" cy="455.4" r="3.6" fill="url(#g_ni)"/>
<circle cx="189.8" cy="455.4" r="3.6" fill="url(#g_ni)"/>
<circle cx="210.1" cy="455.4" r="3.6" fill="url(#g_ni)"/>
<circle cx="230.4" cy="455.4" r="3.6" fill="url(#g_ni)"/>
<circle cx="139.0" cy="461.8" r="3.7" fill="url(#g_ni)"/>
<circle cx="159.3" cy="461.8" r="3.7" fill="url(#g_ni)"/>
<circle cx="179.6" cy="461.8" r="3.7" fill="url(#g_ni)"/>
<circle cx="199.9" cy="461.8" r="3.7" fill="url(#g_ni)"/>
<circle cx="220.2" cy="461.8" r="3.7" fill="url(#g_ni)"/>
<circle cx="149.2" cy="466.6" r="3.4" fill="url(#g_au)"/>
<circle cx="169.5" cy="466.6" r="3.4" fill="url(#g_au)"/>
<circle cx="189.8" cy="466.6" r="3.4" fill="url(#g_au)"/>
<circle cx="210.1" cy="466.6" r="3.4" fill="url(#g_au)"/>
<circle cx="230.4" cy="466.6" r="3.4" fill="url(#g_au)"/>
<circle cx="139.0" cy="446.9" r="3.9" fill="url(#g_ni)"/>
<circle cx="159.3" cy="446.9" r="3.9" fill="url(#g_ni)"/>
<circle cx="179.6" cy="446.9" r="3.9" fill="url(#g_ni)"/>
<circle cx="199.9" cy="446.9" r="3.9" fill="url(#g_ni)"/>
<circle cx="220.2" cy="446.9" r="3.9" fill="url(#g_ni)"/>
</g>
<rect x="148.0" y="438.9" width="7.2" height="6.4" fill="#767271"/>
<text x="151.6" y="443.8" fill="#fff" font-size="5.0" text-anchor="middle" font-weight="normal" >3</text>
<circle cx="166.8" cy="439.8" r="3.7" fill="url(#g_o)"/>
<circle cx="166.8" cy="449.1" r="3.5" fill="url(#g_c)"/>
<circle cx="190.2" cy="451.3" r="3.7" fill="url(#g_o)"/>
<clipPath id="cl21"><rect x="204.9" y="438.9" width="52.4" height="34.9"/></clipPath>
<g clip-path="url(#cl21)">
<line x1="204.9" y1="446.9" x2="257.3" y2="446.9" stroke="#6e87c2" stroke-width="1.4"/>
<line x1="204.9" y1="454.5" x2="257.3" y2="454.5" stroke="#6e87c2" stroke-width="1.3"/>
<line x1="204.9" y1="456.4" x2="257.3" y2="456.4" stroke="#6e87c2" stroke-width="1.3"/>
<line x1="204.9" y1="462.6" x2="257.3" y2="462.6" stroke="#6e87c2" stroke-width="1.0"/>
<line x1="204.9" y1="474.0" x2="257.3" y2="474.0" stroke="#6e87c2" stroke-width="1.4"/>
<path d="M195.9,446.9 L206.0,455.4 L216.2,446.9 M195.9,446.9 L195.9,461.8 M185.7,455.4 L195.9,461.8 L206.0,455.4 M195.9,461.8 L206.0,466.6 M195.9,461.8 L185.7,466.6 M206.0,466.6 L195.9,474.0 L185.7,466.6 M195.9,446.9 L211.1,461.8 M195.9,446.9 L180.7,461.8 M216.2,446.9 L226.3,455.4 L236.5,446.9 M216.2,446.9 L216.2,461.8 M206.0,455.4 L216.2,461.8 L226.3,455.4 M216.2,461.8 L226.3,466.6 M216.2,461.8 L206.0,466.6 M226.3,466.6 L216.2,474.0 L206.0,466.6 M216.2,446.9 L231.4,461.8 M216.2,446.9 L201.0,461.8 M236.5,446.9 L246.6,455.4 L256.8,446.9 M236.5,446.9 L236.5,461.8 M226.3,455.4 L236.5,461.8 L246.6,455.4 M236.5,461.8 L246.6,466.6 M236.5,461.8 L226.3,466.6 M246.6,466.6 L236.5,474.0 L226.3,466.6 M236.5,446.9 L251.7,461.8 M236.5,446.9 L221.3,461.8 M256.8,446.9 L266.9,455.4 L277.1,446.9 M256.8,446.9 L256.8,461.8 M246.6,455.4 L256.8,461.8 L266.9,455.4 M256.8,461.8 L266.9,466.6 M256.8,461.8 L246.6,466.6 M266.9,466.6 L256.8,474.0 L246.6,466.6 M256.8,446.9 L272.0,461.8 M256.8,446.9 L241.6,461.8 M277.1,446.9 L287.2,455.4 L297.4,446.9 M277.1,446.9 L277.1,461.8 M266.9,455.4 L277.1,461.8 L287.2,455.4 M277.1,461.8 L287.2,466.6 M277.1,461.8 L266.9,466.6 M287.2,466.6 L277.1,474.0 L266.9,466.6 M277.1,446.9 L292.3,461.8 M277.1,446.9 L261.9,461.8 " stroke="#6e87c2" stroke-width="1.4" fill="none"/>
<line x1="204.9" y1="466.9" x2="257.3" y2="466.9" stroke="#e2b522" stroke-width="1.2"/>
<line x1="195.9" y1="471.2" x2="195.9" y2="474.0" stroke="#e2b522" stroke-width="1.3"/>
<line x1="216.2" y1="471.2" x2="216.2" y2="474.0" stroke="#e2b522" stroke-width="1.3"/>
<line x1="236.5" y1="471.2" x2="236.5" y2="474.0" stroke="#e2b522" stroke-width="1.3"/>
<line x1="256.8" y1="471.2" x2="256.8" y2="474.0" stroke="#e2b522" stroke-width="1.3"/>
<line x1="277.1" y1="471.2" x2="277.1" y2="474.0" stroke="#e2b522" stroke-width="1.3"/>
<circle cx="206.0" cy="475.6" r="3.0" fill="url(#g_ni)"/>
<circle cx="226.3" cy="475.6" r="3.0" fill="url(#g_ni)"/>
<circle cx="246.6" cy="475.6" r="3.0" fill="url(#g_ni)"/>
<circle cx="266.9" cy="475.6" r="3.0" fill="url(#g_ni)"/>
<circle cx="287.2" cy="475.6" r="3.0" fill="url(#g_ni)"/>
<circle cx="206.0" cy="455.4" r="3.6" fill="url(#g_ni)"/>
<circle cx="226.3" cy="455.4" r="3.6" fill="url(#g_ni)"/>
<circle cx="246.6" cy="455.4" r="3.6" fill="url(#g_ni)"/>
<circle cx="266.9" cy="455.4" r="3.6" fill="url(#g_ni)"/>
<circle cx="287.2" cy="455.4" r="3.6" fill="url(#g_ni)"/>
<circle cx="195.9" cy="461.8" r="3.7" fill="url(#g_ni)"/>
<circle cx="216.2" cy="461.8" r="3.7" fill="url(#g_ni)"/>
<circle cx="236.5" cy="461.8" r="3.7" fill="url(#g_ni)"/>
<circle cx="256.8" cy="461.8" r="3.7" fill="url(#g_ni)"/>
<circle cx="277.1" cy="461.8" r="3.7" fill="url(#g_ni)"/>
<circle cx="206.0" cy="466.6" r="3.4" fill="url(#g_au)"/>
<circle cx="226.3" cy="466.6" r="3.4" fill="url(#g_au)"/>
<circle cx="246.6" cy="466.6" r="3.4" fill="url(#g_au)"/>
<circle cx="266.9" cy="466.6" r="3.4" fill="url(#g_au)"/>
<circle cx="287.2" cy="466.6" r="3.4" fill="url(#g_au)"/>
<circle cx="195.9" cy="446.9" r="3.9" fill="url(#g_ni)"/>
<circle cx="216.2" cy="446.9" r="3.9" fill="url(#g_ni)"/>
<circle cx="236.5" cy="446.9" r="3.9" fill="url(#g_ni)"/>
<circle cx="256.8" cy="446.9" r="3.9" fill="url(#g_ni)"/>
<circle cx="277.1" cy="446.9" r="3.9" fill="url(#g_ni)"/>
</g>
<rect x="204.9" y="438.9" width="7.2" height="6.4" fill="#767271"/>
<text x="208.5" y="443.8" fill="#fff" font-size="5.0" text-anchor="middle" font-weight="normal" >4</text>
<circle cx="226.0" cy="441.8" r="3.7" fill="url(#g_o)"/>
<circle cx="226.0" cy="450.8" r="3.5" fill="url(#g_c)"/>
<clipPath id="cl22"><rect x="261.7" y="438.9" width="52.4" height="34.9"/></clipPath>
<g clip-path="url(#cl22)">
<line x1="261.7" y1="446.9" x2="314.1" y2="446.9" stroke="#6e87c2" stroke-width="1.4"/>
<line x1="261.7" y1="454.5" x2="314.1" y2="454.5" stroke="#6e87c2" stroke-width="1.3"/>
<line x1="261.7" y1="456.4" x2="314.1" y2="456.4" stroke="#6e87c2" stroke-width="1.3"/>
<line x1="261.7" y1="462.6" x2="314.1" y2="462.6" stroke="#6e87c2" stroke-width="1.0"/>
<line x1="261.7" y1="474.0" x2="314.1" y2="474.0" stroke="#6e87c2" stroke-width="1.4"/>
<path d="M252.7,446.9 L262.9,455.4 L273.0,446.9 M252.7,446.9 L252.7,461.8 M242.6,455.4 L252.7,461.8 L262.9,455.4 M252.7,461.8 L262.9,466.6 M252.7,461.8 L242.6,466.6 M262.9,466.6 L252.7,474.0 L242.6,466.6 M252.7,446.9 L268.0,461.8 M252.7,446.9 L237.5,461.8 M273.0,446.9 L283.2,455.4 L293.3,446.9 M273.0,446.9 L273.0,461.8 M262.9,455.4 L273.0,461.8 L283.2,455.4 M273.0,461.8 L283.2,466.6 M273.0,461.8 L262.9,466.6 M283.2,466.6 L273.0,474.0 L262.9,466.6 M273.0,446.9 L288.3,461.8 M273.0,446.9 L257.8,461.8 M293.3,446.9 L303.5,455.4 L313.6,446.9 M293.3,446.9 L293.3,461.8 M283.2,455.4 L293.3,461.8 L303.5,455.4 M293.3,461.8 L303.5,466.6 M293.3,461.8 L283.2,466.6 M303.5,466.6 L293.3,474.0 L283.2,466.6 M293.3,446.9 L308.6,461.8 M293.3,446.9 L278.1,461.8 M313.6,446.9 L323.8,455.4 L333.9,446.9 M313.6,446.9 L313.6,461.8 M303.5,455.4 L313.6,461.8 L323.8,455.4 M313.6,461.8 L323.8,466.6 M313.6,461.8 L303.5,466.6 M323.8,466.6 L313.6,474.0 L303.5,466.6 M313.6,446.9 L328.9,461.8 M313.6,446.9 L298.4,461.8 M333.9,446.9 L344.1,455.4 L354.2,446.9 M333.9,446.9 L333.9,461.8 M323.8,455.4 L333.9,461.8 L344.1,455.4 M333.9,461.8 L344.1,466.6 M333.9,461.8 L323.8,466.6 M344.1,466.6 L333.9,474.0 L323.8,466.6 M333.9,446.9 L349.2,461.8 M333.9,446.9 L318.7,461.8 " stroke="#6e87c2" stroke-width="1.4" fill="none"/>
<line x1="261.7" y1="466.9" x2="314.1" y2="466.9" stroke="#e2b522" stroke-width="1.2"/>
<line x1="252.7" y1="471.2" x2="252.7" y2="474.0" stroke="#e2b522" stroke-width="1.3"/>
<line x1="273.0" y1="471.2" x2="273.0" y2="474.0" stroke="#e2b522" stroke-width="1.3"/>
<line x1="293.3" y1="471.2" x2="293.3" y2="474.0" stroke="#e2b522" stroke-width="1.3"/>
<line x1="313.6" y1="471.2" x2="313.6" y2="474.0" stroke="#e2b522" stroke-width="1.3"/>
<line x1="333.9" y1="471.2" x2="333.9" y2="474.0" stroke="#e2b522" stroke-width="1.3"/>
<circle cx="262.9" cy="475.6" r="3.0" fill="url(#g_ni)"/>
<circle cx="283.2" cy="475.6" r="3.0" fill="url(#g_ni)"/>
<circle cx="303.5" cy="475.6" r="3.0" fill="url(#g_ni)"/>
<circle cx="323.8" cy="475.6" r="3.0" fill="url(#g_ni)"/>
<circle cx="344.1" cy="475.6" r="3.0" fill="url(#g_ni)"/>
<circle cx="262.9" cy="455.4" r="3.6" fill="url(#g_ni)"/>
<circle cx="283.2" cy="455.4" r="3.6" fill="url(#g_ni)"/>
<circle cx="303.5" cy="455.4" r="3.6" fill="url(#g_ni)"/>
<circle cx="323.8" cy="455.4" r="3.6" fill="url(#g_ni)"/>
<circle cx="344.1" cy="455.4" r="3.6" fill="url(#g_ni)"/>
<circle cx="252.7" cy="461.8" r="3.7" fill="url(#g_ni)"/>
<circle cx="273.0" cy="461.8" r="3.7" fill="url(#g_ni)"/>
<circle cx="293.3" cy="461.8" r="3.7" fill="url(#g_ni)"/>
<circle cx="313.6" cy="461.8" r="3.7" fill="url(#g_ni)"/>
<circle cx="333.9" cy="461.8" r="3.7" fill="url(#g_ni)"/>
<circle cx="262.9" cy="466.6" r="3.4" fill="url(#g_au)"/>
<circle cx="283.2" cy="466.6" r="3.4" fill="url(#g_au)"/>
<circle cx="303.5" cy="466.6" r="3.4" fill="url(#g_au)"/>
<circle cx="323.8" cy="466.6" r="3.4" fill="url(#g_au)"/>
<circle cx="344.1" cy="466.6" r="3.4" fill="url(#g_au)"/>
<circle cx="252.7" cy="446.9" r="3.9" fill="url(#g_ni)"/>
<circle cx="273.0" cy="446.9" r="3.9" fill="url(#g_ni)"/>
<circle cx="293.3" cy="446.9" r="3.9" fill="url(#g_ni)"/>
<circle cx="313.6" cy="446.9" r="3.9" fill="url(#g_ni)"/>
<circle cx="333.9" cy="446.9" r="3.9" fill="url(#g_ni)"/>
</g>
<rect x="261.7" y="438.9" width="7.2" height="6.4" fill="#767271"/>
<text x="265.3" y="443.8" fill="#fff" font-size="5.0" text-anchor="middle" font-weight="normal" >5</text>
<circle cx="281.4" cy="453.0" r="3.6" fill="url(#g_h)"/>
<circle cx="302.6" cy="440.6" r="3.7" fill="url(#g_o)"/>
<circle cx="302.6" cy="450.0" r="3.5" fill="url(#g_c)"/>
<clipPath id="cl23"><rect x="318.6" y="438.9" width="52.4" height="34.9"/></clipPath>
<g clip-path="url(#cl23)">
<line x1="318.6" y1="446.9" x2="371.0" y2="446.9" stroke="#6e87c2" stroke-width="1.4"/>
<line x1="318.6" y1="454.5" x2="371.0" y2="454.5" stroke="#6e87c2" stroke-width="1.3"/>
<line x1="318.6" y1="456.4" x2="371.0" y2="456.4" stroke="#6e87c2" stroke-width="1.3"/>
<line x1="318.6" y1="462.6" x2="371.0" y2="462.6" stroke="#6e87c2" stroke-width="1.0"/>
<line x1="318.6" y1="474.0" x2="371.0" y2="474.0" stroke="#6e87c2" stroke-width="1.4"/>
<path d="M309.6,446.9 L319.8,455.4 L329.9,446.9 M309.6,446.9 L309.6,461.8 M299.5,455.4 L309.6,461.8 L319.8,455.4 M309.6,461.8 L319.8,466.6 M309.6,461.8 L299.5,466.6 M319.8,466.6 L309.6,474.0 L299.5,466.6 M309.6,446.9 L324.8,461.8 M309.6,446.9 L294.4,461.8 M329.9,446.9 L340.1,455.4 L350.2,446.9 M329.9,446.9 L329.9,461.8 M319.8,455.4 L329.9,461.8 L340.1,455.4 M329.9,461.8 L340.1,466.6 M329.9,461.8 L319.8,466.6 M340.1,466.6 L329.9,474.0 L319.8,466.6 M329.9,446.9 L345.1,461.8 M329.9,446.9 L314.7,461.8 M350.2,446.9 L360.4,455.4 L370.5,446.9 M350.2,446.9 L350.2,461.8 M340.1,455.4 L350.2,461.8 L360.4,455.4 M350.2,461.8 L360.4,466.6 M350.2,461.8 L340.1,466.6 M360.4,466.6 L350.2,474.0 L340.1,466.6 M350.2,446.9 L365.4,461.8 M350.2,446.9 L335.0,461.8 M370.5,446.9 L380.7,455.4 L390.8,446.9 M370.5,446.9 L370.5,461.8 M360.4,455.4 L370.5,461.8 L380.7,455.4 M370.5,461.8 L380.7,466.6 M370.5,461.8 L360.4,466.6 M380.7,466.6 L370.5,474.0 L360.4,466.6 M370.5,446.9 L385.7,461.8 M370.5,446.9 L355.3,461.8 M390.8,446.9 L401.0,455.4 L411.1,446.9 M390.8,446.9 L390.8,461.8 M380.7,455.4 L390.8,461.8 L401.0,455.4 M390.8,461.8 L401.0,466.6 M390.8,461.8 L380.7,466.6 M401.0,466.6 L390.8,474.0 L380.7,466.6 M390.8,446.9 L406.0,461.8 M390.8,446.9 L375.6,461.8 " stroke="#6e87c2" stroke-width="1.4" fill="none"/>
<line x1="318.6" y1="466.9" x2="371.0" y2="466.9" stroke="#e2b522" stroke-width="1.2"/>
<line x1="309.6" y1="471.2" x2="309.6" y2="474.0" stroke="#e2b522" stroke-width="1.3"/>
<line x1="329.9" y1="471.2" x2="329.9" y2="474.0" stroke="#e2b522" stroke-width="1.3"/>
<line x1="350.2" y1="471.2" x2="350.2" y2="474.0" stroke="#e2b522" stroke-width="1.3"/>
<line x1="370.5" y1="471.2" x2="370.5" y2="474.0" stroke="#e2b522" stroke-width="1.3"/>
<line x1="390.8" y1="471.2" x2="390.8" y2="474.0" stroke="#e2b522" stroke-width="1.3"/>
<circle cx="319.8" cy="475.6" r="3.0" fill="url(#g_ni)"/>
<circle cx="340.1" cy="475.6" r="3.0" fill="url(#g_ni)"/>
<circle cx="360.4" cy="475.6" r="3.0" fill="url(#g_ni)"/>
<circle cx="380.7" cy="475.6" r="3.0" fill="url(#g_ni)"/>
<circle cx="401.0" cy="475.6" r="3.0" fill="url(#g_ni)"/>
<circle cx="319.8" cy="455.4" r="3.6" fill="url(#g_ni)"/>
<circle cx="340.1" cy="455.4" r="3.6" fill="url(#g_ni)"/>
<circle cx="360.4" cy="455.4" r="3.6" fill="url(#g_ni)"/>
<circle cx="380.7" cy="455.4" r="3.6" fill="url(#g_ni)"/>
<circle cx="401.0" cy="455.4" r="3.6" fill="url(#g_ni)"/>
<circle cx="309.6" cy="461.8" r="3.7" fill="url(#g_ni)"/>
<circle cx="329.9" cy="461.8" r="3.7" fill="url(#g_ni)"/>
<circle cx="350.2" cy="461.8" r="3.7" fill="url(#g_ni)"/>
<circle cx="370.5" cy="461.8" r="3.7" fill="url(#g_ni)"/>
<circle cx="390.8" cy="461.8" r="3.7" fill="url(#g_ni)"/>
<circle cx="319.8" cy="466.6" r="3.4" fill="url(#g_au)"/>
<circle cx="340.1" cy="466.6" r="3.4" fill="url(#g_au)"/>
<circle cx="360.4" cy="466.6" r="3.4" fill="url(#g_au)"/>
<circle cx="380.7" cy="466.6" r="3.4" fill="url(#g_au)"/>
<circle cx="401.0" cy="466.6" r="3.4" fill="url(#g_au)"/>
<circle cx="309.6" cy="446.9" r="3.9" fill="url(#g_ni)"/>
<circle cx="329.9" cy="446.9" r="3.9" fill="url(#g_ni)"/>
<circle cx="350.2" cy="446.9" r="3.9" fill="url(#g_ni)"/>
<circle cx="370.5" cy="446.9" r="3.9" fill="url(#g_ni)"/>
<circle cx="390.8" cy="446.9" r="3.9" fill="url(#g_ni)"/>
</g>
<rect x="318.6" y="438.9" width="7.2" height="6.4" fill="#767271"/>
<text x="322.2" y="443.8" fill="#fff" font-size="5.0" text-anchor="middle" font-weight="normal" >6</text>
<circle cx="337.9" cy="451.7" r="3.5" fill="url(#g_c)"/>
<circle cx="361.6" cy="451.3" r="3.7" fill="url(#g_o)"/>
<clipPath id="cl24"><rect x="375.5" y="438.9" width="52.4" height="34.9"/></clipPath>
<g clip-path="url(#cl24)">
<line x1="375.5" y1="446.9" x2="427.9" y2="446.9" stroke="#6e87c2" stroke-width="1.4"/>
<line x1="375.5" y1="454.5" x2="427.9" y2="454.5" stroke="#6e87c2" stroke-width="1.3"/>
<line x1="375.5" y1="456.4" x2="427.9" y2="456.4" stroke="#6e87c2" stroke-width="1.3"/>
<line x1="375.5" y1="462.6" x2="427.9" y2="462.6" stroke="#6e87c2" stroke-width="1.0"/>
<line x1="375.5" y1="474.0" x2="427.9" y2="474.0" stroke="#6e87c2" stroke-width="1.4"/>
<path d="M366.5,446.9 L376.6,455.4 L386.8,446.9 M366.5,446.9 L366.5,461.8 M356.3,455.4 L366.5,461.8 L376.6,455.4 M366.5,461.8 L376.6,466.6 M366.5,461.8 L356.3,466.6 M376.6,466.6 L366.5,474.0 L356.3,466.6 M366.5,446.9 L381.7,461.8 M366.5,446.9 L351.2,461.8 M386.8,446.9 L396.9,455.4 L407.1,446.9 M386.8,446.9 L386.8,461.8 M376.6,455.4 L386.8,461.8 L396.9,455.4 M386.8,461.8 L396.9,466.6 M386.8,461.8 L376.6,466.6 M396.9,466.6 L386.8,474.0 L376.6,466.6 M386.8,446.9 L402.0,461.8 M386.8,446.9 L371.5,461.8 M407.1,446.9 L417.2,455.4 L427.4,446.9 M407.1,446.9 L407.1,461.8 M396.9,455.4 L407.1,461.8 L417.2,455.4 M407.1,461.8 L417.2,466.6 M407.1,461.8 L396.9,466.6 M417.2,466.6 L407.1,474.0 L396.9,466.6 M407.1,446.9 L422.3,461.8 M407.1,446.9 L391.8,461.8 M427.4,446.9 L437.5,455.4 L447.7,446.9 M427.4,446.9 L427.4,461.8 M417.2,455.4 L427.4,461.8 L437.5,455.4 M427.4,461.8 L437.5,466.6 M427.4,461.8 L417.2,466.6 M437.5,466.6 L427.4,474.0 L417.2,466.6 M427.4,446.9 L442.6,461.8 M427.4,446.9 L412.1,461.8 M447.7,446.9 L457.8,455.4 L468.0,446.9 M447.7,446.9 L447.7,461.8 M437.5,455.4 L447.7,461.8 L457.8,455.4 M447.7,461.8 L457.8,466.6 M447.7,461.8 L437.5,466.6 M457.8,466.6 L447.7,474.0 L437.5,466.6 M447.7,446.9 L462.9,461.8 M447.7,446.9 L432.4,461.8 " stroke="#6e87c2" stroke-width="1.4" fill="none"/>
<line x1="375.5" y1="466.9" x2="427.9" y2="466.9" stroke="#e2b522" stroke-width="1.2"/>
<line x1="366.5" y1="471.2" x2="366.5" y2="474.0" stroke="#e2b522" stroke-width="1.3"/>
<line x1="386.8" y1="471.2" x2="386.8" y2="474.0" stroke="#e2b522" stroke-width="1.3"/>
<line x1="407.1" y1="471.2" x2="407.1" y2="474.0" stroke="#e2b522" stroke-width="1.3"/>
<line x1="427.4" y1="471.2" x2="427.4" y2="474.0" stroke="#e2b522" stroke-width="1.3"/>
<line x1="447.7" y1="471.2" x2="447.7" y2="474.0" stroke="#e2b522" stroke-width="1.3"/>
<circle cx="376.6" cy="475.6" r="3.0" fill="url(#g_ni)"/>
<circle cx="396.9" cy="475.6" r="3.0" fill="url(#g_ni)"/>
<circle cx="417.2" cy="475.6" r="3.0" fill="url(#g_ni)"/>
<circle cx="437.5" cy="475.6" r="3.0" fill="url(#g_ni)"/>
<circle cx="457.8" cy="475.6" r="3.0" fill="url(#g_ni)"/>
<circle cx="376.6" cy="455.4" r="3.6" fill="url(#g_ni)"/>
<circle cx="396.9" cy="455.4" r="3.6" fill="url(#g_ni)"/>
<circle cx="417.2" cy="455.4" r="3.6" fill="url(#g_ni)"/>
<circle cx="437.5" cy="455.4" r="3.6" fill="url(#g_ni)"/>
<circle cx="457.8" cy="455.4" r="3.6" fill="url(#g_ni)"/>
<circle cx="366.5" cy="461.8" r="3.7" fill="url(#g_ni)"/>
<circle cx="386.8" cy="461.8" r="3.7" fill="url(#g_ni)"/>
<circle cx="407.1" cy="461.8" r="3.7" fill="url(#g_ni)"/>
<circle cx="427.4" cy="461.8" r="3.7" fill="url(#g_ni)"/>
<circle cx="447.7" cy="461.8" r="3.7" fill="url(#g_ni)"/>
<circle cx="376.6" cy="466.6" r="3.4" fill="url(#g_au)"/>
<circle cx="396.9" cy="466.6" r="3.4" fill="url(#g_au)"/>
<circle cx="417.2" cy="466.6" r="3.4" fill="url(#g_au)"/>
<circle cx="437.5" cy="466.6" r="3.4" fill="url(#g_au)"/>
<circle cx="457.8" cy="466.6" r="3.4" fill="url(#g_au)"/>
<circle cx="366.5" cy="446.9" r="3.9" fill="url(#g_ni)"/>
<circle cx="386.8" cy="446.9" r="3.9" fill="url(#g_ni)"/>
<circle cx="407.1" cy="446.9" r="3.9" fill="url(#g_ni)"/>
<circle cx="427.4" cy="446.9" r="3.9" fill="url(#g_ni)"/>
<circle cx="447.7" cy="446.9" r="3.9" fill="url(#g_ni)"/>
</g>
<rect x="375.5" y="438.9" width="7.2" height="6.4" fill="#767271"/>
<text x="379.1" y="443.8" fill="#fff" font-size="5.0" text-anchor="middle" font-weight="normal" >7</text>
<circle cx="388.0" cy="439.8" r="3.6" fill="url(#g_h)"/>
<circle cx="393.1" cy="447.4" r="3.5" fill="url(#g_c)"/>
<circle cx="401.5" cy="446.6" r="3.7" fill="url(#g_o)"/>
<clipPath id="cl25"><rect x="432.3" y="438.9" width="52.4" height="34.9"/></clipPath>
<g clip-path="url(#cl25)">
<line x1="432.3" y1="446.9" x2="484.7" y2="446.9" stroke="#6e87c2" stroke-width="1.4"/>
<line x1="432.3" y1="454.5" x2="484.7" y2="454.5" stroke="#6e87c2" stroke-width="1.3"/>
<line x1="432.3" y1="456.4" x2="484.7" y2="456.4" stroke="#6e87c2" stroke-width="1.3"/>
<line x1="432.3" y1="462.6" x2="484.7" y2="462.6" stroke="#6e87c2" stroke-width="1.0"/>
<line x1="432.3" y1="474.0" x2="484.7" y2="474.0" stroke="#6e87c2" stroke-width="1.4"/>
<path d="M423.3,446.9 L433.5,455.4 L443.6,446.9 M423.3,446.9 L423.3,461.8 M413.2,455.4 L423.3,461.8 L433.5,455.4 M423.3,461.8 L433.5,466.6 M423.3,461.8 L413.2,466.6 M433.5,466.6 L423.3,474.0 L413.2,466.6 M423.3,446.9 L438.5,461.8 M423.3,446.9 L408.1,461.8 M443.6,446.9 L453.8,455.4 L463.9,446.9 M443.6,446.9 L443.6,461.8 M433.5,455.4 L443.6,461.8 L453.8,455.4 M443.6,461.8 L453.8,466.6 M443.6,461.8 L433.5,466.6 M453.8,466.6 L443.6,474.0 L433.5,466.6 M443.6,446.9 L458.8,461.8 M443.6,446.9 L428.4,461.8 M463.9,446.9 L474.1,455.4 L484.2,446.9 M463.9,446.9 L463.9,461.8 M453.8,455.4 L463.9,461.8 L474.1,455.4 M463.9,461.8 L474.1,466.6 M463.9,461.8 L453.8,466.6 M474.1,466.6 L463.9,474.0 L453.8,466.6 M463.9,446.9 L479.1,461.8 M463.9,446.9 L448.7,461.8 M484.2,446.9 L494.4,455.4 L504.5,446.9 M484.2,446.9 L484.2,461.8 M474.1,455.4 L484.2,461.8 L494.4,455.4 M484.2,461.8 L494.4,466.6 M484.2,461.8 L474.1,466.6 M494.4,466.6 L484.2,474.0 L474.1,466.6 M484.2,446.9 L499.4,461.8 M484.2,446.9 L469.0,461.8 M504.5,446.9 L514.7,455.4 L524.8,446.9 M504.5,446.9 L504.5,461.8 M494.4,455.4 L504.5,461.8 L514.7,455.4 M504.5,461.8 L514.7,466.6 M504.5,461.8 L494.4,466.6 M514.7,466.6 L504.5,474.0 L494.4,466.6 M504.5,446.9 L519.7,461.8 M504.5,446.9 L489.3,461.8 " stroke="#6e87c2" stroke-width="1.4" fill="none"/>
<line x1="432.3" y1="466.9" x2="484.7" y2="466.9" stroke="#e2b522" stroke-width="1.2"/>
<line x1="423.3" y1="471.2" x2="423.3" y2="474.0" stroke="#e2b522" stroke-width="1.3"/>
<line x1="443.6" y1="471.2" x2="443.6" y2="474.0" stroke="#e2b522" stroke-width="1.3"/>
<line x1="463.9" y1="471.2" x2="463.9" y2="474.0" stroke="#e2b522" stroke-width="1.3"/>
<line x1="484.2" y1="471.2" x2="484.2" y2="474.0" stroke="#e2b522" stroke-width="1.3"/>
<line x1="504.5" y1="471.2" x2="504.5" y2="474.0" stroke="#e2b522" stroke-width="1.3"/>
<circle cx="433.5" cy="475.6" r="3.0" fill="url(#g_ni)"/>
<circle cx="453.8" cy="475.6" r="3.0" fill="url(#g_ni)"/>
<circle cx="474.1" cy="475.6" r="3.0" fill="url(#g_ni)"/>
<circle cx="494.4" cy="475.6" r="3.0" fill="url(#g_ni)"/>
<circle cx="514.7" cy="475.6" r="3.0" fill="url(#g_ni)"/>
<circle cx="433.5" cy="455.4" r="3.6" fill="url(#g_ni)"/>
<circle cx="453.8" cy="455.4" r="3.6" fill="url(#g_ni)"/>
<circle cx="474.1" cy="455.4" r="3.6" fill="url(#g_ni)"/>
<circle cx="494.4" cy="455.4" r="3.6" fill="url(#g_ni)"/>
<circle cx="514.7" cy="455.4" r="3.6" fill="url(#g_ni)"/>
<circle cx="423.3" cy="461.8" r="3.7" fill="url(#g_ni)"/>
<circle cx="443.6" cy="461.8" r="3.7" fill="url(#g_ni)"/>
<circle cx="463.9" cy="461.8" r="3.7" fill="url(#g_ni)"/>
<circle cx="484.2" cy="461.8" r="3.7" fill="url(#g_ni)"/>
<circle cx="504.5" cy="461.8" r="3.7" fill="url(#g_ni)"/>
<circle cx="433.5" cy="466.6" r="3.4" fill="url(#g_au)"/>
<circle cx="453.8" cy="466.6" r="3.4" fill="url(#g_au)"/>
<circle cx="474.1" cy="466.6" r="3.4" fill="url(#g_au)"/>
<circle cx="494.4" cy="466.6" r="3.4" fill="url(#g_au)"/>
<circle cx="514.7" cy="466.6" r="3.4" fill="url(#g_au)"/>
<circle cx="423.3" cy="446.9" r="3.9" fill="url(#g_ni)"/>
<circle cx="443.6" cy="446.9" r="3.9" fill="url(#g_ni)"/>
<circle cx="463.9" cy="446.9" r="3.9" fill="url(#g_ni)"/>
<circle cx="484.2" cy="446.9" r="3.9" fill="url(#g_ni)"/>
<circle cx="504.5" cy="446.9" r="3.9" fill="url(#g_ni)"/>
</g>
<rect x="432.3" y="438.9" width="7.2" height="6.4" fill="#767271"/>
<text x="435.9" y="443.8" fill="#fff" font-size="5.0" text-anchor="middle" font-weight="normal" >8</text>
<circle cx="444.9" cy="440.6" r="3.6" fill="url(#g_h)"/>
<circle cx="453.4" cy="442.3" r="3.6" fill="url(#g_h)"/>
<circle cx="450.0" cy="447.4" r="3.5" fill="url(#g_c)"/>
<circle cx="459.0" cy="447.4" r="3.7" fill="url(#g_o)"/>
<clipPath id="cl26"><rect x="34.3" y="483.4" width="52.4" height="34.9"/></clipPath>
<g clip-path="url(#cl26)">
<line x1="34.3" y1="491.4" x2="86.7" y2="491.4" stroke="#6e87c2" stroke-width="1.4"/>
<line x1="34.3" y1="499.0" x2="86.7" y2="499.0" stroke="#6e87c2" stroke-width="1.3"/>
<line x1="34.3" y1="500.9" x2="86.7" y2="500.9" stroke="#6e87c2" stroke-width="1.3"/>
<line x1="34.3" y1="507.1" x2="86.7" y2="507.1" stroke="#6e87c2" stroke-width="1.0"/>
<line x1="34.3" y1="518.5" x2="86.7" y2="518.5" stroke="#6e87c2" stroke-width="1.4"/>
<path d="M25.3,491.4 L35.4,499.9 L45.6,491.4 M25.3,491.4 L25.3,506.3 M15.1,499.9 L25.3,506.3 L35.4,499.9 M25.3,506.3 L35.4,511.1 M25.3,506.3 L15.1,511.1 M35.4,511.1 L25.3,518.5 L15.1,511.1 M25.3,491.4 L40.5,506.3 M25.3,491.4 L10.1,506.3 M45.6,491.4 L55.7,499.9 L65.9,491.4 M45.6,491.4 L45.6,506.3 M35.4,499.9 L45.6,506.3 L55.7,499.9 M45.6,506.3 L55.7,511.1 M45.6,506.3 L35.4,511.1 M55.7,511.1 L45.6,518.5 L35.4,511.1 M45.6,491.4 L60.8,506.3 M45.6,491.4 L30.4,506.3 M65.9,491.4 L76.0,499.9 L86.2,491.4 M65.9,491.4 L65.9,506.3 M55.7,499.9 L65.9,506.3 L76.0,499.9 M65.9,506.3 L76.0,511.1 M65.9,506.3 L55.7,511.1 M76.0,511.1 L65.9,518.5 L55.7,511.1 M65.9,491.4 L81.1,506.3 M65.9,491.4 L50.7,506.3 M86.2,491.4 L96.3,499.9 L106.5,491.4 M86.2,491.4 L86.2,506.3 M76.0,499.9 L86.2,506.3 L96.3,499.9 M86.2,506.3 L96.3,511.1 M86.2,506.3 L76.0,511.1 M96.3,511.1 L86.2,518.5 L76.0,511.1 M86.2,491.4 L101.4,506.3 M86.2,491.4 L71.0,506.3 M106.5,491.4 L116.7,499.9 L126.8,491.4 M106.5,491.4 L106.5,506.3 M96.3,499.9 L106.5,506.3 L116.7,499.9 M106.5,506.3 L116.7,511.1 M106.5,506.3 L96.3,511.1 M116.7,511.1 L106.5,518.5 L96.3,511.1 M106.5,491.4 L121.7,506.3 M106.5,491.4 L91.3,506.3 " stroke="#6e87c2" stroke-width="1.4" fill="none"/>
<line x1="34.3" y1="511.4" x2="86.7" y2="511.4" stroke="#e2b522" stroke-width="1.2"/>
<line x1="25.3" y1="515.7" x2="25.3" y2="518.5" stroke="#e2b522" stroke-width="1.3"/>
<line x1="45.6" y1="515.7" x2="45.6" y2="518.5" stroke="#e2b522" stroke-width="1.3"/>
<line x1="65.9" y1="515.7" x2="65.9" y2="518.5" stroke="#e2b522" stroke-width="1.3"/>
<line x1="86.2" y1="515.7" x2="86.2" y2="518.5" stroke="#e2b522" stroke-width="1.3"/>
<line x1="106.5" y1="515.7" x2="106.5" y2="518.5" stroke="#e2b522" stroke-width="1.3"/>
<circle cx="35.4" cy="520.1" r="3.0" fill="url(#g_ni)"/>
<circle cx="55.7" cy="520.1" r="3.0" fill="url(#g_ni)"/>
<circle cx="76.0" cy="520.1" r="3.0" fill="url(#g_ni)"/>
<circle cx="96.3" cy="520.1" r="3.0" fill="url(#g_ni)"/>
<circle cx="116.7" cy="520.1" r="3.0" fill="url(#g_ni)"/>
<circle cx="35.4" cy="499.9" r="3.6" fill="url(#g_ni)"/>
<circle cx="55.7" cy="499.9" r="3.6" fill="url(#g_ni)"/>
<circle cx="76.0" cy="499.9" r="3.6" fill="url(#g_ni)"/>
<circle cx="96.3" cy="499.9" r="3.6" fill="url(#g_ni)"/>
<circle cx="116.7" cy="499.9" r="3.6" fill="url(#g_ni)"/>
<circle cx="25.3" cy="506.3" r="3.7" fill="url(#g_ni)"/>
<circle cx="45.6" cy="506.3" r="3.7" fill="url(#g_ni)"/>
<circle cx="65.9" cy="506.3" r="3.7" fill="url(#g_ni)"/>
<circle cx="86.2" cy="506.3" r="3.7" fill="url(#g_ni)"/>
<circle cx="106.5" cy="506.3" r="3.7" fill="url(#g_ni)"/>
<circle cx="35.4" cy="511.1" r="3.4" fill="url(#g_au)"/>
<circle cx="55.7" cy="511.1" r="3.4" fill="url(#g_au)"/>
<circle cx="76.0" cy="511.1" r="3.4" fill="url(#g_au)"/>
<circle cx="96.3" cy="511.1" r="3.4" fill="url(#g_au)"/>
<circle cx="116.7" cy="511.1" r="3.4" fill="url(#g_au)"/>
<circle cx="25.3" cy="491.4" r="3.9" fill="url(#g_ni)"/>
<circle cx="45.6" cy="491.4" r="3.9" fill="url(#g_ni)"/>
<circle cx="65.9" cy="491.4" r="3.9" fill="url(#g_ni)"/>
<circle cx="86.2" cy="491.4" r="3.9" fill="url(#g_ni)"/>
<circle cx="106.5" cy="491.4" r="3.9" fill="url(#g_ni)"/>
</g>
<rect x="34.3" y="483.4" width="7.2" height="6.4" fill="#767271"/>
<text x="37.9" y="488.3" fill="#fff" font-size="5.0" text-anchor="middle" font-weight="normal" >9</text>
<circle cx="43.6" cy="486.6" r="3.6" fill="url(#g_h)"/>
<circle cx="42.6" cy="495.1" r="3.5" fill="url(#g_c)"/>
<circle cx="66.0" cy="495.9" r="3.7" fill="url(#g_o)"/>
<clipPath id="cl27"><rect x="91.2" y="483.4" width="52.4" height="34.9"/></clipPath>
<g clip-path="url(#cl27)">
<line x1="91.2" y1="491.4" x2="143.6" y2="491.4" stroke="#6e87c2" stroke-width="1.4"/>
<line x1="91.2" y1="499.0" x2="143.6" y2="499.0" stroke="#6e87c2" stroke-width="1.3"/>
<line x1="91.2" y1="500.9" x2="143.6" y2="500.9" stroke="#6e87c2" stroke-width="1.3"/>
<line x1="91.2" y1="507.1" x2="143.6" y2="507.1" stroke="#6e87c2" stroke-width="1.0"/>
<line x1="91.2" y1="518.5" x2="143.6" y2="518.5" stroke="#6e87c2" stroke-width="1.4"/>
<path d="M82.2,491.4 L92.3,499.9 L102.5,491.4 M82.2,491.4 L82.2,506.3 M72.0,499.9 L82.2,506.3 L92.3,499.9 M82.2,506.3 L92.3,511.1 M82.2,506.3 L72.0,511.1 M92.3,511.1 L82.2,518.5 L72.0,511.1 M82.2,491.4 L97.4,506.3 M82.2,491.4 L66.9,506.3 M102.5,491.4 L112.6,499.9 L122.8,491.4 M102.5,491.4 L102.5,506.3 M92.3,499.9 L102.5,506.3 L112.6,499.9 M102.5,506.3 L112.6,511.1 M102.5,506.3 L92.3,511.1 M112.6,511.1 L102.5,518.5 L92.3,511.1 M102.5,491.4 L117.7,506.3 M102.5,491.4 L87.2,506.3 M122.8,491.4 L132.9,499.9 L143.1,491.4 M122.8,491.4 L122.8,506.3 M112.6,499.9 L122.8,506.3 L132.9,499.9 M122.8,506.3 L132.9,511.1 M122.8,506.3 L112.6,511.1 M132.9,511.1 L122.8,518.5 L112.6,511.1 M122.8,491.4 L138.0,506.3 M122.8,491.4 L107.5,506.3 M143.1,491.4 L153.2,499.9 L163.4,491.4 M143.1,491.4 L143.1,506.3 M132.9,499.9 L143.1,506.3 L153.2,499.9 M143.1,506.3 L153.2,511.1 M143.1,506.3 L132.9,511.1 M153.2,511.1 L143.1,518.5 L132.9,511.1 M143.1,491.4 L158.3,506.3 M143.1,491.4 L127.8,506.3 M163.4,491.4 L173.5,499.9 L183.7,491.4 M163.4,491.4 L163.4,506.3 M153.2,499.9 L163.4,506.3 L173.5,499.9 M163.4,506.3 L173.5,511.1 M163.4,506.3 L153.2,511.1 M173.5,511.1 L163.4,518.5 L153.2,511.1 M163.4,491.4 L178.6,506.3 M163.4,491.4 L148.1,506.3 " stroke="#6e87c2" stroke-width="1.4" fill="none"/>
<line x1="91.2" y1="511.4" x2="143.6" y2="511.4" stroke="#e2b522" stroke-width="1.2"/>
<line x1="82.2" y1="515.7" x2="82.2" y2="518.5" stroke="#e2b522" stroke-width="1.3"/>
<line x1="102.5" y1="515.7" x2="102.5" y2="518.5" stroke="#e2b522" stroke-width="1.3"/>
<line x1="122.8" y1="515.7" x2="122.8" y2="518.5" stroke="#e2b522" stroke-width="1.3"/>
<line x1="143.1" y1="515.7" x2="143.1" y2="518.5" stroke="#e2b522" stroke-width="1.3"/>
<line x1="163.4" y1="515.7" x2="163.4" y2="518.5" stroke="#e2b522" stroke-width="1.3"/>
<circle cx="92.3" cy="520.1" r="3.0" fill="url(#g_ni)"/>
<circle cx="112.6" cy="520.1" r="3.0" fill="url(#g_ni)"/>
<circle cx="132.9" cy="520.1" r="3.0" fill="url(#g_ni)"/>
<circle cx="153.2" cy="520.1" r="3.0" fill="url(#g_ni)"/>
<circle cx="173.5" cy="520.1" r="3.0" fill="url(#g_ni)"/>
<circle cx="92.3" cy="499.9" r="3.6" fill="url(#g_ni)"/>
<circle cx="112.6" cy="499.9" r="3.6" fill="url(#g_ni)"/>
<circle cx="132.9" cy="499.9" r="3.6" fill="url(#g_ni)"/>
<circle cx="153.2" cy="499.9" r="3.6" fill="url(#g_ni)"/>
<circle cx="173.5" cy="499.9" r="3.6" fill="url(#g_ni)"/>
<circle cx="82.2" cy="506.3" r="3.7" fill="url(#g_ni)"/>
<circle cx="102.5" cy="506.3" r="3.7" fill="url(#g_ni)"/>
<circle cx="122.8" cy="506.3" r="3.7" fill="url(#g_ni)"/>
<circle cx="143.1" cy="506.3" r="3.7" fill="url(#g_ni)"/>
<circle cx="163.4" cy="506.3" r="3.7" fill="url(#g_ni)"/>
<circle cx="92.3" cy="511.1" r="3.4" fill="url(#g_au)"/>
<circle cx="112.6" cy="511.1" r="3.4" fill="url(#g_au)"/>
<circle cx="132.9" cy="511.1" r="3.4" fill="url(#g_au)"/>
<circle cx="153.2" cy="511.1" r="3.4" fill="url(#g_au)"/>
<circle cx="173.5" cy="511.1" r="3.4" fill="url(#g_au)"/>
<circle cx="82.2" cy="491.4" r="3.9" fill="url(#g_ni)"/>
<circle cx="102.5" cy="491.4" r="3.9" fill="url(#g_ni)"/>
<circle cx="122.8" cy="491.4" r="3.9" fill="url(#g_ni)"/>
<circle cx="143.1" cy="491.4" r="3.9" fill="url(#g_ni)"/>
<circle cx="163.4" cy="491.4" r="3.9" fill="url(#g_ni)"/>
</g>
<rect x="91.2" y="483.4" width="7.2" height="6.4" fill="#767271"/>
<text x="94.8" y="488.3" fill="#fff" font-size="4.4" text-anchor="middle" font-weight="normal" >10</text>
<circle cx="112.7" cy="488.3" r="3.6" fill="url(#g_h)"/>
<circle cx="112.7" cy="496.0" r="3.5" fill="url(#g_c)"/>
<clipPath id="cl28"><rect x="148.0" y="483.4" width="52.4" height="34.9"/></clipPath>
<g clip-path="url(#cl28)">
<line x1="148.0" y1="491.4" x2="200.4" y2="491.4" stroke="#6e87c2" stroke-width="1.4"/>
<line x1="148.0" y1="499.0" x2="200.4" y2="499.0" stroke="#6e87c2" stroke-width="1.3"/>
<line x1="148.0" y1="500.9" x2="200.4" y2="500.9" stroke="#6e87c2" stroke-width="1.3"/>
<line x1="148.0" y1="507.1" x2="200.4" y2="507.1" stroke="#6e87c2" stroke-width="1.0"/>
<line x1="148.0" y1="518.5" x2="200.4" y2="518.5" stroke="#6e87c2" stroke-width="1.4"/>
<path d="M139.0,491.4 L149.2,499.9 L159.3,491.4 M139.0,491.4 L139.0,506.3 M128.9,499.9 L139.0,506.3 L149.2,499.9 M139.0,506.3 L149.2,511.1 M139.0,506.3 L128.9,511.1 M149.2,511.1 L139.0,518.5 L128.9,511.1 M139.0,491.4 L154.2,506.3 M139.0,491.4 L123.8,506.3 M159.3,491.4 L169.5,499.9 L179.6,491.4 M159.3,491.4 L159.3,506.3 M149.2,499.9 L159.3,506.3 L169.5,499.9 M159.3,506.3 L169.5,511.1 M159.3,506.3 L149.2,511.1 M169.5,511.1 L159.3,518.5 L149.2,511.1 M159.3,491.4 L174.5,506.3 M159.3,491.4 L144.1,506.3 M179.6,491.4 L189.8,499.9 L199.9,491.4 M179.6,491.4 L179.6,506.3 M169.5,499.9 L179.6,506.3 L189.8,499.9 M179.6,506.3 L189.8,511.1 M179.6,506.3 L169.5,511.1 M189.8,511.1 L179.6,518.5 L169.5,511.1 M179.6,491.4 L194.8,506.3 M179.6,491.4 L164.4,506.3 M199.9,491.4 L210.1,499.9 L220.2,491.4 M199.9,491.4 L199.9,506.3 M189.8,499.9 L199.9,506.3 L210.1,499.9 M199.9,506.3 L210.1,511.1 M199.9,506.3 L189.8,511.1 M210.1,511.1 L199.9,518.5 L189.8,511.1 M199.9,491.4 L215.1,506.3 M199.9,491.4 L184.7,506.3 M220.2,491.4 L230.4,499.9 L240.5,491.4 M220.2,491.4 L220.2,506.3 M210.1,499.9 L220.2,506.3 L230.4,499.9 M220.2,506.3 L230.4,511.1 M220.2,506.3 L210.1,511.1 M230.4,511.1 L220.2,518.5 L210.1,511.1 M220.2,491.4 L235.4,506.3 M220.2,491.4 L205.0,506.3 " stroke="#6e87c2" stroke-width="1.4" fill="none"/>
<line x1="148.0" y1="511.4" x2="200.4" y2="511.4" stroke="#e2b522" stroke-width="1.2"/>
<line x1="139.0" y1="515.7" x2="139.0" y2="518.5" stroke="#e2b522" stroke-width="1.3"/>
<line x1="159.3" y1="515.7" x2="159.3" y2="518.5" stroke="#e2b522" stroke-width="1.3"/>
<line x1="179.6" y1="515.7" x2="179.6" y2="518.5" stroke="#e2b522" stroke-width="1.3"/>
<line x1="199.9" y1="515.7" x2="199.9" y2="518.5" stroke="#e2b522" stroke-width="1.3"/>
<line x1="220.2" y1="515.7" x2="220.2" y2="518.5" stroke="#e2b522" stroke-width="1.3"/>
<circle cx="149.2" cy="520.1" r="3.0" fill="url(#g_ni)"/>
<circle cx="169.5" cy="520.1" r="3.0" fill="url(#g_ni)"/>
<circle cx="189.8" cy="520.1" r="3.0" fill="url(#g_ni)"/>
<circle cx="210.1" cy="520.1" r="3.0" fill="url(#g_ni)"/>
<circle cx="230.4" cy="520.1" r="3.0" fill="url(#g_ni)"/>
<circle cx="149.2" cy="499.9" r="3.6" fill="url(#g_ni)"/>
<circle cx="169.5" cy="499.9" r="3.6" fill="url(#g_ni)"/>
<circle cx="189.8" cy="499.9" r="3.6" fill="url(#g_ni)"/>
<circle cx="210.1" cy="499.9" r="3.6" fill="url(#g_ni)"/>
<circle cx="230.4" cy="499.9" r="3.6" fill="url(#g_ni)"/>
<circle cx="139.0" cy="506.3" r="3.7" fill="url(#g_ni)"/>
<circle cx="159.3" cy="506.3" r="3.7" fill="url(#g_ni)"/>
<circle cx="179.6" cy="506.3" r="3.7" fill="url(#g_ni)"/>
<circle cx="199.9" cy="506.3" r="3.7" fill="url(#g_ni)"/>
<circle cx="220.2" cy="506.3" r="3.7" fill="url(#g_ni)"/>
<circle cx="149.2" cy="511.1" r="3.4" fill="url(#g_au)"/>
<circle cx="169.5" cy="511.1" r="3.4" fill="url(#g_au)"/>
<circle cx="189.8" cy="511.1" r="3.4" fill="url(#g_au)"/>
<circle cx="210.1" cy="511.1" r="3.4" fill="url(#g_au)"/>
<circle cx="230.4" cy="511.1" r="3.4" fill="url(#g_au)"/>
<circle cx="139.0" cy="491.4" r="3.9" fill="url(#g_ni)"/>
<circle cx="159.3" cy="491.4" r="3.9" fill="url(#g_ni)"/>
<circle cx="179.6" cy="491.4" r="3.9" fill="url(#g_ni)"/>
<circle cx="199.9" cy="491.4" r="3.9" fill="url(#g_ni)"/>
<circle cx="220.2" cy="491.4" r="3.9" fill="url(#g_ni)"/>
</g>
<rect x="148.0" y="483.4" width="7.2" height="6.4" fill="#767271"/>
<text x="151.6" y="488.3" fill="#fff" font-size="4.4" text-anchor="middle" font-weight="normal" >11</text>
<circle cx="166.5" cy="486.6" r="3.6" fill="url(#g_h)"/>
<circle cx="159.8" cy="493.4" r="3.6" fill="url(#g_h)"/>
<circle cx="168.2" cy="493.4" r="3.5" fill="url(#g_c)"/>
<circle cx="176.7" cy="493.4" r="3.7" fill="url(#g_o)"/>
<clipPath id="cl29"><rect x="204.9" y="483.4" width="52.4" height="34.9"/></clipPath>
<g clip-path="url(#cl29)">
<line x1="204.9" y1="491.4" x2="257.3" y2="491.4" stroke="#6e87c2" stroke-width="1.4"/>
<line x1="204.9" y1="499.0" x2="257.3" y2="499.0" stroke="#6e87c2" stroke-width="1.3"/>
<line x1="204.9" y1="500.9" x2="257.3" y2="500.9" stroke="#6e87c2" stroke-width="1.3"/>
<line x1="204.9" y1="507.1" x2="257.3" y2="507.1" stroke="#6e87c2" stroke-width="1.0"/>
<line x1="204.9" y1="518.5" x2="257.3" y2="518.5" stroke="#6e87c2" stroke-width="1.4"/>
<path d="M195.9,491.4 L206.0,499.9 L216.2,491.4 M195.9,491.4 L195.9,506.3 M185.7,499.9 L195.9,506.3 L206.0,499.9 M195.9,506.3 L206.0,511.1 M195.9,506.3 L185.7,511.1 M206.0,511.1 L195.9,518.5 L185.7,511.1 M195.9,491.4 L211.1,506.3 M195.9,491.4 L180.7,506.3 M216.2,491.4 L226.3,499.9 L236.5,491.4 M216.2,491.4 L216.2,506.3 M206.0,499.9 L216.2,506.3 L226.3,499.9 M216.2,506.3 L226.3,511.1 M216.2,506.3 L206.0,511.1 M226.3,511.1 L216.2,518.5 L206.0,511.1 M216.2,491.4 L231.4,506.3 M216.2,491.4 L201.0,506.3 M236.5,491.4 L246.6,499.9 L256.8,491.4 M236.5,491.4 L236.5,506.3 M226.3,499.9 L236.5,506.3 L246.6,499.9 M236.5,506.3 L246.6,511.1 M236.5,506.3 L226.3,511.1 M246.6,511.1 L236.5,518.5 L226.3,511.1 M236.5,491.4 L251.7,506.3 M236.5,491.4 L221.3,506.3 M256.8,491.4 L266.9,499.9 L277.1,491.4 M256.8,491.4 L256.8,506.3 M246.6,499.9 L256.8,506.3 L266.9,499.9 M256.8,506.3 L266.9,511.1 M256.8,506.3 L246.6,511.1 M266.9,511.1 L256.8,518.5 L246.6,511.1 M256.8,491.4 L272.0,506.3 M256.8,491.4 L241.6,506.3 M277.1,491.4 L287.2,499.9 L297.4,491.4 M277.1,491.4 L277.1,506.3 M266.9,499.9 L277.1,506.3 L287.2,499.9 M277.1,506.3 L287.2,511.1 M277.1,506.3 L266.9,511.1 M287.2,511.1 L277.1,518.5 L266.9,511.1 M277.1,491.4 L292.3,506.3 M277.1,491.4 L261.9,506.3 " stroke="#6e87c2" stroke-width="1.4" fill="none"/>
<line x1="204.9" y1="511.4" x2="257.3" y2="511.4" stroke="#e2b522" stroke-width="1.2"/>
<line x1="195.9" y1="515.7" x2="195.9" y2="518.5" stroke="#e2b522" stroke-width="1.3"/>
<line x1="216.2" y1="515.7" x2="216.2" y2="518.5" stroke="#e2b522" stroke-width="1.3"/>
<line x1="236.5" y1="515.7" x2="236.5" y2="518.5" stroke="#e2b522" stroke-width="1.3"/>
<line x1="256.8" y1="515.7" x2="256.8" y2="518.5" stroke="#e2b522" stroke-width="1.3"/>
<line x1="277.1" y1="515.7" x2="277.1" y2="518.5" stroke="#e2b522" stroke-width="1.3"/>
<circle cx="206.0" cy="520.1" r="3.0" fill="url(#g_ni)"/>
<circle cx="226.3" cy="520.1" r="3.0" fill="url(#g_ni)"/>
<circle cx="246.6" cy="520.1" r="3.0" fill="url(#g_ni)"/>
<circle cx="266.9" cy="520.1" r="3.0" fill="url(#g_ni)"/>
<circle cx="287.2" cy="520.1" r="3.0" fill="url(#g_ni)"/>
<circle cx="206.0" cy="499.9" r="3.6" fill="url(#g_ni)"/>
<circle cx="226.3" cy="499.9" r="3.6" fill="url(#g_ni)"/>
<circle cx="246.6" cy="499.9" r="3.6" fill="url(#g_ni)"/>
<circle cx="266.9" cy="499.9" r="3.6" fill="url(#g_ni)"/>
<circle cx="287.2" cy="499.9" r="3.6" fill="url(#g_ni)"/>
<circle cx="195.9" cy="506.3" r="3.7" fill="url(#g_ni)"/>
<circle cx="216.2" cy="506.3" r="3.7" fill="url(#g_ni)"/>
<circle cx="236.5" cy="506.3" r="3.7" fill="url(#g_ni)"/>
<circle cx="256.8" cy="506.3" r="3.7" fill="url(#g_ni)"/>
<circle cx="277.1" cy="506.3" r="3.7" fill="url(#g_ni)"/>
<circle cx="206.0" cy="511.1" r="3.4" fill="url(#g_au)"/>
<circle cx="226.3" cy="511.1" r="3.4" fill="url(#g_au)"/>
<circle cx="246.6" cy="511.1" r="3.4" fill="url(#g_au)"/>
<circle cx="266.9" cy="511.1" r="3.4" fill="url(#g_au)"/>
<circle cx="287.2" cy="511.1" r="3.4" fill="url(#g_au)"/>
<circle cx="195.9" cy="491.4" r="3.9" fill="url(#g_ni)"/>
<circle cx="216.2" cy="491.4" r="3.9" fill="url(#g_ni)"/>
<circle cx="236.5" cy="491.4" r="3.9" fill="url(#g_ni)"/>
<circle cx="256.8" cy="491.4" r="3.9" fill="url(#g_ni)"/>
<circle cx="277.1" cy="491.4" r="3.9" fill="url(#g_ni)"/>
</g>
<rect x="204.9" y="483.4" width="7.2" height="6.4" fill="#767271"/>
<text x="208.5" y="488.3" fill="#fff" font-size="4.4" text-anchor="middle" font-weight="normal" >12</text>
<circle cx="215.4" cy="490.9" r="3.6" fill="url(#g_h)"/>
<circle cx="236.1" cy="486.1" r="3.6" fill="url(#g_h)"/>
<circle cx="236.1" cy="494.3" r="3.5" fill="url(#g_c)"/>
<clipPath id="cl30"><rect x="261.7" y="483.4" width="52.4" height="34.9"/></clipPath>
<g clip-path="url(#cl30)">
<line x1="261.7" y1="491.4" x2="314.1" y2="491.4" stroke="#6e87c2" stroke-width="1.4"/>
<line x1="261.7" y1="499.0" x2="314.1" y2="499.0" stroke="#6e87c2" stroke-width="1.3"/>
<line x1="261.7" y1="500.9" x2="314.1" y2="500.9" stroke="#6e87c2" stroke-width="1.3"/>
<line x1="261.7" y1="507.1" x2="314.1" y2="507.1" stroke="#6e87c2" stroke-width="1.0"/>
<line x1="261.7" y1="518.5" x2="314.1" y2="518.5" stroke="#6e87c2" stroke-width="1.4"/>
<path d="M252.7,491.4 L262.9,499.9 L273.0,491.4 M252.7,491.4 L252.7,506.3 M242.6,499.9 L252.7,506.3 L262.9,499.9 M252.7,506.3 L262.9,511.1 M252.7,506.3 L242.6,511.1 M262.9,511.1 L252.7,518.5 L242.6,511.1 M252.7,491.4 L268.0,506.3 M252.7,491.4 L237.5,506.3 M273.0,491.4 L283.2,499.9 L293.3,491.4 M273.0,491.4 L273.0,506.3 M262.9,499.9 L273.0,506.3 L283.2,499.9 M273.0,506.3 L283.2,511.1 M273.0,506.3 L262.9,511.1 M283.2,511.1 L273.0,518.5 L262.9,511.1 M273.0,491.4 L288.3,506.3 M273.0,491.4 L257.8,506.3 M293.3,491.4 L303.5,499.9 L313.6,491.4 M293.3,491.4 L293.3,506.3 M283.2,499.9 L293.3,506.3 L303.5,499.9 M293.3,506.3 L303.5,511.1 M293.3,506.3 L283.2,511.1 M303.5,511.1 L293.3,518.5 L283.2,511.1 M293.3,491.4 L308.6,506.3 M293.3,491.4 L278.1,506.3 M313.6,491.4 L323.8,499.9 L333.9,491.4 M313.6,491.4 L313.6,506.3 M303.5,499.9 L313.6,506.3 L323.8,499.9 M313.6,506.3 L323.8,511.1 M313.6,506.3 L303.5,511.1 M323.8,511.1 L313.6,518.5 L303.5,511.1 M313.6,491.4 L328.9,506.3 M313.6,491.4 L298.4,506.3 M333.9,491.4 L344.1,499.9 L354.2,491.4 M333.9,491.4 L333.9,506.3 M323.8,499.9 L333.9,506.3 L344.1,499.9 M333.9,506.3 L344.1,511.1 M333.9,506.3 L323.8,511.1 M344.1,511.1 L333.9,518.5 L323.8,511.1 M333.9,491.4 L349.2,506.3 M333.9,491.4 L318.7,506.3 " stroke="#6e87c2" stroke-width="1.4" fill="none"/>
<line x1="261.7" y1="511.4" x2="314.1" y2="511.4" stroke="#e2b522" stroke-width="1.2"/>
<line x1="252.7" y1="515.7" x2="252.7" y2="518.5" stroke="#e2b522" stroke-width="1.3"/>
<line x1="273.0" y1="515.7" x2="273.0" y2="518.5" stroke="#e2b522" stroke-width="1.3"/>
<line x1="293.3" y1="515.7" x2="293.3" y2="518.5" stroke="#e2b522" stroke-width="1.3"/>
<line x1="313.6" y1="515.7" x2="313.6" y2="518.5" stroke="#e2b522" stroke-width="1.3"/>
<line x1="333.9" y1="515.7" x2="333.9" y2="518.5" stroke="#e2b522" stroke-width="1.3"/>
<circle cx="262.9" cy="520.1" r="3.0" fill="url(#g_ni)"/>
<circle cx="283.2" cy="520.1" r="3.0" fill="url(#g_ni)"/>
<circle cx="303.5" cy="520.1" r="3.0" fill="url(#g_ni)"/>
<circle cx="323.8" cy="520.1" r="3.0" fill="url(#g_ni)"/>
<circle cx="344.1" cy="520.1" r="3.0" fill="url(#g_ni)"/>
<circle cx="262.9" cy="499.9" r="3.6" fill="url(#g_ni)"/>
<circle cx="283.2" cy="499.9" r="3.6" fill="url(#g_ni)"/>
<circle cx="303.5" cy="499.9" r="3.6" fill="url(#g_ni)"/>
<circle cx="323.8" cy="499.9" r="3.6" fill="url(#g_ni)"/>
<circle cx="344.1" cy="499.9" r="3.6" fill="url(#g_ni)"/>
<circle cx="252.7" cy="506.3" r="3.7" fill="url(#g_ni)"/>
<circle cx="273.0" cy="506.3" r="3.7" fill="url(#g_ni)"/>
<circle cx="293.3" cy="506.3" r="3.7" fill="url(#g_ni)"/>
<circle cx="313.6" cy="506.3" r="3.7" fill="url(#g_ni)"/>
<circle cx="333.9" cy="506.3" r="3.7" fill="url(#g_ni)"/>
<circle cx="262.9" cy="511.1" r="3.4" fill="url(#g_au)"/>
<circle cx="283.2" cy="511.1" r="3.4" fill="url(#g_au)"/>
<circle cx="303.5" cy="511.1" r="3.4" fill="url(#g_au)"/>
<circle cx="323.8" cy="511.1" r="3.4" fill="url(#g_au)"/>
<circle cx="344.1" cy="511.1" r="3.4" fill="url(#g_au)"/>
<circle cx="252.7" cy="491.4" r="3.9" fill="url(#g_ni)"/>
<circle cx="273.0" cy="491.4" r="3.9" fill="url(#g_ni)"/>
<circle cx="293.3" cy="491.4" r="3.9" fill="url(#g_ni)"/>
<circle cx="313.6" cy="491.4" r="3.9" fill="url(#g_ni)"/>
<circle cx="333.9" cy="491.4" r="3.9" fill="url(#g_ni)"/>
</g>
<rect x="261.7" y="483.4" width="7.2" height="6.4" fill="#767271"/>
<text x="265.3" y="488.3" fill="#fff" font-size="4.4" text-anchor="middle" font-weight="normal" >13</text>
<circle cx="278.9" cy="490.0" r="3.6" fill="url(#g_h)"/>
<circle cx="283.2" cy="488.3" r="3.6" fill="url(#g_h)"/>
<circle cx="280.6" cy="495.1" r="3.5" fill="url(#g_c)"/>
<circle cx="304.4" cy="496.8" r="3.7" fill="url(#g_o)"/>
<clipPath id="cl31"><rect x="318.6" y="483.4" width="52.4" height="34.9"/></clipPath>
<g clip-path="url(#cl31)">
<line x1="318.6" y1="491.4" x2="371.0" y2="491.4" stroke="#6e87c2" stroke-width="1.4"/>
<line x1="318.6" y1="499.0" x2="371.0" y2="499.0" stroke="#6e87c2" stroke-width="1.3"/>
<line x1="318.6" y1="500.9" x2="371.0" y2="500.9" stroke="#6e87c2" stroke-width="1.3"/>
<line x1="318.6" y1="507.1" x2="371.0" y2="507.1" stroke="#6e87c2" stroke-width="1.0"/>
<line x1="318.6" y1="518.5" x2="371.0" y2="518.5" stroke="#6e87c2" stroke-width="1.4"/>
<path d="M309.6,491.4 L319.8,499.9 L329.9,491.4 M309.6,491.4 L309.6,506.3 M299.5,499.9 L309.6,506.3 L319.8,499.9 M309.6,506.3 L319.8,511.1 M309.6,506.3 L299.5,511.1 M319.8,511.1 L309.6,518.5 L299.5,511.1 M309.6,491.4 L324.8,506.3 M309.6,491.4 L294.4,506.3 M329.9,491.4 L340.1,499.9 L350.2,491.4 M329.9,491.4 L329.9,506.3 M319.8,499.9 L329.9,506.3 L340.1,499.9 M329.9,506.3 L340.1,511.1 M329.9,506.3 L319.8,511.1 M340.1,511.1 L329.9,518.5 L319.8,511.1 M329.9,491.4 L345.1,506.3 M329.9,491.4 L314.7,506.3 M350.2,491.4 L360.4,499.9 L370.5,491.4 M350.2,491.4 L350.2,506.3 M340.1,499.9 L350.2,506.3 L360.4,499.9 M350.2,506.3 L360.4,511.1 M350.2,506.3 L340.1,511.1 M360.4,511.1 L350.2,518.5 L340.1,511.1 M350.2,491.4 L365.4,506.3 M350.2,491.4 L335.0,506.3 M370.5,491.4 L380.7,499.9 L390.8,491.4 M370.5,491.4 L370.5,506.3 M360.4,499.9 L370.5,506.3 L380.7,499.9 M370.5,506.3 L380.7,511.1 M370.5,506.3 L360.4,511.1 M380.7,511.1 L370.5,518.5 L360.4,511.1 M370.5,491.4 L385.7,506.3 M370.5,491.4 L355.3,506.3 M390.8,491.4 L401.0,499.9 L411.1,491.4 M390.8,491.4 L390.8,506.3 M380.7,499.9 L390.8,506.3 L401.0,499.9 M390.8,506.3 L401.0,511.1 M390.8,506.3 L380.7,511.1 M401.0,511.1 L390.8,518.5 L380.7,511.1 M390.8,491.4 L406.0,506.3 M390.8,491.4 L375.6,506.3 " stroke="#6e87c2" stroke-width="1.4" fill="none"/>
<line x1="318.6" y1="511.4" x2="371.0" y2="511.4" stroke="#e2b522" stroke-width="1.2"/>
<line x1="309.6" y1="515.7" x2="309.6" y2="518.5" stroke="#e2b522" stroke-width="1.3"/>
<line x1="329.9" y1="515.7" x2="329.9" y2="518.5" stroke="#e2b522" stroke-width="1.3"/>
<line x1="350.2" y1="515.7" x2="350.2" y2="518.5" stroke="#e2b522" stroke-width="1.3"/>
<line x1="370.5" y1="515.7" x2="370.5" y2="518.5" stroke="#e2b522" stroke-width="1.3"/>
<line x1="390.8" y1="515.7" x2="390.8" y2="518.5" stroke="#e2b522" stroke-width="1.3"/>
<circle cx="319.8" cy="520.1" r="3.0" fill="url(#g_ni)"/>
<circle cx="340.1" cy="520.1" r="3.0" fill="url(#g_ni)"/>
<circle cx="360.4" cy="520.1" r="3.0" fill="url(#g_ni)"/>
<circle cx="380.7" cy="520.1" r="3.0" fill="url(#g_ni)"/>
<circle cx="401.0" cy="520.1" r="3.0" fill="url(#g_ni)"/>
<circle cx="319.8" cy="499.9" r="3.6" fill="url(#g_ni)"/>
<circle cx="340.1" cy="499.9" r="3.6" fill="url(#g_ni)"/>
<circle cx="360.4" cy="499.9" r="3.6" fill="url(#g_ni)"/>
<circle cx="380.7" cy="499.9" r="3.6" fill="url(#g_ni)"/>
<circle cx="401.0" cy="499.9" r="3.6" fill="url(#g_ni)"/>
<circle cx="309.6" cy="506.3" r="3.7" fill="url(#g_ni)"/>
<circle cx="329.9" cy="506.3" r="3.7" fill="url(#g_ni)"/>
<circle cx="350.2" cy="506.3" r="3.7" fill="url(#g_ni)"/>
<circle cx="370.5" cy="506.3" r="3.7" fill="url(#g_ni)"/>
<circle cx="390.8" cy="506.3" r="3.7" fill="url(#g_ni)"/>
<circle cx="319.8" cy="511.1" r="3.4" fill="url(#g_au)"/>
<circle cx="340.1" cy="511.1" r="3.4" fill="url(#g_au)"/>
<circle cx="360.4" cy="511.1" r="3.4" fill="url(#g_au)"/>
<circle cx="380.7" cy="511.1" r="3.4" fill="url(#g_au)"/>
<circle cx="401.0" cy="511.1" r="3.4" fill="url(#g_au)"/>
<circle cx="309.6" cy="491.4" r="3.9" fill="url(#g_ni)"/>
<circle cx="329.9" cy="491.4" r="3.9" fill="url(#g_ni)"/>
<circle cx="350.2" cy="491.4" r="3.9" fill="url(#g_ni)"/>
<circle cx="370.5" cy="491.4" r="3.9" fill="url(#g_ni)"/>
<circle cx="390.8" cy="491.4" r="3.9" fill="url(#g_ni)"/>
</g>
<rect x="318.6" y="483.4" width="7.2" height="6.4" fill="#767271"/>
<text x="322.2" y="488.3" fill="#fff" font-size="4.4" text-anchor="middle" font-weight="normal" >14</text>
<circle cx="342.6" cy="489.2" r="3.6" fill="url(#g_h)"/>
<circle cx="354.5" cy="487.5" r="3.6" fill="url(#g_h)"/>
<circle cx="350.2" cy="493.4" r="3.5" fill="url(#g_c)"/>
<clipPath id="cl32"><rect x="375.5" y="483.4" width="52.4" height="34.9"/></clipPath>
<g clip-path="url(#cl32)">
<line x1="375.5" y1="491.4" x2="427.9" y2="491.4" stroke="#6e87c2" stroke-width="1.4"/>
<line x1="375.5" y1="499.0" x2="427.9" y2="499.0" stroke="#6e87c2" stroke-width="1.3"/>
<line x1="375.5" y1="500.9" x2="427.9" y2="500.9" stroke="#6e87c2" stroke-width="1.3"/>
<line x1="375.5" y1="507.1" x2="427.9" y2="507.1" stroke="#6e87c2" stroke-width="1.0"/>
<line x1="375.5" y1="518.5" x2="427.9" y2="518.5" stroke="#6e87c2" stroke-width="1.4"/>
<path d="M355.9,491.4 L366.0,499.9 L376.2,491.4 M355.9,491.4 L355.9,506.3 M345.7,499.9 L355.9,506.3 L366.0,499.9 M355.9,506.3 L366.0,511.1 M355.9,506.3 L345.7,511.1 M366.0,511.1 L355.9,518.5 L345.7,511.1 M355.9,491.4 L371.1,506.3 M355.9,491.4 L340.6,506.3 M376.2,491.4 L386.3,499.9 L396.5,491.4 M376.2,491.4 L376.2,506.3 M366.0,499.9 L376.2,506.3 L386.3,499.9 M376.2,506.3 L386.3,511.1 M376.2,506.3 L366.0,511.1 M386.3,511.1 L376.2,518.5 L366.0,511.1 M376.2,491.4 L391.4,506.3 M376.2,491.4 L360.9,506.3 M396.5,491.4 L406.6,499.9 L416.8,491.4 M396.5,491.4 L396.5,506.3 M386.3,499.9 L396.5,506.3 L406.6,499.9 M396.5,506.3 L406.6,511.1 M396.5,506.3 L386.3,511.1 M406.6,511.1 L396.5,518.5 L386.3,511.1 M396.5,491.4 L411.7,506.3 M396.5,491.4 L381.2,506.3 M416.8,491.4 L426.9,499.9 L437.1,491.4 M416.8,491.4 L416.8,506.3 M406.6,499.9 L416.8,506.3 L426.9,499.9 M416.8,506.3 L426.9,511.1 M416.8,506.3 L406.6,511.1 M426.9,511.1 L416.8,518.5 L406.6,511.1 M416.8,491.4 L432.0,506.3 M416.8,491.4 L401.5,506.3 M437.1,491.4 L447.2,499.9 L457.4,491.4 M437.1,491.4 L437.1,506.3 M426.9,499.9 L437.1,506.3 L447.2,499.9 M437.1,506.3 L447.2,511.1 M437.1,506.3 L426.9,511.1 M447.2,511.1 L437.1,518.5 L426.9,511.1 M437.1,491.4 L452.3,506.3 M437.1,491.4 L421.8,506.3 " stroke="#6e87c2" stroke-width="1.4" fill="none"/>
<line x1="375.5" y1="511.4" x2="427.9" y2="511.4" stroke="#e2b522" stroke-width="1.2"/>
<line x1="355.9" y1="515.7" x2="355.9" y2="518.5" stroke="#e2b522" stroke-width="1.3"/>
<line x1="376.2" y1="515.7" x2="376.2" y2="518.5" stroke="#e2b522" stroke-width="1.3"/>
<line x1="396.5" y1="515.7" x2="396.5" y2="518.5" stroke="#e2b522" stroke-width="1.3"/>
<line x1="416.8" y1="515.7" x2="416.8" y2="518.5" stroke="#e2b522" stroke-width="1.3"/>
<line x1="437.1" y1="515.7" x2="437.1" y2="518.5" stroke="#e2b522" stroke-width="1.3"/>
<circle cx="366.0" cy="520.1" r="3.0" fill="url(#g_ni)"/>
<circle cx="386.3" cy="520.1" r="3.0" fill="url(#g_ni)"/>
<circle cx="406.6" cy="520.1" r="3.0" fill="url(#g_ni)"/>
<circle cx="426.9" cy="520.1" r="3.0" fill="url(#g_ni)"/>
<circle cx="447.2" cy="520.1" r="3.0" fill="url(#g_ni)"/>
<circle cx="366.0" cy="499.9" r="3.6" fill="url(#g_ni)"/>
<circle cx="386.3" cy="499.9" r="3.6" fill="url(#g_ni)"/>
<circle cx="406.6" cy="499.9" r="3.6" fill="url(#g_ni)"/>
<circle cx="426.9" cy="499.9" r="3.6" fill="url(#g_ni)"/>
<circle cx="447.2" cy="499.9" r="3.6" fill="url(#g_ni)"/>
<circle cx="355.9" cy="506.3" r="3.7" fill="url(#g_ni)"/>
<circle cx="376.2" cy="506.3" r="3.7" fill="url(#g_ni)"/>
<circle cx="396.5" cy="506.3" r="3.7" fill="url(#g_ni)"/>
<circle cx="416.8" cy="506.3" r="3.7" fill="url(#g_ni)"/>
<circle cx="437.1" cy="506.3" r="3.7" fill="url(#g_ni)"/>
<circle cx="366.0" cy="511.1" r="3.4" fill="url(#g_au)"/>
<circle cx="386.3" cy="511.1" r="3.4" fill="url(#g_au)"/>
<circle cx="406.6" cy="511.1" r="3.4" fill="url(#g_au)"/>
<circle cx="426.9" cy="511.1" r="3.4" fill="url(#g_au)"/>
<circle cx="447.2" cy="511.1" r="3.4" fill="url(#g_au)"/>
<circle cx="355.9" cy="491.4" r="3.9" fill="url(#g_ni)"/>
<circle cx="376.2" cy="491.4" r="3.9" fill="url(#g_ni)"/>
<circle cx="396.5" cy="491.4" r="3.9" fill="url(#g_ni)"/>
<circle cx="416.8" cy="491.4" r="3.9" fill="url(#g_ni)"/>
<circle cx="437.1" cy="491.4" r="3.9" fill="url(#g_ni)"/>
</g>
<rect x="375.5" y="483.4" width="7.2" height="6.4" fill="#767271"/>
<text x="379.1" y="488.3" fill="#fff" font-size="4.4" text-anchor="middle" font-weight="normal" >15</text>
<circle cx="388.5" cy="487.7" r="3.6" fill="url(#g_h)"/>
<circle cx="400.2" cy="486.4" r="3.6" fill="url(#g_h)"/>
<circle cx="407.1" cy="487.7" r="3.6" fill="url(#g_h)"/>
<circle cx="396.2" cy="492.8" r="3.5" fill="url(#g_c)"/>
<clipPath id="cl33"><rect x="432.3" y="483.4" width="52.4" height="34.9"/></clipPath>
<g clip-path="url(#cl33)">
<line x1="432.3" y1="491.4" x2="484.7" y2="491.4" stroke="#6e87c2" stroke-width="1.4"/>
<line x1="432.3" y1="499.0" x2="484.7" y2="499.0" stroke="#6e87c2" stroke-width="1.3"/>
<line x1="432.3" y1="500.9" x2="484.7" y2="500.9" stroke="#6e87c2" stroke-width="1.3"/>
<line x1="432.3" y1="507.1" x2="484.7" y2="507.1" stroke="#6e87c2" stroke-width="1.0"/>
<line x1="432.3" y1="518.5" x2="484.7" y2="518.5" stroke="#6e87c2" stroke-width="1.4"/>
<path d="M412.7,491.4 L422.9,499.9 L433.0,491.4 M412.7,491.4 L412.7,506.3 M402.6,499.9 L412.7,506.3 L422.9,499.9 M412.7,506.3 L422.9,511.1 M412.7,506.3 L402.6,511.1 M422.9,511.1 L412.7,518.5 L402.6,511.1 M412.7,491.4 L427.9,506.3 M412.7,491.4 L397.5,506.3 M433.0,491.4 L443.2,499.9 L453.3,491.4 M433.0,491.4 L433.0,506.3 M422.9,499.9 L433.0,506.3 L443.2,499.9 M433.0,506.3 L443.2,511.1 M433.0,506.3 L422.9,511.1 M443.2,511.1 L433.0,518.5 L422.9,511.1 M433.0,491.4 L448.2,506.3 M433.0,491.4 L417.8,506.3 M453.3,491.4 L463.5,499.9 L473.6,491.4 M453.3,491.4 L453.3,506.3 M443.2,499.9 L453.3,506.3 L463.5,499.9 M453.3,506.3 L463.5,511.1 M453.3,506.3 L443.2,511.1 M463.5,511.1 L453.3,518.5 L443.2,511.1 M453.3,491.4 L468.5,506.3 M453.3,491.4 L438.1,506.3 M473.6,491.4 L483.8,499.9 L493.9,491.4 M473.6,491.4 L473.6,506.3 M463.5,499.9 L473.6,506.3 L483.8,499.9 M473.6,506.3 L483.8,511.1 M473.6,506.3 L463.5,511.1 M483.8,511.1 L473.6,518.5 L463.5,511.1 M473.6,491.4 L488.8,506.3 M473.6,491.4 L458.4,506.3 M493.9,491.4 L504.1,499.9 L514.2,491.4 M493.9,491.4 L493.9,506.3 M483.8,499.9 L493.9,506.3 L504.1,499.9 M493.9,506.3 L504.1,511.1 M493.9,506.3 L483.8,511.1 M504.1,511.1 L493.9,518.5 L483.8,511.1 M493.9,491.4 L509.1,506.3 M493.9,491.4 L478.7,506.3 " stroke="#6e87c2" stroke-width="1.4" fill="none"/>
<line x1="432.3" y1="511.4" x2="484.7" y2="511.4" stroke="#e2b522" stroke-width="1.2"/>
<line x1="412.7" y1="515.7" x2="412.7" y2="518.5" stroke="#e2b522" stroke-width="1.3"/>
<line x1="433.0" y1="515.7" x2="433.0" y2="518.5" stroke="#e2b522" stroke-width="1.3"/>
<line x1="453.3" y1="515.7" x2="453.3" y2="518.5" stroke="#e2b522" stroke-width="1.3"/>
<line x1="473.6" y1="515.7" x2="473.6" y2="518.5" stroke="#e2b522" stroke-width="1.3"/>
<line x1="493.9" y1="515.7" x2="493.9" y2="518.5" stroke="#e2b522" stroke-width="1.3"/>
<circle cx="422.9" cy="520.1" r="3.0" fill="url(#g_ni)"/>
<circle cx="443.2" cy="520.1" r="3.0" fill="url(#g_ni)"/>
<circle cx="463.5" cy="520.1" r="3.0" fill="url(#g_ni)"/>
<circle cx="483.8" cy="520.1" r="3.0" fill="url(#g_ni)"/>
<circle cx="504.1" cy="520.1" r="3.0" fill="url(#g_ni)"/>
<circle cx="422.9" cy="499.9" r="3.6" fill="url(#g_ni)"/>
<circle cx="443.2" cy="499.9" r="3.6" fill="url(#g_ni)"/>
<circle cx="463.5" cy="499.9" r="3.6" fill="url(#g_ni)"/>
<circle cx="483.8" cy="499.9" r="3.6" fill="url(#g_ni)"/>
<circle cx="504.1" cy="499.9" r="3.6" fill="url(#g_ni)"/>
<circle cx="412.7" cy="506.3" r="3.7" fill="url(#g_ni)"/>
<circle cx="433.0" cy="506.3" r="3.7" fill="url(#g_ni)"/>
<circle cx="453.3" cy="506.3" r="3.7" fill="url(#g_ni)"/>
<circle cx="473.6" cy="506.3" r="3.7" fill="url(#g_ni)"/>
<circle cx="493.9" cy="506.3" r="3.7" fill="url(#g_ni)"/>
<circle cx="422.9" cy="511.1" r="3.4" fill="url(#g_au)"/>
<circle cx="443.2" cy="511.1" r="3.4" fill="url(#g_au)"/>
<circle cx="463.5" cy="511.1" r="3.4" fill="url(#g_au)"/>
<circle cx="483.8" cy="511.1" r="3.4" fill="url(#g_au)"/>
<circle cx="504.1" cy="511.1" r="3.4" fill="url(#g_au)"/>
<circle cx="412.7" cy="491.4" r="3.9" fill="url(#g_ni)"/>
<circle cx="433.0" cy="491.4" r="3.9" fill="url(#g_ni)"/>
<circle cx="453.3" cy="491.4" r="3.9" fill="url(#g_ni)"/>
<circle cx="473.6" cy="491.4" r="3.9" fill="url(#g_ni)"/>
<circle cx="493.9" cy="491.4" r="3.9" fill="url(#g_ni)"/>
</g>
<rect x="432.3" y="483.4" width="7.2" height="6.4" fill="#767271"/>
<text x="435.9" y="488.3" fill="#fff" font-size="4.4" text-anchor="middle" font-weight="normal" >16</text>
<circle cx="453.6" cy="478.8" r="3.6" fill="url(#g_h)"/>
<circle cx="446.5" cy="485.7" r="3.6" fill="url(#g_h)"/>
<circle cx="460.4" cy="485.7" r="3.6" fill="url(#g_h)"/>
<circle cx="453.6" cy="486.4" r="3.5" fill="url(#g_c)"/>
<clipPath id="cl34"><rect x="489.2" y="483.4" width="52.4" height="34.9"/></clipPath>
<g clip-path="url(#cl34)">
<line x1="489.2" y1="491.4" x2="541.6" y2="491.4" stroke="#6e87c2" stroke-width="1.4"/>
<line x1="489.2" y1="499.0" x2="541.6" y2="499.0" stroke="#6e87c2" stroke-width="1.3"/>
<line x1="489.2" y1="500.9" x2="541.6" y2="500.9" stroke="#6e87c2" stroke-width="1.3"/>
<line x1="489.2" y1="507.1" x2="541.6" y2="507.1" stroke="#6e87c2" stroke-width="1.0"/>
<line x1="489.2" y1="518.5" x2="541.6" y2="518.5" stroke="#6e87c2" stroke-width="1.4"/>
<path d="M469.6,491.4 L479.7,499.9 L489.9,491.4 M469.6,491.4 L469.6,506.3 M459.4,499.9 L469.6,506.3 L479.7,499.9 M469.6,506.3 L479.7,511.1 M469.6,506.3 L459.4,511.1 M479.7,511.1 L469.6,518.5 L459.4,511.1 M469.6,491.4 L484.8,506.3 M469.6,491.4 L454.4,506.3 M489.9,491.4 L500.0,499.9 L510.2,491.4 M489.9,491.4 L489.9,506.3 M479.7,499.9 L489.9,506.3 L500.0,499.9 M489.9,506.3 L500.0,511.1 M489.9,506.3 L479.7,511.1 M500.0,511.1 L489.9,518.5 L479.7,511.1 M489.9,491.4 L505.1,506.3 M489.9,491.4 L474.7,506.3 M510.2,491.4 L520.3,499.9 L530.5,491.4 M510.2,491.4 L510.2,506.3 M500.0,499.9 L510.2,506.3 L520.3,499.9 M510.2,506.3 L520.3,511.1 M510.2,506.3 L500.0,511.1 M520.3,511.1 L510.2,518.5 L500.0,511.1 M510.2,491.4 L525.4,506.3 M510.2,491.4 L495.0,506.3 M530.5,491.4 L540.6,499.9 L550.8,491.4 M530.5,491.4 L530.5,506.3 M520.3,499.9 L530.5,506.3 L540.6,499.9 M530.5,506.3 L540.6,511.1 M530.5,506.3 L520.3,511.1 M540.6,511.1 L530.5,518.5 L520.3,511.1 M530.5,491.4 L545.7,506.3 M530.5,491.4 L515.3,506.3 M550.8,491.4 L560.9,499.9 L571.1,491.4 M550.8,491.4 L550.8,506.3 M540.6,499.9 L550.8,506.3 L560.9,499.9 M550.8,506.3 L560.9,511.1 M550.8,506.3 L540.6,511.1 M560.9,511.1 L550.8,518.5 L540.6,511.1 M550.8,491.4 L566.0,506.3 M550.8,491.4 L535.6,506.3 " stroke="#6e87c2" stroke-width="1.4" fill="none"/>
<line x1="489.2" y1="511.4" x2="541.6" y2="511.4" stroke="#e2b522" stroke-width="1.2"/>
<line x1="469.6" y1="515.7" x2="469.6" y2="518.5" stroke="#e2b522" stroke-width="1.3"/>
<line x1="489.9" y1="515.7" x2="489.9" y2="518.5" stroke="#e2b522" stroke-width="1.3"/>
<line x1="510.2" y1="515.7" x2="510.2" y2="518.5" stroke="#e2b522" stroke-width="1.3"/>
<line x1="530.5" y1="515.7" x2="530.5" y2="518.5" stroke="#e2b522" stroke-width="1.3"/>
<line x1="550.8" y1="515.7" x2="550.8" y2="518.5" stroke="#e2b522" stroke-width="1.3"/>
<circle cx="479.7" cy="520.1" r="3.0" fill="url(#g_ni)"/>
<circle cx="500.0" cy="520.1" r="3.0" fill="url(#g_ni)"/>
<circle cx="520.3" cy="520.1" r="3.0" fill="url(#g_ni)"/>
<circle cx="540.6" cy="520.1" r="3.0" fill="url(#g_ni)"/>
<circle cx="560.9" cy="520.1" r="3.0" fill="url(#g_ni)"/>
<circle cx="479.7" cy="499.9" r="3.6" fill="url(#g_ni)"/>
<circle cx="500.0" cy="499.9" r="3.6" fill="url(#g_ni)"/>
<circle cx="520.3" cy="499.9" r="3.6" fill="url(#g_ni)"/>
<circle cx="540.6" cy="499.9" r="3.6" fill="url(#g_ni)"/>
<circle cx="560.9" cy="499.9" r="3.6" fill="url(#g_ni)"/>
<circle cx="469.6" cy="506.3" r="3.7" fill="url(#g_ni)"/>
<circle cx="489.9" cy="506.3" r="3.7" fill="url(#g_ni)"/>
<circle cx="510.2" cy="506.3" r="3.7" fill="url(#g_ni)"/>
<circle cx="530.5" cy="506.3" r="3.7" fill="url(#g_ni)"/>
<circle cx="550.8" cy="506.3" r="3.7" fill="url(#g_ni)"/>
<circle cx="479.7" cy="511.1" r="3.4" fill="url(#g_au)"/>
<circle cx="500.0" cy="511.1" r="3.4" fill="url(#g_au)"/>
<circle cx="520.3" cy="511.1" r="3.4" fill="url(#g_au)"/>
<circle cx="540.6" cy="511.1" r="3.4" fill="url(#g_au)"/>
<circle cx="560.9" cy="511.1" r="3.4" fill="url(#g_au)"/>
<circle cx="469.6" cy="491.4" r="3.9" fill="url(#g_ni)"/>
<circle cx="489.9" cy="491.4" r="3.9" fill="url(#g_ni)"/>
<circle cx="510.2" cy="491.4" r="3.9" fill="url(#g_ni)"/>
<circle cx="530.5" cy="491.4" r="3.9" fill="url(#g_ni)"/>
<circle cx="550.8" cy="491.4" r="3.9" fill="url(#g_ni)"/>
</g>
<rect x="489.2" y="483.4" width="7.2" height="6.4" fill="#767271"/>
<text x="492.8" y="488.3" fill="#fff" font-size="4.4" text-anchor="middle" font-weight="normal" >17</text>
<circle cx="510.1" cy="478.0" r="3.6" fill="url(#g_h)"/>
<circle cx="502.9" cy="484.7" r="3.6" fill="url(#g_h)"/>
<circle cx="517.2" cy="484.7" r="3.6" fill="url(#g_h)"/>
<circle cx="510.1" cy="485.7" r="3.5" fill="url(#g_c)"/>
<circle cx="531.6" cy="494.8" r="3.6" fill="url(#g_h)"/>
<linearGradient id="hm1b" gradientUnits="userSpaceOnUse" x1="565.6" y1="0" x2="653.1" y2="0" gradientTransform="translate(0.975,0) skewX(-1.184)"><stop offset="0.000" stop-color="#5e4fa2"/><stop offset="0.055" stop-color="#3288bd"/><stop offset="0.130" stop-color="#66c2a5"/><stop offset="0.190" stop-color="#abdda4"/><stop offset="0.270" stop-color="#e6f598"/><stop offset="0.360" stop-color="#ffffbf"/><stop offset="0.470" stop-color="#fee08b"/><stop offset="0.590" stop-color="#fdae61"/><stop offset="0.740" stop-color="#f46d43"/><stop offset="1.000" stop-color="#d53e4f"/></linearGradient>
<rect x="565.6" y="10.9" width="87.5" height="72.6" fill="url(#hm1b)" stroke="#333" stroke-width="0.6"/>
<line x1="563.8000000000001" y1="10.9" x2="565.6" y2="10.9" stroke="#333" stroke-width="0.7"/>
<text x="563.3" y="13.9" fill="#222" font-size="8.4" text-anchor="end" font-weight="normal" >1.0</text>
<line x1="564.5" y1="20.0" x2="565.6" y2="20.0" stroke="#333" stroke-width="0.6"/>
<line x1="563.8000000000001" y1="29.0" x2="565.6" y2="29.0" stroke="#333" stroke-width="0.7"/>
<text x="563.3" y="32.0" fill="#222" font-size="8.4" text-anchor="end" font-weight="normal" >0.5</text>
<line x1="564.5" y1="38.1" x2="565.6" y2="38.1" stroke="#333" stroke-width="0.6"/>
<line x1="563.8000000000001" y1="47.2" x2="565.6" y2="47.2" stroke="#333" stroke-width="0.7"/>
<text x="563.3" y="50.2" fill="#222" font-size="8.4" text-anchor="end" font-weight="normal" >0.0</text>
<line x1="564.5" y1="56.3" x2="565.6" y2="56.3" stroke="#333" stroke-width="0.6"/>
<line x1="563.8000000000001" y1="65.3" x2="565.6" y2="65.3" stroke="#333" stroke-width="0.7"/>
<text x="563.3" y="68.3" fill="#222" font-size="8.4" text-anchor="end" font-weight="normal" >-0.5</text>
<line x1="564.5" y1="74.4" x2="565.6" y2="74.4" stroke="#333" stroke-width="0.6"/>
<line x1="563.8000000000001" y1="83.5" x2="565.6" y2="83.5" stroke="#333" stroke-width="0.7"/>
<text x="563.3" y="86.5" fill="#222" font-size="8.4" text-anchor="end" font-weight="normal" >-1.0</text>
<line x1="565.6" y1="83.5" x2="565.6" y2="85.3" stroke="#333" stroke-width="0.7"/>
<line x1="580.2" y1="83.5" x2="580.2" y2="84.6" stroke="#333" stroke-width="0.7"/>
<line x1="594.8" y1="83.5" x2="594.8" y2="85.3" stroke="#333" stroke-width="0.7"/>
<line x1="609.4" y1="83.5" x2="609.4" y2="84.6" stroke="#333" stroke-width="0.7"/>
<line x1="623.9" y1="83.5" x2="623.9" y2="85.3" stroke="#333" stroke-width="0.7"/>
<line x1="638.5" y1="83.5" x2="638.5" y2="84.6" stroke="#333" stroke-width="0.7"/>
<line x1="653.1" y1="83.5" x2="653.1" y2="85.3" stroke="#333" stroke-width="0.7"/>
<linearGradient id="hm2b" gradientUnits="userSpaceOnUse" x1="565.6" y1="0" x2="653.1" y2="0" gradientTransform="translate(4.411,0) skewX(-1.972)"><stop offset="0.000" stop-color="#4ba3ae"/><stop offset="0.080" stop-color="#66c2a5"/><stop offset="0.170" stop-color="#abdda4"/><stop offset="0.250" stop-color="#e6f598"/><stop offset="0.320" stop-color="#ffffbf"/><stop offset="0.430" stop-color="#fee08b"/><stop offset="0.550" stop-color="#fdae61"/><stop offset="0.700" stop-color="#f46d43"/><stop offset="0.860" stop-color="#d53e4f"/><stop offset="1.000" stop-color="#cc3350"/></linearGradient>
<rect x="565.6" y="91.8" width="87.5" height="72.6" fill="url(#hm2b)" stroke="#333" stroke-width="0.6"/>
<line x1="563.8000000000001" y1="91.8" x2="565.6" y2="91.8" stroke="#333" stroke-width="0.7"/>
<text x="563.3" y="94.8" fill="#222" font-size="8.4" text-anchor="end" font-weight="normal" >1.0</text>
<line x1="564.5" y1="100.9" x2="565.6" y2="100.9" stroke="#333" stroke-width="0.6"/>
<line x1="563.8000000000001" y1="110.0" x2="565.6" y2="110.0" stroke="#333" stroke-width="0.7"/>
<text x="563.3" y="113.0" fill="#222" font-size="8.4" text-anchor="end" font-weight="normal" >0.5</text>
<line x1="564.5" y1="119.0" x2="565.6" y2="119.0" stroke="#333" stroke-width="0.6"/>
<line x1="563.8000000000001" y1="128.1" x2="565.6" y2="128.1" stroke="#333" stroke-width="0.7"/>
<text x="563.3" y="131.1" fill="#222" font-size="8.4" text-anchor="end" font-weight="normal" >0.0</text>
<line x1="564.5" y1="137.2" x2="565.6" y2="137.2" stroke="#333" stroke-width="0.6"/>
<line x1="563.8000000000001" y1="146.2" x2="565.6" y2="146.2" stroke="#333" stroke-width="0.7"/>
<text x="563.3" y="149.2" fill="#222" font-size="8.4" text-anchor="end" font-weight="normal" >-0.5</text>
<line x1="564.5" y1="155.3" x2="565.6" y2="155.3" stroke="#333" stroke-width="0.6"/>
<line x1="563.8000000000001" y1="164.4" x2="565.6" y2="164.4" stroke="#333" stroke-width="0.7"/>
<text x="563.3" y="167.4" fill="#222" font-size="8.4" text-anchor="end" font-weight="normal" >-1.0</text>
<line x1="565.6" y1="164.4" x2="565.6" y2="166.2" stroke="#333" stroke-width="0.7"/>
<line x1="580.2" y1="164.4" x2="580.2" y2="165.5" stroke="#333" stroke-width="0.7"/>
<line x1="594.8" y1="164.4" x2="594.8" y2="166.2" stroke="#333" stroke-width="0.7"/>
<line x1="609.4" y1="164.4" x2="609.4" y2="165.5" stroke="#333" stroke-width="0.7"/>
<line x1="623.9" y1="164.4" x2="623.9" y2="166.2" stroke="#333" stroke-width="0.7"/>
<line x1="638.5" y1="164.4" x2="638.5" y2="165.5" stroke="#333" stroke-width="0.7"/>
<line x1="653.1" y1="164.4" x2="653.1" y2="166.2" stroke="#333" stroke-width="0.7"/>
<linearGradient id="hm3b" gradientUnits="userSpaceOnUse" x1="565.6" y1="0" x2="653.1" y2="0" gradientTransform="translate(32.547,0) skewX(-8.592)"><stop offset="0.000" stop-color="#9e0142"/><stop offset="0.175" stop-color="#9e0142"/><stop offset="0.200" stop-color="#c23a5a"/><stop offset="0.245" stop-color="#dc5050"/><stop offset="0.315" stop-color="#f27048"/><stop offset="0.380" stop-color="#f88e54"/><stop offset="0.455" stop-color="#fca660"/><stop offset="0.620" stop-color="#fdb466"/><stop offset="1.000" stop-color="#fdb567"/></linearGradient>
<rect x="565.6" y="179.0" width="87.5" height="72.8" fill="url(#hm3b)" stroke="#333" stroke-width="0.6"/>
<line x1="563.8000000000001" y1="179.0" x2="565.6" y2="179.0" stroke="#333" stroke-width="0.7"/>
<text x="563.3" y="182.0" fill="#222" font-size="8.4" text-anchor="end" font-weight="normal" >1.0</text>
<line x1="564.5" y1="188.1" x2="565.6" y2="188.1" stroke="#333" stroke-width="0.6"/>
<line x1="563.8000000000001" y1="197.2" x2="565.6" y2="197.2" stroke="#333" stroke-width="0.7"/>
<text x="563.3" y="200.2" fill="#222" font-size="8.4" text-anchor="end" font-weight="normal" >0.5</text>
<line x1="564.5" y1="206.3" x2="565.6" y2="206.3" stroke="#333" stroke-width="0.6"/>
<line x1="563.8000000000001" y1="215.4" x2="565.6" y2="215.4" stroke="#333" stroke-width="0.7"/>
<text x="563.3" y="218.4" fill="#222" font-size="8.4" text-anchor="end" font-weight="normal" >0.0</text>
<line x1="564.5" y1="224.5" x2="565.6" y2="224.5" stroke="#333" stroke-width="0.6"/>
<line x1="563.8000000000001" y1="233.6" x2="565.6" y2="233.6" stroke="#333" stroke-width="0.7"/>
<text x="563.3" y="236.6" fill="#222" font-size="8.4" text-anchor="end" font-weight="normal" >-0.5</text>
<line x1="564.5" y1="242.7" x2="565.6" y2="242.7" stroke="#333" stroke-width="0.6"/>
<line x1="563.8000000000001" y1="251.8" x2="565.6" y2="251.8" stroke="#333" stroke-width="0.7"/>
<text x="563.3" y="254.8" fill="#222" font-size="8.4" text-anchor="end" font-weight="normal" >-1.0</text>
<line x1="565.6" y1="251.8" x2="565.6" y2="253.6" stroke="#333" stroke-width="0.7"/>
<line x1="580.2" y1="251.8" x2="580.2" y2="252.9" stroke="#333" stroke-width="0.7"/>
<line x1="594.8" y1="251.8" x2="594.8" y2="253.6" stroke="#333" stroke-width="0.7"/>
<line x1="609.4" y1="251.8" x2="609.4" y2="252.9" stroke="#333" stroke-width="0.7"/>
<line x1="623.9" y1="251.8" x2="623.9" y2="253.6" stroke="#333" stroke-width="0.7"/>
<line x1="638.5" y1="251.8" x2="638.5" y2="252.9" stroke="#333" stroke-width="0.7"/>
<line x1="653.1" y1="251.8" x2="653.1" y2="253.6" stroke="#333" stroke-width="0.7"/>
<linearGradient id="cb1b" gradientUnits="userSpaceOnUse" x1="0" y1="11.0" x2="0" y2="164.6"><stop offset="0.000" stop-color="#9e0142"/><stop offset="0.100" stop-color="#d53e4f"/><stop offset="0.200" stop-color="#f46d43"/><stop offset="0.300" stop-color="#fdae61"/><stop offset="0.400" stop-color="#fee08b"/><stop offset="0.500" stop-color="#ffffbf"/><stop offset="0.600" stop-color="#e6f598"/><stop offset="0.700" stop-color="#abdda4"/><stop offset="0.800" stop-color="#66c2a5"/><stop offset="0.900" stop-color="#3288bd"/><stop offset="1.000" stop-color="#5e4fa2"/></linearGradient>
<rect x="660.1" y="11.0" width="7.5" height="153.6" fill="url(#cb1b)" stroke="#444" stroke-width="0.5"/>
<line x1="667.6" y1="12.7" x2="669.1" y2="12.7" stroke="#333" stroke-width="0.6"/>
<text x="670.0" y="15.7" fill="#222" font-size="8.4" text-anchor="start" font-weight="normal" >0</text>
<line x1="667.6" y1="50.6" x2="669.1" y2="50.6" stroke="#333" stroke-width="0.6"/>
<text x="670.0" y="53.6" fill="#222" font-size="8.4" text-anchor="start" font-weight="normal" >6</text>
<line x1="667.6" y1="88.5" x2="669.1" y2="88.5" stroke="#333" stroke-width="0.6"/>
<text x="670.0" y="91.5" fill="#222" font-size="8.4" text-anchor="start" font-weight="normal" >11</text>
<line x1="667.6" y1="126.4" x2="669.1" y2="126.4" stroke="#333" stroke-width="0.6"/>
<text x="670.0" y="129.4" fill="#222" font-size="8.4" text-anchor="start" font-weight="normal" >17</text>
<line x1="667.6" y1="164.3" x2="669.1" y2="164.3" stroke="#333" stroke-width="0.6"/>
<text x="670.0" y="167.3" fill="#222" font-size="8.4" text-anchor="start" font-weight="normal" >22</text>
<linearGradient id="cb2b" gradientUnits="userSpaceOnUse" x1="0" y1="178.6" x2="0" y2="252.0"><stop offset="0.000" stop-color="#9e0142"/><stop offset="0.100" stop-color="#d53e4f"/><stop offset="0.200" stop-color="#f46d43"/><stop offset="0.300" stop-color="#fdae61"/><stop offset="0.400" stop-color="#fee08b"/><stop offset="0.500" stop-color="#ffffbf"/><stop offset="0.600" stop-color="#e6f598"/><stop offset="0.700" stop-color="#abdda4"/><stop offset="0.800" stop-color="#66c2a5"/><stop offset="0.900" stop-color="#3288bd"/><stop offset="1.000" stop-color="#5e4fa2"/></linearGradient>
<rect x="660.1" y="178.6" width="7.5" height="73.4" fill="url(#cb2b)" stroke="#444" stroke-width="0.5"/>
<line x1="667.6" y1="180.2" x2="669.1" y2="180.2" stroke="#333" stroke-width="0.6"/>
<text x="670.0" y="183.2" fill="#222" font-size="8.4" text-anchor="start" font-weight="normal" >2</text>
<line x1="667.6" y1="198.1" x2="669.1" y2="198.1" stroke="#333" stroke-width="0.6"/>
<text x="670.0" y="201.1" fill="#222" font-size="8.4" text-anchor="start" font-weight="normal" >1</text>
<line x1="667.6" y1="216.0" x2="669.1" y2="216.0" stroke="#333" stroke-width="0.6"/>
<text x="670.0" y="219.0" fill="#222" font-size="8.4" text-anchor="start" font-weight="normal" >0</text>
<line x1="667.6" y1="233.9" x2="669.1" y2="233.9" stroke="#333" stroke-width="0.6"/>
<text x="669.0" y="236.9" fill="#222" font-size="8.4" text-anchor="start" font-weight="normal" >-1</text>
<line x1="667.6" y1="251.8" x2="669.1" y2="251.8" stroke="#333" stroke-width="0.6"/>
<text x="669.0" y="254.8" fill="#222" font-size="8.4" text-anchor="start" font-weight="normal" >-2</text>
<text x="639.6" y="80.9" fill="#111" font-size="9.7" text-anchor="end">TOF</text><text x="640.0" y="80.9" fill="#111" font-size="6" text-anchor="start">CO</text>
<text x="639.6" y="162.0" fill="#111" font-size="9.7" text-anchor="end">TOF</text><text x="640.0" y="162.0" fill="#111" font-size="5.3" text-anchor="start">CH4</text>
<text x="650.5" y="249.5" fill="#111" font-size="10" text-anchor="end">CH<tspan font-size="6">4</tspan>/CO</text>
<text x="0" y="0" transform="translate(548.3,128.3) rotate(-90)" fill="#222" font-size="8.2" text-anchor="middle">log <tspan font-style="italic">P</tspan> (bar)</text>
<text x="565.6" y="261.2" fill="#222" font-size="8.2" text-anchor="middle" font-weight="normal" >400</text>
<text x="594.8" y="261.2" fill="#222" font-size="8.2" text-anchor="middle" font-weight="normal" >500</text>
<text x="623.9" y="261.2" fill="#222" font-size="8.2" text-anchor="middle" font-weight="normal" >600</text>
<text x="653.1" y="261.2" fill="#222" font-size="8.2" text-anchor="middle" font-weight="normal" >700</text>
<text x="609.0" y="269.4" fill="#222" font-size="8.6" text-anchor="middle" font-weight="normal" >Temperature (K)</text>
<text x="679.6" y="6.8" fill="#222" font-size="9.9" text-anchor="end" font-weight="normal" >log (TOF)</text>
<text x="686.0" y="175.4" fill="#222" font-size="10" text-anchor="end" font-weight="normal" >Selectivity</text>
<linearGradient id="hm1d" gradientUnits="userSpaceOnUse" x1="565.6" y1="0" x2="653.1" y2="0" gradientTransform="translate(6.603,0) skewX(-1.184)"><stop offset="0.000" stop-color="#5e4fa2"/><stop offset="0.090" stop-color="#5a58a6"/><stop offset="0.130" stop-color="#3288bd"/><stop offset="0.200" stop-color="#66c2a5"/><stop offset="0.270" stop-color="#abdda4"/><stop offset="0.360" stop-color="#e6f598"/><stop offset="0.440" stop-color="#ffffbf"/><stop offset="0.550" stop-color="#fee08b"/><stop offset="0.650" stop-color="#fdae61"/><stop offset="0.780" stop-color="#f46d43"/><stop offset="0.920" stop-color="#d53e4f"/><stop offset="1.000" stop-color="#d53e4f"/></linearGradient>
<rect x="565.6" y="283.29999999999995" width="87.5" height="72.6" fill="url(#hm1d)" stroke="#333" stroke-width="0.6"/>
<line x1="563.8000000000001" y1="283.3" x2="565.6" y2="283.3" stroke="#333" stroke-width="0.7"/>
<text x="563.3" y="286.3" fill="#222" font-size="8.4" text-anchor="end" font-weight="normal" >1.0</text>
<line x1="564.5" y1="292.4" x2="565.6" y2="292.4" stroke="#333" stroke-width="0.6"/>
<line x1="563.8000000000001" y1="301.4" x2="565.6" y2="301.4" stroke="#333" stroke-width="0.7"/>
<text x="563.3" y="304.4" fill="#222" font-size="8.4" text-anchor="end" font-weight="normal" >0.5</text>
<line x1="564.5" y1="310.5" x2="565.6" y2="310.5" stroke="#333" stroke-width="0.6"/>
<line x1="563.8000000000001" y1="319.6" x2="565.6" y2="319.6" stroke="#333" stroke-width="0.7"/>
<text x="563.3" y="322.6" fill="#222" font-size="8.4" text-anchor="end" font-weight="normal" >0.0</text>
<line x1="564.5" y1="328.7" x2="565.6" y2="328.7" stroke="#333" stroke-width="0.6"/>
<line x1="563.8000000000001" y1="337.8" x2="565.6" y2="337.8" stroke="#333" stroke-width="0.7"/>
<text x="563.3" y="340.8" fill="#222" font-size="8.4" text-anchor="end" font-weight="normal" >-0.5</text>
<line x1="564.5" y1="346.8" x2="565.6" y2="346.8" stroke="#333" stroke-width="0.6"/>
<line x1="563.8000000000001" y1="355.9" x2="565.6" y2="355.9" stroke="#333" stroke-width="0.7"/>
<text x="563.3" y="358.9" fill="#222" font-size="8.4" text-anchor="end" font-weight="normal" >-1.0</text>
<line x1="565.6" y1="355.9" x2="565.6" y2="357.7" stroke="#333" stroke-width="0.7"/>
<line x1="580.2" y1="355.9" x2="580.2" y2="357.0" stroke="#333" stroke-width="0.7"/>
<line x1="594.8" y1="355.9" x2="594.8" y2="357.7" stroke="#333" stroke-width="0.7"/>
<line x1="609.4" y1="355.9" x2="609.4" y2="357.0" stroke="#333" stroke-width="0.7"/>
<line x1="623.9" y1="355.9" x2="623.9" y2="357.7" stroke="#333" stroke-width="0.7"/>
<line x1="638.5" y1="355.9" x2="638.5" y2="357.0" stroke="#333" stroke-width="0.7"/>
<line x1="653.1" y1="355.9" x2="653.1" y2="357.7" stroke="#333" stroke-width="0.7"/>
<linearGradient id="hm2d" gradientUnits="userSpaceOnUse" x1="565.6" y1="0" x2="653.1" y2="0" gradientTransform="translate(13.874,0) skewX(-1.980)"><stop offset="0.000" stop-color="#4ba3ae"/><stop offset="0.060" stop-color="#66c2a5"/><stop offset="0.150" stop-color="#abdda4"/><stop offset="0.220" stop-color="#e6f598"/><stop offset="0.300" stop-color="#ffffbf"/><stop offset="0.400" stop-color="#fee08b"/><stop offset="0.520" stop-color="#fdae61"/><stop offset="0.670" stop-color="#f46d43"/><stop offset="0.820" stop-color="#d53e4f"/><stop offset="1.000" stop-color="#c02450"/></linearGradient>
<rect x="565.6" y="365.09999999999997" width="87.5" height="72.3" fill="url(#hm2d)" stroke="#333" stroke-width="0.6"/>
<line x1="563.8000000000001" y1="365.1" x2="565.6" y2="365.1" stroke="#333" stroke-width="0.7"/>
<text x="563.3" y="368.1" fill="#222" font-size="8.4" text-anchor="end" font-weight="normal" >1.0</text>
<line x1="564.5" y1="374.1" x2="565.6" y2="374.1" stroke="#333" stroke-width="0.6"/>
<line x1="563.8000000000001" y1="383.2" x2="565.6" y2="383.2" stroke="#333" stroke-width="0.7"/>
<text x="563.3" y="386.2" fill="#222" font-size="8.4" text-anchor="end" font-weight="normal" >0.5</text>
<line x1="564.5" y1="392.2" x2="565.6" y2="392.2" stroke="#333" stroke-width="0.6"/>
<line x1="563.8000000000001" y1="401.2" x2="565.6" y2="401.2" stroke="#333" stroke-width="0.7"/>
<text x="563.3" y="404.2" fill="#222" font-size="8.4" text-anchor="end" font-weight="normal" >0.0</text>
<line x1="564.5" y1="410.3" x2="565.6" y2="410.3" stroke="#333" stroke-width="0.6"/>
<line x1="563.8000000000001" y1="419.3" x2="565.6" y2="419.3" stroke="#333" stroke-width="0.7"/>
<text x="563.3" y="422.3" fill="#222" font-size="8.4" text-anchor="end" font-weight="normal" >-0.5</text>
<line x1="564.5" y1="428.4" x2="565.6" y2="428.4" stroke="#333" stroke-width="0.6"/>
<line x1="563.8000000000001" y1="437.4" x2="565.6" y2="437.4" stroke="#333" stroke-width="0.7"/>
<text x="563.3" y="440.4" fill="#222" font-size="8.4" text-anchor="end" font-weight="normal" >-1.0</text>
<line x1="565.6" y1="437.4" x2="565.6" y2="439.2" stroke="#333" stroke-width="0.7"/>
<line x1="580.2" y1="437.4" x2="580.2" y2="438.5" stroke="#333" stroke-width="0.7"/>
<line x1="594.8" y1="437.4" x2="594.8" y2="439.2" stroke="#333" stroke-width="0.7"/>
<line x1="609.4" y1="437.4" x2="609.4" y2="438.5" stroke="#333" stroke-width="0.7"/>
<line x1="623.9" y1="437.4" x2="623.9" y2="439.2" stroke="#333" stroke-width="0.7"/>
<line x1="638.5" y1="437.4" x2="638.5" y2="438.5" stroke="#333" stroke-width="0.7"/>
<line x1="653.1" y1="437.4" x2="653.1" y2="439.2" stroke="#333" stroke-width="0.7"/>
<linearGradient id="hm3d" gradientUnits="userSpaceOnUse" x1="565.6" y1="0" x2="653.1" y2="0" gradientTransform="translate(97.158,0) skewX(-11.265)"><stop offset="0.000" stop-color="#9e0142"/><stop offset="0.478" stop-color="#9e0142"/><stop offset="0.502" stop-color="#c23a5a"/><stop offset="0.552" stop-color="#dc5050"/><stop offset="0.612" stop-color="#f27048"/><stop offset="0.672" stop-color="#f88e54"/><stop offset="0.752" stop-color="#fca660"/><stop offset="0.870" stop-color="#fdb466"/><stop offset="1.000" stop-color="#fdb567"/></linearGradient>
<rect x="565.6" y="451.4" width="87.5" height="72.8" fill="url(#hm3d)" stroke="#333" stroke-width="0.6"/>
<line x1="563.8000000000001" y1="451.4" x2="565.6" y2="451.4" stroke="#333" stroke-width="0.7"/>
<text x="563.3" y="454.4" fill="#222" font-size="8.4" text-anchor="end" font-weight="normal" >1.0</text>
<line x1="564.5" y1="460.5" x2="565.6" y2="460.5" stroke="#333" stroke-width="0.6"/>
<line x1="563.8000000000001" y1="469.6" x2="565.6" y2="469.6" stroke="#333" stroke-width="0.7"/>
<text x="563.3" y="472.6" fill="#222" font-size="8.4" text-anchor="end" font-weight="normal" >0.5</text>
<line x1="564.5" y1="478.7" x2="565.6" y2="478.7" stroke="#333" stroke-width="0.6"/>
<line x1="563.8000000000001" y1="487.8" x2="565.6" y2="487.8" stroke="#333" stroke-width="0.7"/>
<text x="563.3" y="490.8" fill="#222" font-size="8.4" text-anchor="end" font-weight="normal" >0.0</text>
<line x1="564.5" y1="496.9" x2="565.6" y2="496.9" stroke="#333" stroke-width="0.6"/>
<line x1="563.8000000000001" y1="506.0" x2="565.6" y2="506.0" stroke="#333" stroke-width="0.7"/>
<text x="563.3" y="509.0" fill="#222" font-size="8.4" text-anchor="end" font-weight="normal" >-0.5</text>
<line x1="564.5" y1="515.1" x2="565.6" y2="515.1" stroke="#333" stroke-width="0.6"/>
<line x1="563.8000000000001" y1="524.2" x2="565.6" y2="524.2" stroke="#333" stroke-width="0.7"/>
<text x="563.3" y="527.2" fill="#222" font-size="8.4" text-anchor="end" font-weight="normal" >-1.0</text>
<line x1="565.6" y1="524.2" x2="565.6" y2="526.0" stroke="#333" stroke-width="0.7"/>
<line x1="580.2" y1="524.2" x2="580.2" y2="525.3" stroke="#333" stroke-width="0.7"/>
<line x1="594.8" y1="524.2" x2="594.8" y2="526.0" stroke="#333" stroke-width="0.7"/>
<line x1="609.4" y1="524.2" x2="609.4" y2="525.3" stroke="#333" stroke-width="0.7"/>
<line x1="623.9" y1="524.2" x2="623.9" y2="526.0" stroke="#333" stroke-width="0.7"/>
<line x1="638.5" y1="524.2" x2="638.5" y2="525.3" stroke="#333" stroke-width="0.7"/>
<line x1="653.1" y1="524.2" x2="653.1" y2="526.0" stroke="#333" stroke-width="0.7"/>
<linearGradient id="cb1d" gradientUnits="userSpaceOnUse" x1="0" y1="283.4" x2="0" y2="437.0"><stop offset="0.000" stop-color="#9e0142"/><stop offset="0.100" stop-color="#d53e4f"/><stop offset="0.200" stop-color="#f46d43"/><stop offset="0.300" stop-color="#fdae61"/><stop offset="0.400" stop-color="#fee08b"/><stop offset="0.500" stop-color="#ffffbf"/><stop offset="0.600" stop-color="#e6f598"/><stop offset="0.700" stop-color="#abdda4"/><stop offset="0.800" stop-color="#66c2a5"/><stop offset="0.900" stop-color="#3288bd"/><stop offset="1.000" stop-color="#5e4fa2"/></linearGradient>
<rect x="660.1" y="283.4" width="7.5" height="153.6" fill="url(#cb1d)" stroke="#444" stroke-width="0.5"/>
<line x1="667.6" y1="285.1" x2="669.1" y2="285.1" stroke="#333" stroke-width="0.6"/>
<text x="670.0" y="288.1" fill="#222" font-size="8.4" text-anchor="start" font-weight="normal" >0</text>
<line x1="667.6" y1="323.0" x2="669.1" y2="323.0" stroke="#333" stroke-width="0.6"/>
<text x="670.0" y="326.0" fill="#222" font-size="8.4" text-anchor="start" font-weight="normal" >6</text>
<line x1="667.6" y1="360.9" x2="669.1" y2="360.9" stroke="#333" stroke-width="0.6"/>
<text x="670.0" y="363.9" fill="#222" font-size="8.4" text-anchor="start" font-weight="normal" >11</text>
<line x1="667.6" y1="398.8" x2="669.1" y2="398.8" stroke="#333" stroke-width="0.6"/>
<text x="670.0" y="401.8" fill="#222" font-size="8.4" text-anchor="start" font-weight="normal" >17</text>
<line x1="667.6" y1="436.7" x2="669.1" y2="436.7" stroke="#333" stroke-width="0.6"/>
<text x="670.0" y="439.7" fill="#222" font-size="8.4" text-anchor="start" font-weight="normal" >22</text>
<linearGradient id="cb2d" gradientUnits="userSpaceOnUse" x1="0" y1="451.0" x2="0" y2="524.4"><stop offset="0.000" stop-color="#9e0142"/><stop offset="0.100" stop-color="#d53e4f"/><stop offset="0.200" stop-color="#f46d43"/><stop offset="0.300" stop-color="#fdae61"/><stop offset="0.400" stop-color="#fee08b"/><stop offset="0.500" stop-color="#ffffbf"/><stop offset="0.600" stop-color="#e6f598"/><stop offset="0.700" stop-color="#abdda4"/><stop offset="0.800" stop-color="#66c2a5"/><stop offset="0.900" stop-color="#3288bd"/><stop offset="1.000" stop-color="#5e4fa2"/></linearGradient>
<rect x="660.1" y="451.0" width="7.5" height="73.4" fill="url(#cb2d)" stroke="#444" stroke-width="0.5"/>
<line x1="667.6" y1="452.6" x2="669.1" y2="452.6" stroke="#333" stroke-width="0.6"/>
<text x="670.0" y="455.6" fill="#222" font-size="8.4" text-anchor="start" font-weight="normal" >2</text>
<line x1="667.6" y1="470.5" x2="669.1" y2="470.5" stroke="#333" stroke-width="0.6"/>
<text x="670.0" y="473.5" fill="#222" font-size="8.4" text-anchor="start" font-weight="normal" >1</text>
<line x1="667.6" y1="488.4" x2="669.1" y2="488.4" stroke="#333" stroke-width="0.6"/>
<text x="670.0" y="491.4" fill="#222" font-size="8.4" text-anchor="start" font-weight="normal" >0</text>
<line x1="667.6" y1="506.3" x2="669.1" y2="506.3" stroke="#333" stroke-width="0.6"/>
<text x="669.0" y="509.3" fill="#222" font-size="8.4" text-anchor="start" font-weight="normal" >-1</text>
<line x1="667.6" y1="524.2" x2="669.1" y2="524.2" stroke="#333" stroke-width="0.6"/>
<text x="669.0" y="527.2" fill="#222" font-size="8.4" text-anchor="start" font-weight="normal" >-2</text>
<text x="639.6" y="353.3" fill="#111" font-size="9.7" text-anchor="end">TOF</text><text x="640.0" y="353.3" fill="#111" font-size="6" text-anchor="start">CO</text>
<text x="639.6" y="434.4" fill="#111" font-size="9.7" text-anchor="end">TOF</text><text x="640.0" y="434.4" fill="#111" font-size="5.3" text-anchor="start">CH4</text>
<text x="650.5" y="521.9" fill="#111" font-size="10" text-anchor="end">CH<tspan font-size="6">4</tspan>/CO</text>
<text x="0" y="0" transform="translate(548.3,400.7) rotate(-90)" fill="#222" font-size="8.2" text-anchor="middle">log <tspan font-style="italic">P</tspan> (bar)</text>
<text x="565.6" y="533.6" fill="#222" font-size="8.2" text-anchor="middle" font-weight="normal" >400</text>
<text x="594.8" y="533.6" fill="#222" font-size="8.2" text-anchor="middle" font-weight="normal" >500</text>
<text x="623.9" y="533.6" fill="#222" font-size="8.2" text-anchor="middle" font-weight="normal" >600</text>
<text x="653.1" y="533.6" fill="#222" font-size="8.2" text-anchor="middle" font-weight="normal" >700</text>
<text x="609.0" y="541.8" fill="#222" font-size="8.6" text-anchor="middle" font-weight="normal" >Temperature (K)</text>
<text x="679.6" y="279.2" fill="#222" font-size="9.9" text-anchor="end" font-weight="normal" >log (TOF)</text>
<text x="686.0" y="447.8" fill="#222" font-size="10" text-anchor="end" font-weight="normal" >Selectivity</text>
</svg></body></html>
